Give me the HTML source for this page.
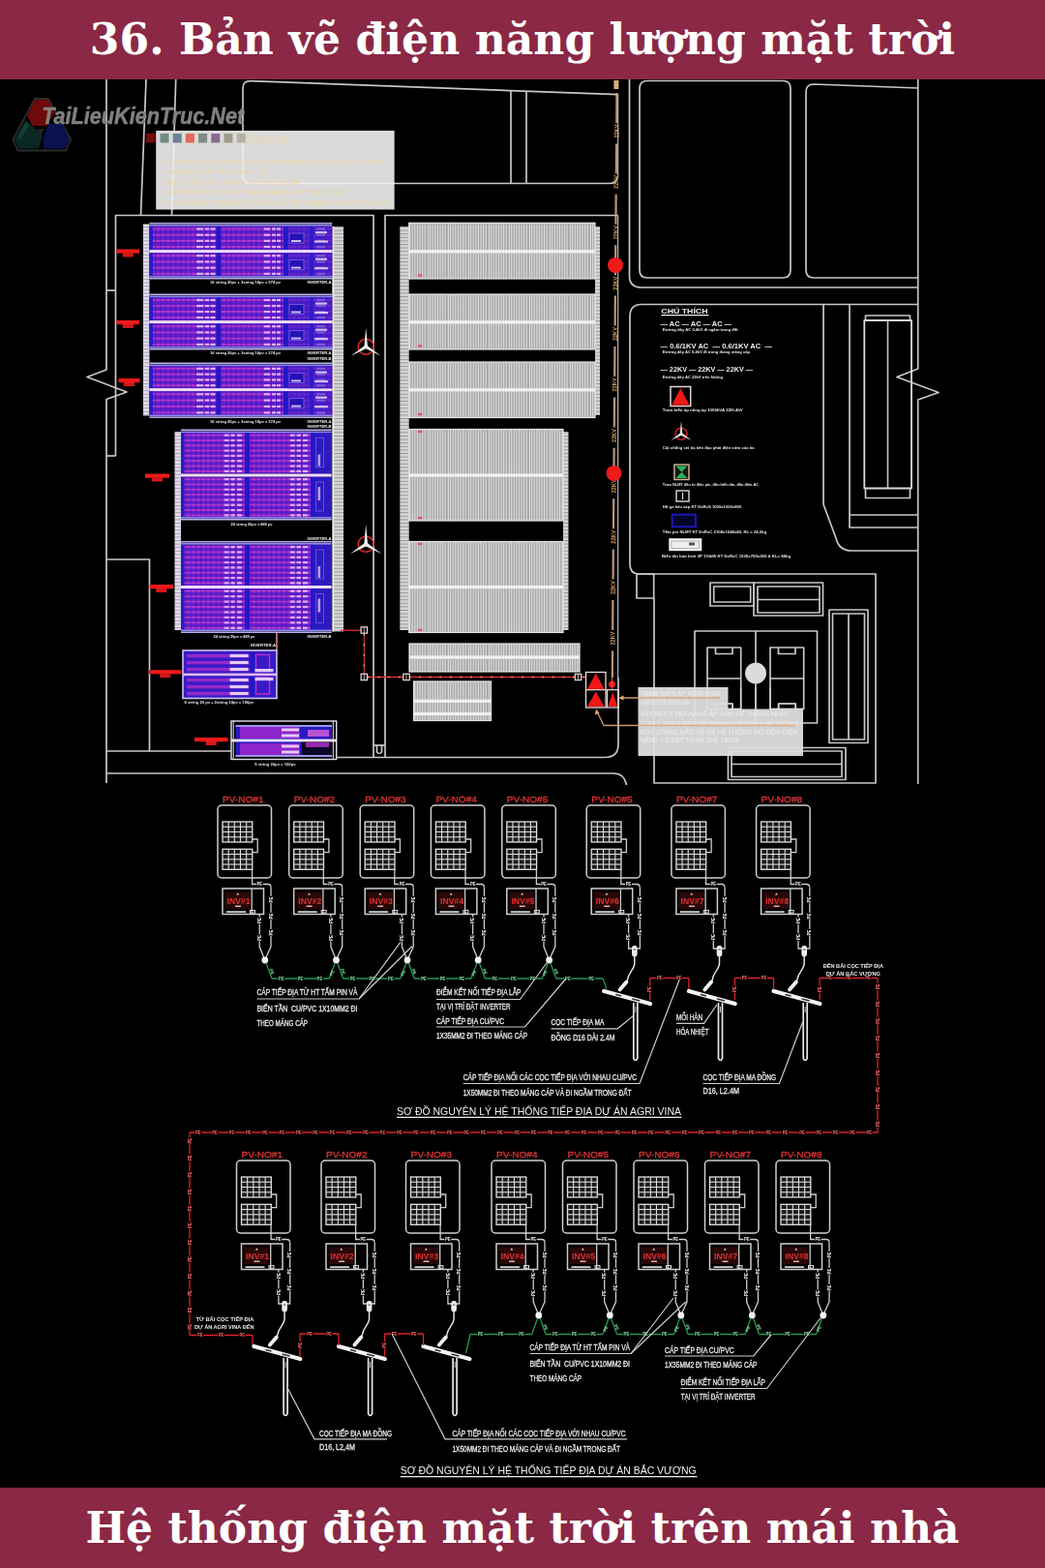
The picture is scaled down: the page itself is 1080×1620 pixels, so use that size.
<!DOCTYPE html>
<html lang="vi">
<head>
<meta charset="utf-8">
<title>36. Bản vẽ điện năng lượng mặt trời</title>
<style>
html,body{margin:0;padding:0;background:#000;}
body{width:1080px;height:1620px;overflow:hidden;position:relative;font-family:"DejaVu Serif","Liberation Serif",serif;}
.bar{position:absolute;left:0;width:1080px;background:#8a2845;color:#fff;font-weight:bold;text-align:center;white-space:nowrap;}
#top{top:0;height:82px;}
#bot{top:1537px;height:83px;}
.bar span{position:absolute;left:0;width:1080px;text-align:center;display:block;}
#top span{font-size:44px;line-height:82px;top:0px;letter-spacing:0.08px;opacity:0.999;}
#bot span{font-size:44px;line-height:82px;top:1px;letter-spacing:0.05px;opacity:0.999;}
svg{position:absolute;left:0;top:0;}
svg text{white-space:pre;}
</style>
</head>
<body>
<svg width="1080" height="1620" viewBox="0 0 1080 1620">
<g opacity="0.999">
<defs>
<pattern id="vl" x="423" width="21" height="4" patternUnits="userSpaceOnUse">
<rect width="21" height="4" fill="#a9a9a9"/>
<path d="M0.6 0V4M3.2 0V4M5.8 0V4M8.4 0V4M11 0V4M13.6 0V4M16.2 0V4M19.4 0V4" stroke="#dcdcdc" stroke-width="1.1"/>
</pattern>
<pattern id="pcell" x="155" width="5.2" height="4" patternUnits="userSpaceOnUse">
<rect x="0" width="1.3" height="4" fill="#2a16b8"/>
</pattern>
<pattern id="hl" width="4" height="3.6" patternUnits="userSpaceOnUse">
<rect width="4" height="3.6" fill="#d6d6d6"/>
<rect y="0" width="4" height="1" fill="#9a9a9a"/>
</pattern>
<pattern id="hlp" width="4" height="3.6" patternUnits="userSpaceOnUse">
<rect width="4" height="3.6" fill="#e2dcec"/>
<rect y="0" width="4" height="1" fill="#a9a3b8"/>
</pattern>
</defs>
<g id="siteplan" fill="none" stroke-linecap="butt" stroke-linejoin="round">
<polyline points="110,82 110,382 90,389.5 131,405 110,412.5 110,809" fill="none" stroke="#c8c8c8" stroke-width="1.7" />
<polyline points="110,300 119.5,300" fill="none" stroke="#c8c8c8" stroke-width="1.7" />
<polyline points="110,471 119.5,471" fill="none" stroke="#c8c8c8" stroke-width="1.7" />
<polyline points="119.5,471 119.5,222.5 386,222.5 386,782.5" fill="none" stroke="#c8c8c8" stroke-width="1.7" />
<polyline points="151,82 145.5,222.5" fill="none" stroke="#c8c8c8" stroke-width="1.7" />
<polyline points="181.7,82 177.5,222.5" fill="none" stroke="#c8c8c8" stroke-width="1.7" />
<polyline points="110,578 154.5,578 154.5,776" fill="none" stroke="#c8c8c8" stroke-width="1.7" />
<polyline points="110,776 239,776" fill="none" stroke="#c8c8c8" stroke-width="1.7" />
<path d="M110 799 H634 Q645 799 647.5 811" fill="none" stroke="#c8c8c8" stroke-width="1.7" />
<path d="M347.5 782.5 H625 Q639 782.5 639 769 V700" fill="none" stroke="#c8c8c8" stroke-width="1.7" />
<path d="M638.7 700 V222.5" fill="none" stroke="#c4c8d4" stroke-width="1.1" />
<path d="M638.7 222.5 H398 V782.5" fill="none" stroke="#c8c8c8" stroke-width="1.7" />
<path d="M389.5 770 V777 Q392 780 394.5 777 V770" fill="none" stroke="#c8c8c8" stroke-width="1.7" />
<polyline points="386,770 398,770" fill="none" stroke="#c8c8c8" stroke-width="1.7" />
<path d="M638.6 97.7 L259 83.7 Q251 83.5 251 91 V181 Q251 189.5 259 189.5 H630 Q637 189.5 638.2 183" fill="none" stroke="#c8c8c8" stroke-width="1.7" />
<path d="M638.7 97.7 V183" fill="none" stroke="#c4c8d4" stroke-width="1.1" />
<polyline points="528,93.5 528,189.5" fill="none" stroke="#c8c8c8" stroke-width="1.7" />
<polyline points="544,94 544,189.5" fill="none" stroke="#c8c8c8" stroke-width="1.7" />
<path d="M650.5 82 V285 Q650.5 297 663 297 H948.7" fill="none" stroke="#c8c8c8" stroke-width="1.7" />
<path d="M669 83.5 H809 Q817 83.5 817 91.5 V279 Q817 287 809 287 H669 Q661 287 661 279 V91.5 Q661 83.5 669 83.5 Z" fill="none" stroke="#c8c8c8" stroke-width="1.7" />
<path d="M948.7 91 L841 87 Q833 87 833 95 V279 Q833 287 841 287 H948.7" fill="none" stroke="#c8c8c8" stroke-width="1.7" />
<polyline points="948.7,82 948.7,381 927,389.5 970,405.5 948.7,413 948.7,810" fill="none" stroke="#c8c8c8" stroke-width="1.7" />
<path d="M948.7 314.5 H663 Q651 314.5 651 327 V583 Q651 593 661 593 H905 V809 H676 V618" fill="none" stroke="#c8c8c8" stroke-width="1.7" />
<rect x="658" y="593" width="17.7" height="25" fill="none" stroke="#c8c8c8" stroke-width="1.7" />
<path d="M851 314.5 V521 L864 556 Q867 569 880 569 H948.7" fill="none" stroke="#c8c8c8" stroke-width="1.7" />
<path d="M878 314.5 V545 H948.7 M878 532 H948.7" fill="none" stroke="#c8c8c8" stroke-width="1.7" />
<rect x="893.3" y="331" width="48.7" height="173.5" fill="none" stroke="#dcdcdc" stroke-width="1.8" />
<polyline points="917.5,331 917.5,504.5" fill="none" stroke="#c8c8c8" stroke-width="1.6" />
<path d="M894.5 331 V326 H940.5 V331 M894.5 504.5 V514.5 H940.5 V504.5" fill="none" stroke="#c8c8c8" stroke-width="1.7" />
<rect x="734" y="602" width="45" height="24" fill="none" stroke="#c8c8c8" stroke-width="1.7" />
<rect x="737.7" y="606" width="38" height="16" fill="none" stroke="#c8c8c8" stroke-width="1.7" />
<rect x="779" y="602" width="71.5" height="34" fill="none" stroke="#c8c8c8" stroke-width="1.7" />
<rect x="783" y="606" width="64" height="27" fill="none" stroke="#c8c8c8" stroke-width="1.7" />
<polyline points="783,619.5 847,619.5" fill="none" stroke="#c8c8c8" stroke-width="1.7" />
<rect x="857" y="630" width="40" height="137.5" fill="none" stroke="#c8c8c8" stroke-width="1.7" />
<rect x="860.5" y="634" width="33" height="130" fill="none" stroke="#c8c8c8" stroke-width="1.7" />
<polyline points="877,634 877,764" fill="none" stroke="#c8c8c8" stroke-width="1.7" />
<rect x="718" y="652" width="126.5" height="95" fill="none" stroke="#c8c8c8" stroke-width="1.7" />
<polyline points="781,652 781,747" fill="none" stroke="#c8c8c8" stroke-width="1.7" />
<rect x="731" y="669" width="34.7" height="63.5" fill="none" stroke="#c8c8c8" stroke-width="1.7" />
<polyline points="739.5,669 739.5,675.5 757,675.5 757,669" fill="none" stroke="#c8c8c8" stroke-width="1.7" />
<polyline points="739.5,732.5 739.5,727 757,727 757,732.5" fill="none" stroke="#c8c8c8" stroke-width="1.7" />
<polyline points="731,701 765.7,701" fill="none" stroke="#c8c8c8" stroke-width="1.7" />
<rect x="796" y="669" width="34.7" height="63.5" fill="none" stroke="#c8c8c8" stroke-width="1.7" />
<polyline points="804.5,669 804.5,675.5 822,675.5 822,669" fill="none" stroke="#c8c8c8" stroke-width="1.7" />
<polyline points="804.5,732.5 804.5,727 822,727 822,732.5" fill="none" stroke="#c8c8c8" stroke-width="1.7" />
<polyline points="796,701 830.7,701" fill="none" stroke="#c8c8c8" stroke-width="1.7" />
<rect x="752.5" y="772.5" width="121.5" height="33" fill="none" stroke="#c8c8c8" stroke-width="1.7" />
<rect x="756" y="776" width="114" height="26.5" fill="none" stroke="#c8c8c8" stroke-width="1.7" />
<polyline points="756,789.5 870,789.5" fill="none" stroke="#c8c8c8" stroke-width="1.7" />
</g>
<circle cx="781" cy="695.5" r="11" fill="#dcdcdc"/>
<g id="white-panels">
<rect x="413.3" y="234" width="9.4" height="417" fill="url(#hl)" />
<rect x="615" y="234" width="5" height="195" fill="url(#hl)" />
<rect x="582" y="446" width="5.5" height="205" fill="url(#hl)" />
<rect x="422.7" y="230.3" width="192.3" height="57.69999999999999" fill="url(#vl)" />
<rect x="422.7" y="230.3" width="192.3" height="57.69999999999999" fill="none" stroke="#e6e6e6" stroke-width="1.2" />
<rect x="422.7" y="258.2" width="192.3" height="3.2" fill="#f2f2f2" />
<rect x="422.7" y="304" width="192.3" height="57" fill="url(#vl)" />
<rect x="422.7" y="304" width="192.3" height="57" fill="none" stroke="#e6e6e6" stroke-width="1.2" />
<rect x="422.7" y="331.2" width="192.3" height="3.2" fill="#f2f2f2" />
<rect x="422.7" y="374" width="192.3" height="57.5" fill="url(#vl)" />
<rect x="422.7" y="374" width="192.3" height="57.5" fill="none" stroke="#e6e6e6" stroke-width="1.2" />
<rect x="422.7" y="401.2" width="192.3" height="3.2" fill="#f2f2f2" />
<rect x="422.7" y="443.5" width="159.3" height="94.5" fill="url(#vl)" />
<rect x="422.7" y="443.5" width="159.3" height="94.5" fill="none" stroke="#e6e6e6" stroke-width="1.2" />
<rect x="422.7" y="489.4" width="159.3" height="3.2" fill="#f2f2f2" />
<rect x="422.7" y="559.5" width="159.3" height="94.0" fill="url(#vl)" />
<rect x="422.7" y="559.5" width="159.3" height="94.0" fill="none" stroke="#e6e6e6" stroke-width="1.2" />
<rect x="422.7" y="604.9" width="159.3" height="3.2" fill="#f2f2f2" />
<rect x="423" y="665" width="176" height="29" fill="url(#vl)" />
<rect x="423" y="665" width="176" height="29" fill="none" stroke="#e6e6e6" stroke-width="1.2" />
<rect x="423" y="677.4" width="176" height="3.2" fill="#f2f2f2" />
<rect x="427.5" y="704" width="80.0" height="40.5" fill="url(#vl)" />
<rect x="427.5" y="704" width="80.0" height="40.5" fill="none" stroke="#e6e6e6" stroke-width="1.2" />
<rect x="427.5" y="722.6999999999999" width="80.0" height="3.2" fill="#f2f2f2" />
<rect x="427.5" y="735.9" width="80.0" height="3.2" fill="#f2f2f2" />
</g>
<g id="pv-arrays">
<rect x="148" y="231.5" width="6.5" height="198" fill="url(#hlp)" />
<rect x="344" y="234" width="11" height="418.5" fill="url(#hl)" />
<rect x="343.3" y="234" width="2" height="418.5" fill="#ececec" />
<rect x="180.5" y="446" width="6.5" height="205" fill="url(#hlp)" />
<rect x="154.5" y="233.5" width="188.8" height="24.600000000000023" fill="#6220cc" />
<rect x="157.5" y="235.57" width="185.8" height="2.0" fill="#c238d0" opacity="0.9" />
<rect x="157.5" y="241.73" width="185.8" height="2.0" fill="#c238d0" opacity="0.9" />
<rect x="157.5" y="247.88" width="185.8" height="2.0" fill="#c238d0" opacity="0.9" />
<rect x="157.5" y="254.03" width="185.8" height="2.0" fill="#c238d0" opacity="0.9" />
<rect x="154.5" y="233.5" width="188.8" height="24.600000000000023" fill="url(#pcell)" opacity="0.45" />
<rect x="154.5" y="233.5" width="3.4" height="24.600000000000023" fill="#2a1cc4" />
<rect x="223.5" y="233.5" width="4.5" height="24.600000000000023" fill="#2418c6" />
<rect x="293" y="233.5" width="5" height="24.600000000000023" fill="#2418c6" />
<rect x="320" y="233.5" width="4" height="24.600000000000023" fill="#2418c6" />
<rect x="203" y="235.47" width="7" height="2.2" fill="#ecd2f8" opacity="0.8" />
<rect x="212" y="235.47" width="4" height="2.2" fill="#ecd2f8" opacity="0.8" />
<rect x="217.5" y="235.47" width="5" height="2.2" fill="#ecd2f8" opacity="0.8" />
<rect x="273" y="235.47" width="6" height="2.2" fill="#ecd2f8" opacity="0.8" />
<rect x="281" y="235.47" width="4" height="2.2" fill="#ecd2f8" opacity="0.8" />
<rect x="286" y="235.47" width="4" height="2.2" fill="#ecd2f8" opacity="0.8" />
<rect x="327" y="235.47" width="9" height="2.2" fill="#ecd2f8" opacity="0.8" />
<rect x="203" y="241.63" width="7" height="2.2" fill="#ecd2f8" opacity="0.8" />
<rect x="212" y="241.63" width="4" height="2.2" fill="#ecd2f8" opacity="0.8" />
<rect x="217.5" y="241.63" width="5" height="2.2" fill="#ecd2f8" opacity="0.8" />
<rect x="273" y="241.63" width="6" height="2.2" fill="#ecd2f8" opacity="0.8" />
<rect x="281" y="241.63" width="4" height="2.2" fill="#ecd2f8" opacity="0.8" />
<rect x="286" y="241.63" width="4" height="2.2" fill="#ecd2f8" opacity="0.8" />
<rect x="327" y="241.63" width="9" height="2.2" fill="#ecd2f8" opacity="0.8" />
<rect x="203" y="247.78" width="7" height="2.2" fill="#ecd2f8" opacity="0.8" />
<rect x="212" y="247.78" width="4" height="2.2" fill="#ecd2f8" opacity="0.8" />
<rect x="217.5" y="247.78" width="5" height="2.2" fill="#ecd2f8" opacity="0.8" />
<rect x="273" y="247.78" width="6" height="2.2" fill="#ecd2f8" opacity="0.8" />
<rect x="281" y="247.78" width="4" height="2.2" fill="#ecd2f8" opacity="0.8" />
<rect x="286" y="247.78" width="4" height="2.2" fill="#ecd2f8" opacity="0.8" />
<rect x="327" y="247.78" width="9" height="2.2" fill="#ecd2f8" opacity="0.8" />
<rect x="203" y="253.93" width="7" height="2.2" fill="#ecd2f8" opacity="0.8" />
<rect x="212" y="253.93" width="4" height="2.2" fill="#ecd2f8" opacity="0.8" />
<rect x="217.5" y="253.93" width="5" height="2.2" fill="#ecd2f8" opacity="0.8" />
<rect x="273" y="253.93" width="6" height="2.2" fill="#ecd2f8" opacity="0.8" />
<rect x="281" y="253.93" width="4" height="2.2" fill="#ecd2f8" opacity="0.8" />
<rect x="286" y="253.93" width="4" height="2.2" fill="#ecd2f8" opacity="0.8" />
<rect x="327" y="253.93" width="9" height="2.2" fill="#ecd2f8" opacity="0.8" />
<rect x="154.5" y="261.1" width="188.8" height="24.899999999999977" fill="#6220cc" />
<rect x="157.5" y="263.21" width="185.8" height="2.0" fill="#c238d0" opacity="0.9" />
<rect x="157.5" y="269.44" width="185.8" height="2.0" fill="#c238d0" opacity="0.9" />
<rect x="157.5" y="275.66" width="185.8" height="2.0" fill="#c238d0" opacity="0.9" />
<rect x="157.5" y="281.89" width="185.8" height="2.0" fill="#c238d0" opacity="0.9" />
<rect x="154.5" y="261.1" width="188.8" height="24.899999999999977" fill="url(#pcell)" opacity="0.45" />
<rect x="154.5" y="261.1" width="3.4" height="24.899999999999977" fill="#2a1cc4" />
<rect x="223.5" y="261.1" width="4.5" height="24.899999999999977" fill="#2418c6" />
<rect x="293" y="261.1" width="5" height="24.899999999999977" fill="#2418c6" />
<rect x="320" y="261.1" width="4" height="24.899999999999977" fill="#2418c6" />
<rect x="203" y="263.11" width="7" height="2.2" fill="#ecd2f8" opacity="0.8" />
<rect x="212" y="263.11" width="4" height="2.2" fill="#ecd2f8" opacity="0.8" />
<rect x="217.5" y="263.11" width="5" height="2.2" fill="#ecd2f8" opacity="0.8" />
<rect x="273" y="263.11" width="6" height="2.2" fill="#ecd2f8" opacity="0.8" />
<rect x="281" y="263.11" width="4" height="2.2" fill="#ecd2f8" opacity="0.8" />
<rect x="286" y="263.11" width="4" height="2.2" fill="#ecd2f8" opacity="0.8" />
<rect x="327" y="263.11" width="9" height="2.2" fill="#ecd2f8" opacity="0.8" />
<rect x="203" y="269.34" width="7" height="2.2" fill="#ecd2f8" opacity="0.8" />
<rect x="212" y="269.34" width="4" height="2.2" fill="#ecd2f8" opacity="0.8" />
<rect x="217.5" y="269.34" width="5" height="2.2" fill="#ecd2f8" opacity="0.8" />
<rect x="273" y="269.34" width="6" height="2.2" fill="#ecd2f8" opacity="0.8" />
<rect x="281" y="269.34" width="4" height="2.2" fill="#ecd2f8" opacity="0.8" />
<rect x="286" y="269.34" width="4" height="2.2" fill="#ecd2f8" opacity="0.8" />
<rect x="327" y="269.34" width="9" height="2.2" fill="#ecd2f8" opacity="0.8" />
<rect x="203" y="275.56" width="7" height="2.2" fill="#ecd2f8" opacity="0.8" />
<rect x="212" y="275.56" width="4" height="2.2" fill="#ecd2f8" opacity="0.8" />
<rect x="217.5" y="275.56" width="5" height="2.2" fill="#ecd2f8" opacity="0.8" />
<rect x="273" y="275.56" width="6" height="2.2" fill="#ecd2f8" opacity="0.8" />
<rect x="281" y="275.56" width="4" height="2.2" fill="#ecd2f8" opacity="0.8" />
<rect x="286" y="275.56" width="4" height="2.2" fill="#ecd2f8" opacity="0.8" />
<rect x="327" y="275.56" width="9" height="2.2" fill="#ecd2f8" opacity="0.8" />
<rect x="203" y="281.79" width="7" height="2.2" fill="#ecd2f8" opacity="0.8" />
<rect x="212" y="281.79" width="4" height="2.2" fill="#ecd2f8" opacity="0.8" />
<rect x="217.5" y="281.79" width="5" height="2.2" fill="#ecd2f8" opacity="0.8" />
<rect x="273" y="281.79" width="6" height="2.2" fill="#ecd2f8" opacity="0.8" />
<rect x="281" y="281.79" width="4" height="2.2" fill="#ecd2f8" opacity="0.8" />
<rect x="286" y="281.79" width="4" height="2.2" fill="#ecd2f8" opacity="0.8" />
<rect x="327" y="281.79" width="9" height="2.2" fill="#ecd2f8" opacity="0.8" />
<rect x="154.5" y="232" width="188.8" height="1.6" fill="#8f8cf0" />
<rect x="154.5" y="285.1" width="188.8" height="1.6" fill="#8f8cf0" />
<rect x="154.5" y="230" width="188.8" height="1.5" fill="#b9aef2" />
<rect x="154.5" y="287.0" width="188.8" height="1.5" fill="#b9aef2" />
<rect x="154.5" y="258.1" width="188.8" height="3" fill="#f1dcf8" />
<rect x="297" y="234" width="46" height="23" fill="#3a1ec8" opacity="0.6" />
<rect x="299" y="241" width="15" height="10" fill="#2414b4" stroke="#7a50e0" stroke-width="1" />
<rect x="301" y="248" width="10" height="2" fill="#e8d8f8" opacity="0.85" />
<rect x="326" y="239" width="12" height="2.2" fill="#e8d8f8" opacity="0.85" />
<rect x="325" y="248.5" width="14" height="2.2" fill="#e8d8f8" opacity="0.85" />
<rect x="297" y="261.6" width="46" height="23" fill="#3a1ec8" opacity="0.6" />
<rect x="299" y="268.6" width="15" height="10" fill="#2414b4" stroke="#7a50e0" stroke-width="1" />
<rect x="301" y="275.6" width="10" height="2" fill="#e8d8f8" opacity="0.85" />
<rect x="326" y="266.6" width="12" height="2.2" fill="#e8d8f8" opacity="0.85" />
<rect x="325" y="276.1" width="14" height="2.2" fill="#e8d8f8" opacity="0.85" />
<rect x="154.5" y="307.0" width="188.8" height="24.100000000000023" fill="#6220cc" />
<rect x="157.5" y="309.01" width="185.8" height="2.0" fill="#c238d0" opacity="0.9" />
<rect x="157.5" y="315.04" width="185.8" height="2.0" fill="#c238d0" opacity="0.9" />
<rect x="157.5" y="321.06" width="185.8" height="2.0" fill="#c238d0" opacity="0.9" />
<rect x="157.5" y="327.09" width="185.8" height="2.0" fill="#c238d0" opacity="0.9" />
<rect x="154.5" y="307.0" width="188.8" height="24.100000000000023" fill="url(#pcell)" opacity="0.45" />
<rect x="154.5" y="307.0" width="3.4" height="24.100000000000023" fill="#2a1cc4" />
<rect x="223.5" y="307.0" width="4.5" height="24.100000000000023" fill="#2418c6" />
<rect x="293" y="307.0" width="5" height="24.100000000000023" fill="#2418c6" />
<rect x="320" y="307.0" width="4" height="24.100000000000023" fill="#2418c6" />
<rect x="203" y="308.91" width="7" height="2.2" fill="#ecd2f8" opacity="0.8" />
<rect x="212" y="308.91" width="4" height="2.2" fill="#ecd2f8" opacity="0.8" />
<rect x="217.5" y="308.91" width="5" height="2.2" fill="#ecd2f8" opacity="0.8" />
<rect x="273" y="308.91" width="6" height="2.2" fill="#ecd2f8" opacity="0.8" />
<rect x="281" y="308.91" width="4" height="2.2" fill="#ecd2f8" opacity="0.8" />
<rect x="286" y="308.91" width="4" height="2.2" fill="#ecd2f8" opacity="0.8" />
<rect x="327" y="308.91" width="9" height="2.2" fill="#ecd2f8" opacity="0.8" />
<rect x="203" y="314.94" width="7" height="2.2" fill="#ecd2f8" opacity="0.8" />
<rect x="212" y="314.94" width="4" height="2.2" fill="#ecd2f8" opacity="0.8" />
<rect x="217.5" y="314.94" width="5" height="2.2" fill="#ecd2f8" opacity="0.8" />
<rect x="273" y="314.94" width="6" height="2.2" fill="#ecd2f8" opacity="0.8" />
<rect x="281" y="314.94" width="4" height="2.2" fill="#ecd2f8" opacity="0.8" />
<rect x="286" y="314.94" width="4" height="2.2" fill="#ecd2f8" opacity="0.8" />
<rect x="327" y="314.94" width="9" height="2.2" fill="#ecd2f8" opacity="0.8" />
<rect x="203" y="320.96" width="7" height="2.2" fill="#ecd2f8" opacity="0.8" />
<rect x="212" y="320.96" width="4" height="2.2" fill="#ecd2f8" opacity="0.8" />
<rect x="217.5" y="320.96" width="5" height="2.2" fill="#ecd2f8" opacity="0.8" />
<rect x="273" y="320.96" width="6" height="2.2" fill="#ecd2f8" opacity="0.8" />
<rect x="281" y="320.96" width="4" height="2.2" fill="#ecd2f8" opacity="0.8" />
<rect x="286" y="320.96" width="4" height="2.2" fill="#ecd2f8" opacity="0.8" />
<rect x="327" y="320.96" width="9" height="2.2" fill="#ecd2f8" opacity="0.8" />
<rect x="203" y="326.99" width="7" height="2.2" fill="#ecd2f8" opacity="0.8" />
<rect x="212" y="326.99" width="4" height="2.2" fill="#ecd2f8" opacity="0.8" />
<rect x="217.5" y="326.99" width="5" height="2.2" fill="#ecd2f8" opacity="0.8" />
<rect x="273" y="326.99" width="6" height="2.2" fill="#ecd2f8" opacity="0.8" />
<rect x="281" y="326.99" width="4" height="2.2" fill="#ecd2f8" opacity="0.8" />
<rect x="286" y="326.99" width="4" height="2.2" fill="#ecd2f8" opacity="0.8" />
<rect x="327" y="326.99" width="9" height="2.2" fill="#ecd2f8" opacity="0.8" />
<rect x="154.5" y="334.1" width="188.8" height="24.899999999999977" fill="#6220cc" />
<rect x="157.5" y="336.21" width="185.8" height="2.0" fill="#c238d0" opacity="0.9" />
<rect x="157.5" y="342.44" width="185.8" height="2.0" fill="#c238d0" opacity="0.9" />
<rect x="157.5" y="348.66" width="185.8" height="2.0" fill="#c238d0" opacity="0.9" />
<rect x="157.5" y="354.89" width="185.8" height="2.0" fill="#c238d0" opacity="0.9" />
<rect x="154.5" y="334.1" width="188.8" height="24.899999999999977" fill="url(#pcell)" opacity="0.45" />
<rect x="154.5" y="334.1" width="3.4" height="24.899999999999977" fill="#2a1cc4" />
<rect x="223.5" y="334.1" width="4.5" height="24.899999999999977" fill="#2418c6" />
<rect x="293" y="334.1" width="5" height="24.899999999999977" fill="#2418c6" />
<rect x="320" y="334.1" width="4" height="24.899999999999977" fill="#2418c6" />
<rect x="203" y="336.11" width="7" height="2.2" fill="#ecd2f8" opacity="0.8" />
<rect x="212" y="336.11" width="4" height="2.2" fill="#ecd2f8" opacity="0.8" />
<rect x="217.5" y="336.11" width="5" height="2.2" fill="#ecd2f8" opacity="0.8" />
<rect x="273" y="336.11" width="6" height="2.2" fill="#ecd2f8" opacity="0.8" />
<rect x="281" y="336.11" width="4" height="2.2" fill="#ecd2f8" opacity="0.8" />
<rect x="286" y="336.11" width="4" height="2.2" fill="#ecd2f8" opacity="0.8" />
<rect x="327" y="336.11" width="9" height="2.2" fill="#ecd2f8" opacity="0.8" />
<rect x="203" y="342.34" width="7" height="2.2" fill="#ecd2f8" opacity="0.8" />
<rect x="212" y="342.34" width="4" height="2.2" fill="#ecd2f8" opacity="0.8" />
<rect x="217.5" y="342.34" width="5" height="2.2" fill="#ecd2f8" opacity="0.8" />
<rect x="273" y="342.34" width="6" height="2.2" fill="#ecd2f8" opacity="0.8" />
<rect x="281" y="342.34" width="4" height="2.2" fill="#ecd2f8" opacity="0.8" />
<rect x="286" y="342.34" width="4" height="2.2" fill="#ecd2f8" opacity="0.8" />
<rect x="327" y="342.34" width="9" height="2.2" fill="#ecd2f8" opacity="0.8" />
<rect x="203" y="348.56" width="7" height="2.2" fill="#ecd2f8" opacity="0.8" />
<rect x="212" y="348.56" width="4" height="2.2" fill="#ecd2f8" opacity="0.8" />
<rect x="217.5" y="348.56" width="5" height="2.2" fill="#ecd2f8" opacity="0.8" />
<rect x="273" y="348.56" width="6" height="2.2" fill="#ecd2f8" opacity="0.8" />
<rect x="281" y="348.56" width="4" height="2.2" fill="#ecd2f8" opacity="0.8" />
<rect x="286" y="348.56" width="4" height="2.2" fill="#ecd2f8" opacity="0.8" />
<rect x="327" y="348.56" width="9" height="2.2" fill="#ecd2f8" opacity="0.8" />
<rect x="203" y="354.79" width="7" height="2.2" fill="#ecd2f8" opacity="0.8" />
<rect x="212" y="354.79" width="4" height="2.2" fill="#ecd2f8" opacity="0.8" />
<rect x="217.5" y="354.79" width="5" height="2.2" fill="#ecd2f8" opacity="0.8" />
<rect x="273" y="354.79" width="6" height="2.2" fill="#ecd2f8" opacity="0.8" />
<rect x="281" y="354.79" width="4" height="2.2" fill="#ecd2f8" opacity="0.8" />
<rect x="286" y="354.79" width="4" height="2.2" fill="#ecd2f8" opacity="0.8" />
<rect x="327" y="354.79" width="9" height="2.2" fill="#ecd2f8" opacity="0.8" />
<rect x="154.5" y="305.5" width="188.8" height="1.6" fill="#8f8cf0" />
<rect x="154.5" y="358.1" width="188.8" height="1.6" fill="#8f8cf0" />
<rect x="154.5" y="303.5" width="188.8" height="1.5" fill="#b9aef2" />
<rect x="154.5" y="360.0" width="188.8" height="1.5" fill="#b9aef2" />
<rect x="154.5" y="331.1" width="188.8" height="3" fill="#f1dcf8" />
<rect x="297" y="307.5" width="46" height="23" fill="#3a1ec8" opacity="0.6" />
<rect x="299" y="314.5" width="15" height="10" fill="#2414b4" stroke="#7a50e0" stroke-width="1" />
<rect x="301" y="321.5" width="10" height="2" fill="#e8d8f8" opacity="0.85" />
<rect x="326" y="312.5" width="12" height="2.2" fill="#e8d8f8" opacity="0.85" />
<rect x="325" y="322.0" width="14" height="2.2" fill="#e8d8f8" opacity="0.85" />
<rect x="297" y="334.6" width="46" height="23" fill="#3a1ec8" opacity="0.6" />
<rect x="299" y="341.6" width="15" height="10" fill="#2414b4" stroke="#7a50e0" stroke-width="1" />
<rect x="301" y="348.6" width="10" height="2" fill="#e8d8f8" opacity="0.85" />
<rect x="326" y="339.6" width="12" height="2.2" fill="#e8d8f8" opacity="0.85" />
<rect x="325" y="349.1" width="14" height="2.2" fill="#e8d8f8" opacity="0.85" />
<rect x="154.5" y="378.0" width="188.8" height="23.100000000000023" fill="#6220cc" />
<rect x="157.5" y="379.89" width="185.8" height="2.0" fill="#c238d0" opacity="0.9" />
<rect x="157.5" y="385.66" width="185.8" height="2.0" fill="#c238d0" opacity="0.9" />
<rect x="157.5" y="391.44" width="185.8" height="2.0" fill="#c238d0" opacity="0.9" />
<rect x="157.5" y="397.21" width="185.8" height="2.0" fill="#c238d0" opacity="0.9" />
<rect x="154.5" y="378.0" width="188.8" height="23.100000000000023" fill="url(#pcell)" opacity="0.45" />
<rect x="154.5" y="378.0" width="3.4" height="23.100000000000023" fill="#2a1cc4" />
<rect x="223.5" y="378.0" width="4.5" height="23.100000000000023" fill="#2418c6" />
<rect x="293" y="378.0" width="5" height="23.100000000000023" fill="#2418c6" />
<rect x="320" y="378.0" width="4" height="23.100000000000023" fill="#2418c6" />
<rect x="203" y="379.79" width="7" height="2.2" fill="#ecd2f8" opacity="0.8" />
<rect x="212" y="379.79" width="4" height="2.2" fill="#ecd2f8" opacity="0.8" />
<rect x="217.5" y="379.79" width="5" height="2.2" fill="#ecd2f8" opacity="0.8" />
<rect x="273" y="379.79" width="6" height="2.2" fill="#ecd2f8" opacity="0.8" />
<rect x="281" y="379.79" width="4" height="2.2" fill="#ecd2f8" opacity="0.8" />
<rect x="286" y="379.79" width="4" height="2.2" fill="#ecd2f8" opacity="0.8" />
<rect x="327" y="379.79" width="9" height="2.2" fill="#ecd2f8" opacity="0.8" />
<rect x="203" y="385.56" width="7" height="2.2" fill="#ecd2f8" opacity="0.8" />
<rect x="212" y="385.56" width="4" height="2.2" fill="#ecd2f8" opacity="0.8" />
<rect x="217.5" y="385.56" width="5" height="2.2" fill="#ecd2f8" opacity="0.8" />
<rect x="273" y="385.56" width="6" height="2.2" fill="#ecd2f8" opacity="0.8" />
<rect x="281" y="385.56" width="4" height="2.2" fill="#ecd2f8" opacity="0.8" />
<rect x="286" y="385.56" width="4" height="2.2" fill="#ecd2f8" opacity="0.8" />
<rect x="327" y="385.56" width="9" height="2.2" fill="#ecd2f8" opacity="0.8" />
<rect x="203" y="391.34" width="7" height="2.2" fill="#ecd2f8" opacity="0.8" />
<rect x="212" y="391.34" width="4" height="2.2" fill="#ecd2f8" opacity="0.8" />
<rect x="217.5" y="391.34" width="5" height="2.2" fill="#ecd2f8" opacity="0.8" />
<rect x="273" y="391.34" width="6" height="2.2" fill="#ecd2f8" opacity="0.8" />
<rect x="281" y="391.34" width="4" height="2.2" fill="#ecd2f8" opacity="0.8" />
<rect x="286" y="391.34" width="4" height="2.2" fill="#ecd2f8" opacity="0.8" />
<rect x="327" y="391.34" width="9" height="2.2" fill="#ecd2f8" opacity="0.8" />
<rect x="203" y="397.11" width="7" height="2.2" fill="#ecd2f8" opacity="0.8" />
<rect x="212" y="397.11" width="4" height="2.2" fill="#ecd2f8" opacity="0.8" />
<rect x="217.5" y="397.11" width="5" height="2.2" fill="#ecd2f8" opacity="0.8" />
<rect x="273" y="397.11" width="6" height="2.2" fill="#ecd2f8" opacity="0.8" />
<rect x="281" y="397.11" width="4" height="2.2" fill="#ecd2f8" opacity="0.8" />
<rect x="286" y="397.11" width="4" height="2.2" fill="#ecd2f8" opacity="0.8" />
<rect x="327" y="397.11" width="9" height="2.2" fill="#ecd2f8" opacity="0.8" />
<rect x="154.5" y="404.1" width="188.8" height="25.399999999999977" fill="#6220cc" />
<rect x="157.5" y="406.28" width="185.8" height="2.0" fill="#c238d0" opacity="0.9" />
<rect x="157.5" y="412.62" width="185.8" height="2.0" fill="#c238d0" opacity="0.9" />
<rect x="157.5" y="418.98" width="185.8" height="2.0" fill="#c238d0" opacity="0.9" />
<rect x="157.5" y="425.32" width="185.8" height="2.0" fill="#c238d0" opacity="0.9" />
<rect x="154.5" y="404.1" width="188.8" height="25.399999999999977" fill="url(#pcell)" opacity="0.45" />
<rect x="154.5" y="404.1" width="3.4" height="25.399999999999977" fill="#2a1cc4" />
<rect x="223.5" y="404.1" width="4.5" height="25.399999999999977" fill="#2418c6" />
<rect x="293" y="404.1" width="5" height="25.399999999999977" fill="#2418c6" />
<rect x="320" y="404.1" width="4" height="25.399999999999977" fill="#2418c6" />
<rect x="203" y="406.18" width="7" height="2.2" fill="#ecd2f8" opacity="0.8" />
<rect x="212" y="406.18" width="4" height="2.2" fill="#ecd2f8" opacity="0.8" />
<rect x="217.5" y="406.18" width="5" height="2.2" fill="#ecd2f8" opacity="0.8" />
<rect x="273" y="406.18" width="6" height="2.2" fill="#ecd2f8" opacity="0.8" />
<rect x="281" y="406.18" width="4" height="2.2" fill="#ecd2f8" opacity="0.8" />
<rect x="286" y="406.18" width="4" height="2.2" fill="#ecd2f8" opacity="0.8" />
<rect x="327" y="406.18" width="9" height="2.2" fill="#ecd2f8" opacity="0.8" />
<rect x="203" y="412.52" width="7" height="2.2" fill="#ecd2f8" opacity="0.8" />
<rect x="212" y="412.52" width="4" height="2.2" fill="#ecd2f8" opacity="0.8" />
<rect x="217.5" y="412.52" width="5" height="2.2" fill="#ecd2f8" opacity="0.8" />
<rect x="273" y="412.52" width="6" height="2.2" fill="#ecd2f8" opacity="0.8" />
<rect x="281" y="412.52" width="4" height="2.2" fill="#ecd2f8" opacity="0.8" />
<rect x="286" y="412.52" width="4" height="2.2" fill="#ecd2f8" opacity="0.8" />
<rect x="327" y="412.52" width="9" height="2.2" fill="#ecd2f8" opacity="0.8" />
<rect x="203" y="418.88" width="7" height="2.2" fill="#ecd2f8" opacity="0.8" />
<rect x="212" y="418.88" width="4" height="2.2" fill="#ecd2f8" opacity="0.8" />
<rect x="217.5" y="418.88" width="5" height="2.2" fill="#ecd2f8" opacity="0.8" />
<rect x="273" y="418.88" width="6" height="2.2" fill="#ecd2f8" opacity="0.8" />
<rect x="281" y="418.88" width="4" height="2.2" fill="#ecd2f8" opacity="0.8" />
<rect x="286" y="418.88" width="4" height="2.2" fill="#ecd2f8" opacity="0.8" />
<rect x="327" y="418.88" width="9" height="2.2" fill="#ecd2f8" opacity="0.8" />
<rect x="203" y="425.22" width="7" height="2.2" fill="#ecd2f8" opacity="0.8" />
<rect x="212" y="425.22" width="4" height="2.2" fill="#ecd2f8" opacity="0.8" />
<rect x="217.5" y="425.22" width="5" height="2.2" fill="#ecd2f8" opacity="0.8" />
<rect x="273" y="425.22" width="6" height="2.2" fill="#ecd2f8" opacity="0.8" />
<rect x="281" y="425.22" width="4" height="2.2" fill="#ecd2f8" opacity="0.8" />
<rect x="286" y="425.22" width="4" height="2.2" fill="#ecd2f8" opacity="0.8" />
<rect x="327" y="425.22" width="9" height="2.2" fill="#ecd2f8" opacity="0.8" />
<rect x="154.5" y="376.5" width="188.8" height="1.6" fill="#8f8cf0" />
<rect x="154.5" y="428.6" width="188.8" height="1.6" fill="#8f8cf0" />
<rect x="154.5" y="374.5" width="188.8" height="1.5" fill="#b9aef2" />
<rect x="154.5" y="430.5" width="188.8" height="1.5" fill="#b9aef2" />
<rect x="154.5" y="401.1" width="188.8" height="3" fill="#f1dcf8" />
<rect x="297" y="378.5" width="46" height="23" fill="#3a1ec8" opacity="0.6" />
<rect x="299" y="385.5" width="15" height="10" fill="#2414b4" stroke="#7a50e0" stroke-width="1" />
<rect x="301" y="392.5" width="10" height="2" fill="#e8d8f8" opacity="0.85" />
<rect x="326" y="383.5" width="12" height="2.2" fill="#e8d8f8" opacity="0.85" />
<rect x="325" y="393.0" width="14" height="2.2" fill="#e8d8f8" opacity="0.85" />
<rect x="297" y="404.6" width="46" height="23" fill="#3a1ec8" opacity="0.6" />
<rect x="299" y="411.6" width="15" height="10" fill="#2414b4" stroke="#7a50e0" stroke-width="1" />
<rect x="301" y="418.6" width="10" height="2" fill="#e8d8f8" opacity="0.85" />
<rect x="326" y="409.6" width="12" height="2.2" fill="#e8d8f8" opacity="0.85" />
<rect x="325" y="419.1" width="14" height="2.2" fill="#e8d8f8" opacity="0.85" />
<rect x="187" y="447.0" width="155.7" height="42.5" fill="#6220cc" />
<rect x="190" y="448.66" width="152.7" height="2.0" fill="#c238d0" opacity="0.9" />
<rect x="190" y="453.97" width="152.7" height="2.0" fill="#c238d0" opacity="0.9" />
<rect x="190" y="459.28" width="152.7" height="2.0" fill="#c238d0" opacity="0.9" />
<rect x="190" y="464.59" width="152.7" height="2.0" fill="#c238d0" opacity="0.9" />
<rect x="190" y="469.91" width="152.7" height="2.0" fill="#c238d0" opacity="0.9" />
<rect x="190" y="475.22" width="152.7" height="2.0" fill="#c238d0" opacity="0.9" />
<rect x="190" y="480.53" width="152.7" height="2.0" fill="#c238d0" opacity="0.9" />
<rect x="190" y="485.84" width="152.7" height="2.0" fill="#c238d0" opacity="0.9" />
<rect x="187" y="447.0" width="155.7" height="42.5" fill="url(#pcell)" opacity="0.45" />
<rect x="187" y="447.0" width="3.4" height="42.5" fill="#2a1cc4" />
<rect x="323" y="447.0" width="19.69999999999999" height="42.5" fill="#2c1cc0" />
<rect x="253" y="447.0" width="5" height="42.5" fill="#2418c6" />
<rect x="321" y="447.0" width="4.5" height="42.5" fill="#2418c6" />
<rect x="232" y="448.56" width="4.5" height="2.2" fill="#ecd2f8" opacity="0.8" />
<rect x="238.5" y="448.56" width="4" height="2.2" fill="#ecd2f8" opacity="0.8" />
<rect x="245" y="448.56" width="5" height="2.2" fill="#ecd2f8" opacity="0.8" />
<rect x="300" y="448.56" width="4.5" height="2.2" fill="#ecd2f8" opacity="0.8" />
<rect x="306.5" y="448.56" width="4.5" height="2.2" fill="#ecd2f8" opacity="0.8" />
<rect x="313" y="448.56" width="5" height="2.2" fill="#ecd2f8" opacity="0.8" />
<rect x="232" y="453.87" width="4.5" height="2.2" fill="#ecd2f8" opacity="0.8" />
<rect x="238.5" y="453.87" width="4" height="2.2" fill="#ecd2f8" opacity="0.8" />
<rect x="245" y="453.87" width="5" height="2.2" fill="#ecd2f8" opacity="0.8" />
<rect x="300" y="453.87" width="4.5" height="2.2" fill="#ecd2f8" opacity="0.8" />
<rect x="306.5" y="453.87" width="4.5" height="2.2" fill="#ecd2f8" opacity="0.8" />
<rect x="313" y="453.87" width="5" height="2.2" fill="#ecd2f8" opacity="0.8" />
<rect x="232" y="459.18" width="4.5" height="2.2" fill="#ecd2f8" opacity="0.8" />
<rect x="238.5" y="459.18" width="4" height="2.2" fill="#ecd2f8" opacity="0.8" />
<rect x="245" y="459.18" width="5" height="2.2" fill="#ecd2f8" opacity="0.8" />
<rect x="300" y="459.18" width="4.5" height="2.2" fill="#ecd2f8" opacity="0.8" />
<rect x="306.5" y="459.18" width="4.5" height="2.2" fill="#ecd2f8" opacity="0.8" />
<rect x="313" y="459.18" width="5" height="2.2" fill="#ecd2f8" opacity="0.8" />
<rect x="232" y="464.49" width="4.5" height="2.2" fill="#ecd2f8" opacity="0.8" />
<rect x="238.5" y="464.49" width="4" height="2.2" fill="#ecd2f8" opacity="0.8" />
<rect x="245" y="464.49" width="5" height="2.2" fill="#ecd2f8" opacity="0.8" />
<rect x="300" y="464.49" width="4.5" height="2.2" fill="#ecd2f8" opacity="0.8" />
<rect x="306.5" y="464.49" width="4.5" height="2.2" fill="#ecd2f8" opacity="0.8" />
<rect x="313" y="464.49" width="5" height="2.2" fill="#ecd2f8" opacity="0.8" />
<rect x="232" y="469.81" width="4.5" height="2.2" fill="#ecd2f8" opacity="0.8" />
<rect x="238.5" y="469.81" width="4" height="2.2" fill="#ecd2f8" opacity="0.8" />
<rect x="245" y="469.81" width="5" height="2.2" fill="#ecd2f8" opacity="0.8" />
<rect x="300" y="469.81" width="4.5" height="2.2" fill="#ecd2f8" opacity="0.8" />
<rect x="306.5" y="469.81" width="4.5" height="2.2" fill="#ecd2f8" opacity="0.8" />
<rect x="313" y="469.81" width="5" height="2.2" fill="#ecd2f8" opacity="0.8" />
<rect x="232" y="475.12" width="4.5" height="2.2" fill="#ecd2f8" opacity="0.8" />
<rect x="238.5" y="475.12" width="4" height="2.2" fill="#ecd2f8" opacity="0.8" />
<rect x="245" y="475.12" width="5" height="2.2" fill="#ecd2f8" opacity="0.8" />
<rect x="300" y="475.12" width="4.5" height="2.2" fill="#ecd2f8" opacity="0.8" />
<rect x="306.5" y="475.12" width="4.5" height="2.2" fill="#ecd2f8" opacity="0.8" />
<rect x="313" y="475.12" width="5" height="2.2" fill="#ecd2f8" opacity="0.8" />
<rect x="232" y="480.43" width="4.5" height="2.2" fill="#ecd2f8" opacity="0.8" />
<rect x="238.5" y="480.43" width="4" height="2.2" fill="#ecd2f8" opacity="0.8" />
<rect x="245" y="480.43" width="5" height="2.2" fill="#ecd2f8" opacity="0.8" />
<rect x="300" y="480.43" width="4.5" height="2.2" fill="#ecd2f8" opacity="0.8" />
<rect x="306.5" y="480.43" width="4.5" height="2.2" fill="#ecd2f8" opacity="0.8" />
<rect x="313" y="480.43" width="5" height="2.2" fill="#ecd2f8" opacity="0.8" />
<rect x="232" y="485.74" width="4.5" height="2.2" fill="#ecd2f8" opacity="0.8" />
<rect x="238.5" y="485.74" width="4" height="2.2" fill="#ecd2f8" opacity="0.8" />
<rect x="245" y="485.74" width="5" height="2.2" fill="#ecd2f8" opacity="0.8" />
<rect x="300" y="485.74" width="4.5" height="2.2" fill="#ecd2f8" opacity="0.8" />
<rect x="306.5" y="485.74" width="4.5" height="2.2" fill="#ecd2f8" opacity="0.8" />
<rect x="313" y="485.74" width="5" height="2.2" fill="#ecd2f8" opacity="0.8" />
<rect x="187" y="492.5" width="155.7" height="42.5" fill="#6220cc" />
<rect x="190" y="494.16" width="152.7" height="2.0" fill="#c238d0" opacity="0.9" />
<rect x="190" y="499.47" width="152.7" height="2.0" fill="#c238d0" opacity="0.9" />
<rect x="190" y="504.78" width="152.7" height="2.0" fill="#c238d0" opacity="0.9" />
<rect x="190" y="510.09" width="152.7" height="2.0" fill="#c238d0" opacity="0.9" />
<rect x="190" y="515.41" width="152.7" height="2.0" fill="#c238d0" opacity="0.9" />
<rect x="190" y="520.72" width="152.7" height="2.0" fill="#c238d0" opacity="0.9" />
<rect x="190" y="526.03" width="152.7" height="2.0" fill="#c238d0" opacity="0.9" />
<rect x="190" y="531.34" width="152.7" height="2.0" fill="#c238d0" opacity="0.9" />
<rect x="187" y="492.5" width="155.7" height="42.5" fill="url(#pcell)" opacity="0.45" />
<rect x="187" y="492.5" width="3.4" height="42.5" fill="#2a1cc4" />
<rect x="323" y="492.5" width="19.69999999999999" height="42.5" fill="#2c1cc0" />
<rect x="253" y="492.5" width="5" height="42.5" fill="#2418c6" />
<rect x="321" y="492.5" width="4.5" height="42.5" fill="#2418c6" />
<rect x="232" y="494.06" width="4.5" height="2.2" fill="#ecd2f8" opacity="0.8" />
<rect x="238.5" y="494.06" width="4" height="2.2" fill="#ecd2f8" opacity="0.8" />
<rect x="245" y="494.06" width="5" height="2.2" fill="#ecd2f8" opacity="0.8" />
<rect x="300" y="494.06" width="4.5" height="2.2" fill="#ecd2f8" opacity="0.8" />
<rect x="306.5" y="494.06" width="4.5" height="2.2" fill="#ecd2f8" opacity="0.8" />
<rect x="313" y="494.06" width="5" height="2.2" fill="#ecd2f8" opacity="0.8" />
<rect x="232" y="499.37" width="4.5" height="2.2" fill="#ecd2f8" opacity="0.8" />
<rect x="238.5" y="499.37" width="4" height="2.2" fill="#ecd2f8" opacity="0.8" />
<rect x="245" y="499.37" width="5" height="2.2" fill="#ecd2f8" opacity="0.8" />
<rect x="300" y="499.37" width="4.5" height="2.2" fill="#ecd2f8" opacity="0.8" />
<rect x="306.5" y="499.37" width="4.5" height="2.2" fill="#ecd2f8" opacity="0.8" />
<rect x="313" y="499.37" width="5" height="2.2" fill="#ecd2f8" opacity="0.8" />
<rect x="232" y="504.68" width="4.5" height="2.2" fill="#ecd2f8" opacity="0.8" />
<rect x="238.5" y="504.68" width="4" height="2.2" fill="#ecd2f8" opacity="0.8" />
<rect x="245" y="504.68" width="5" height="2.2" fill="#ecd2f8" opacity="0.8" />
<rect x="300" y="504.68" width="4.5" height="2.2" fill="#ecd2f8" opacity="0.8" />
<rect x="306.5" y="504.68" width="4.5" height="2.2" fill="#ecd2f8" opacity="0.8" />
<rect x="313" y="504.68" width="5" height="2.2" fill="#ecd2f8" opacity="0.8" />
<rect x="232" y="509.99" width="4.5" height="2.2" fill="#ecd2f8" opacity="0.8" />
<rect x="238.5" y="509.99" width="4" height="2.2" fill="#ecd2f8" opacity="0.8" />
<rect x="245" y="509.99" width="5" height="2.2" fill="#ecd2f8" opacity="0.8" />
<rect x="300" y="509.99" width="4.5" height="2.2" fill="#ecd2f8" opacity="0.8" />
<rect x="306.5" y="509.99" width="4.5" height="2.2" fill="#ecd2f8" opacity="0.8" />
<rect x="313" y="509.99" width="5" height="2.2" fill="#ecd2f8" opacity="0.8" />
<rect x="232" y="515.31" width="4.5" height="2.2" fill="#ecd2f8" opacity="0.8" />
<rect x="238.5" y="515.31" width="4" height="2.2" fill="#ecd2f8" opacity="0.8" />
<rect x="245" y="515.31" width="5" height="2.2" fill="#ecd2f8" opacity="0.8" />
<rect x="300" y="515.31" width="4.5" height="2.2" fill="#ecd2f8" opacity="0.8" />
<rect x="306.5" y="515.31" width="4.5" height="2.2" fill="#ecd2f8" opacity="0.8" />
<rect x="313" y="515.31" width="5" height="2.2" fill="#ecd2f8" opacity="0.8" />
<rect x="232" y="520.62" width="4.5" height="2.2" fill="#ecd2f8" opacity="0.8" />
<rect x="238.5" y="520.62" width="4" height="2.2" fill="#ecd2f8" opacity="0.8" />
<rect x="245" y="520.62" width="5" height="2.2" fill="#ecd2f8" opacity="0.8" />
<rect x="300" y="520.62" width="4.5" height="2.2" fill="#ecd2f8" opacity="0.8" />
<rect x="306.5" y="520.62" width="4.5" height="2.2" fill="#ecd2f8" opacity="0.8" />
<rect x="313" y="520.62" width="5" height="2.2" fill="#ecd2f8" opacity="0.8" />
<rect x="232" y="525.93" width="4.5" height="2.2" fill="#ecd2f8" opacity="0.8" />
<rect x="238.5" y="525.93" width="4" height="2.2" fill="#ecd2f8" opacity="0.8" />
<rect x="245" y="525.93" width="5" height="2.2" fill="#ecd2f8" opacity="0.8" />
<rect x="300" y="525.93" width="4.5" height="2.2" fill="#ecd2f8" opacity="0.8" />
<rect x="306.5" y="525.93" width="4.5" height="2.2" fill="#ecd2f8" opacity="0.8" />
<rect x="313" y="525.93" width="5" height="2.2" fill="#ecd2f8" opacity="0.8" />
<rect x="232" y="531.24" width="4.5" height="2.2" fill="#ecd2f8" opacity="0.8" />
<rect x="238.5" y="531.24" width="4" height="2.2" fill="#ecd2f8" opacity="0.8" />
<rect x="245" y="531.24" width="5" height="2.2" fill="#ecd2f8" opacity="0.8" />
<rect x="300" y="531.24" width="4.5" height="2.2" fill="#ecd2f8" opacity="0.8" />
<rect x="306.5" y="531.24" width="4.5" height="2.2" fill="#ecd2f8" opacity="0.8" />
<rect x="313" y="531.24" width="5" height="2.2" fill="#ecd2f8" opacity="0.8" />
<rect x="187" y="445.5" width="155.7" height="1.6" fill="#8f8cf0" />
<rect x="187" y="534.1" width="155.7" height="1.6" fill="#8f8cf0" />
<rect x="187" y="443.5" width="155.7" height="1.5" fill="#b9aef2" />
<rect x="187" y="536.0" width="155.7" height="1.5" fill="#b9aef2" />
<rect x="187" y="489.5" width="155.7" height="3" fill="#f1dcf8" />
<rect x="326.5" y="452.5" width="8" height="30" fill="none" stroke="#6f48e0" stroke-width="1" />
<rect x="326.5" y="498" width="8" height="30" fill="none" stroke="#6f48e0" stroke-width="1" />
<rect x="328.5" y="469.5" width="2.6" height="12" fill="#d8c0f6" opacity="0.8" />
<rect x="328.5" y="503" width="2.6" height="14" fill="#d8c0f6" opacity="0.8" />
<rect x="187" y="562.5" width="155.7" height="42.5" fill="#6220cc" />
<rect x="190" y="564.16" width="152.7" height="2.0" fill="#c238d0" opacity="0.9" />
<rect x="190" y="569.47" width="152.7" height="2.0" fill="#c238d0" opacity="0.9" />
<rect x="190" y="574.78" width="152.7" height="2.0" fill="#c238d0" opacity="0.9" />
<rect x="190" y="580.09" width="152.7" height="2.0" fill="#c238d0" opacity="0.9" />
<rect x="190" y="585.41" width="152.7" height="2.0" fill="#c238d0" opacity="0.9" />
<rect x="190" y="590.72" width="152.7" height="2.0" fill="#c238d0" opacity="0.9" />
<rect x="190" y="596.03" width="152.7" height="2.0" fill="#c238d0" opacity="0.9" />
<rect x="190" y="601.34" width="152.7" height="2.0" fill="#c238d0" opacity="0.9" />
<rect x="187" y="562.5" width="155.7" height="42.5" fill="url(#pcell)" opacity="0.45" />
<rect x="187" y="562.5" width="3.4" height="42.5" fill="#2a1cc4" />
<rect x="323" y="562.5" width="19.69999999999999" height="42.5" fill="#2c1cc0" />
<rect x="253" y="562.5" width="5" height="42.5" fill="#2418c6" />
<rect x="321" y="562.5" width="4.5" height="42.5" fill="#2418c6" />
<rect x="232" y="564.06" width="4.5" height="2.2" fill="#ecd2f8" opacity="0.8" />
<rect x="238.5" y="564.06" width="4" height="2.2" fill="#ecd2f8" opacity="0.8" />
<rect x="245" y="564.06" width="5" height="2.2" fill="#ecd2f8" opacity="0.8" />
<rect x="300" y="564.06" width="4.5" height="2.2" fill="#ecd2f8" opacity="0.8" />
<rect x="306.5" y="564.06" width="4.5" height="2.2" fill="#ecd2f8" opacity="0.8" />
<rect x="313" y="564.06" width="5" height="2.2" fill="#ecd2f8" opacity="0.8" />
<rect x="232" y="569.37" width="4.5" height="2.2" fill="#ecd2f8" opacity="0.8" />
<rect x="238.5" y="569.37" width="4" height="2.2" fill="#ecd2f8" opacity="0.8" />
<rect x="245" y="569.37" width="5" height="2.2" fill="#ecd2f8" opacity="0.8" />
<rect x="300" y="569.37" width="4.5" height="2.2" fill="#ecd2f8" opacity="0.8" />
<rect x="306.5" y="569.37" width="4.5" height="2.2" fill="#ecd2f8" opacity="0.8" />
<rect x="313" y="569.37" width="5" height="2.2" fill="#ecd2f8" opacity="0.8" />
<rect x="232" y="574.68" width="4.5" height="2.2" fill="#ecd2f8" opacity="0.8" />
<rect x="238.5" y="574.68" width="4" height="2.2" fill="#ecd2f8" opacity="0.8" />
<rect x="245" y="574.68" width="5" height="2.2" fill="#ecd2f8" opacity="0.8" />
<rect x="300" y="574.68" width="4.5" height="2.2" fill="#ecd2f8" opacity="0.8" />
<rect x="306.5" y="574.68" width="4.5" height="2.2" fill="#ecd2f8" opacity="0.8" />
<rect x="313" y="574.68" width="5" height="2.2" fill="#ecd2f8" opacity="0.8" />
<rect x="232" y="579.99" width="4.5" height="2.2" fill="#ecd2f8" opacity="0.8" />
<rect x="238.5" y="579.99" width="4" height="2.2" fill="#ecd2f8" opacity="0.8" />
<rect x="245" y="579.99" width="5" height="2.2" fill="#ecd2f8" opacity="0.8" />
<rect x="300" y="579.99" width="4.5" height="2.2" fill="#ecd2f8" opacity="0.8" />
<rect x="306.5" y="579.99" width="4.5" height="2.2" fill="#ecd2f8" opacity="0.8" />
<rect x="313" y="579.99" width="5" height="2.2" fill="#ecd2f8" opacity="0.8" />
<rect x="232" y="585.31" width="4.5" height="2.2" fill="#ecd2f8" opacity="0.8" />
<rect x="238.5" y="585.31" width="4" height="2.2" fill="#ecd2f8" opacity="0.8" />
<rect x="245" y="585.31" width="5" height="2.2" fill="#ecd2f8" opacity="0.8" />
<rect x="300" y="585.31" width="4.5" height="2.2" fill="#ecd2f8" opacity="0.8" />
<rect x="306.5" y="585.31" width="4.5" height="2.2" fill="#ecd2f8" opacity="0.8" />
<rect x="313" y="585.31" width="5" height="2.2" fill="#ecd2f8" opacity="0.8" />
<rect x="232" y="590.62" width="4.5" height="2.2" fill="#ecd2f8" opacity="0.8" />
<rect x="238.5" y="590.62" width="4" height="2.2" fill="#ecd2f8" opacity="0.8" />
<rect x="245" y="590.62" width="5" height="2.2" fill="#ecd2f8" opacity="0.8" />
<rect x="300" y="590.62" width="4.5" height="2.2" fill="#ecd2f8" opacity="0.8" />
<rect x="306.5" y="590.62" width="4.5" height="2.2" fill="#ecd2f8" opacity="0.8" />
<rect x="313" y="590.62" width="5" height="2.2" fill="#ecd2f8" opacity="0.8" />
<rect x="232" y="595.93" width="4.5" height="2.2" fill="#ecd2f8" opacity="0.8" />
<rect x="238.5" y="595.93" width="4" height="2.2" fill="#ecd2f8" opacity="0.8" />
<rect x="245" y="595.93" width="5" height="2.2" fill="#ecd2f8" opacity="0.8" />
<rect x="300" y="595.93" width="4.5" height="2.2" fill="#ecd2f8" opacity="0.8" />
<rect x="306.5" y="595.93" width="4.5" height="2.2" fill="#ecd2f8" opacity="0.8" />
<rect x="313" y="595.93" width="5" height="2.2" fill="#ecd2f8" opacity="0.8" />
<rect x="232" y="601.24" width="4.5" height="2.2" fill="#ecd2f8" opacity="0.8" />
<rect x="238.5" y="601.24" width="4" height="2.2" fill="#ecd2f8" opacity="0.8" />
<rect x="245" y="601.24" width="5" height="2.2" fill="#ecd2f8" opacity="0.8" />
<rect x="300" y="601.24" width="4.5" height="2.2" fill="#ecd2f8" opacity="0.8" />
<rect x="306.5" y="601.24" width="4.5" height="2.2" fill="#ecd2f8" opacity="0.8" />
<rect x="313" y="601.24" width="5" height="2.2" fill="#ecd2f8" opacity="0.8" />
<rect x="187" y="608.0" width="155.7" height="43.5" fill="#6220cc" />
<rect x="190" y="609.72" width="152.7" height="2.0" fill="#c238d0" opacity="0.9" />
<rect x="190" y="615.16" width="152.7" height="2.0" fill="#c238d0" opacity="0.9" />
<rect x="190" y="620.59" width="152.7" height="2.0" fill="#c238d0" opacity="0.9" />
<rect x="190" y="626.03" width="152.7" height="2.0" fill="#c238d0" opacity="0.9" />
<rect x="190" y="631.47" width="152.7" height="2.0" fill="#c238d0" opacity="0.9" />
<rect x="190" y="636.91" width="152.7" height="2.0" fill="#c238d0" opacity="0.9" />
<rect x="190" y="642.34" width="152.7" height="2.0" fill="#c238d0" opacity="0.9" />
<rect x="190" y="647.78" width="152.7" height="2.0" fill="#c238d0" opacity="0.9" />
<rect x="187" y="608.0" width="155.7" height="43.5" fill="url(#pcell)" opacity="0.45" />
<rect x="187" y="608.0" width="3.4" height="43.5" fill="#2a1cc4" />
<rect x="323" y="608.0" width="19.69999999999999" height="43.5" fill="#2c1cc0" />
<rect x="253" y="608.0" width="5" height="43.5" fill="#2418c6" />
<rect x="321" y="608.0" width="4.5" height="43.5" fill="#2418c6" />
<rect x="232" y="609.62" width="4.5" height="2.2" fill="#ecd2f8" opacity="0.8" />
<rect x="238.5" y="609.62" width="4" height="2.2" fill="#ecd2f8" opacity="0.8" />
<rect x="245" y="609.62" width="5" height="2.2" fill="#ecd2f8" opacity="0.8" />
<rect x="300" y="609.62" width="4.5" height="2.2" fill="#ecd2f8" opacity="0.8" />
<rect x="306.5" y="609.62" width="4.5" height="2.2" fill="#ecd2f8" opacity="0.8" />
<rect x="313" y="609.62" width="5" height="2.2" fill="#ecd2f8" opacity="0.8" />
<rect x="232" y="615.06" width="4.5" height="2.2" fill="#ecd2f8" opacity="0.8" />
<rect x="238.5" y="615.06" width="4" height="2.2" fill="#ecd2f8" opacity="0.8" />
<rect x="245" y="615.06" width="5" height="2.2" fill="#ecd2f8" opacity="0.8" />
<rect x="300" y="615.06" width="4.5" height="2.2" fill="#ecd2f8" opacity="0.8" />
<rect x="306.5" y="615.06" width="4.5" height="2.2" fill="#ecd2f8" opacity="0.8" />
<rect x="313" y="615.06" width="5" height="2.2" fill="#ecd2f8" opacity="0.8" />
<rect x="232" y="620.49" width="4.5" height="2.2" fill="#ecd2f8" opacity="0.8" />
<rect x="238.5" y="620.49" width="4" height="2.2" fill="#ecd2f8" opacity="0.8" />
<rect x="245" y="620.49" width="5" height="2.2" fill="#ecd2f8" opacity="0.8" />
<rect x="300" y="620.49" width="4.5" height="2.2" fill="#ecd2f8" opacity="0.8" />
<rect x="306.5" y="620.49" width="4.5" height="2.2" fill="#ecd2f8" opacity="0.8" />
<rect x="313" y="620.49" width="5" height="2.2" fill="#ecd2f8" opacity="0.8" />
<rect x="232" y="625.93" width="4.5" height="2.2" fill="#ecd2f8" opacity="0.8" />
<rect x="238.5" y="625.93" width="4" height="2.2" fill="#ecd2f8" opacity="0.8" />
<rect x="245" y="625.93" width="5" height="2.2" fill="#ecd2f8" opacity="0.8" />
<rect x="300" y="625.93" width="4.5" height="2.2" fill="#ecd2f8" opacity="0.8" />
<rect x="306.5" y="625.93" width="4.5" height="2.2" fill="#ecd2f8" opacity="0.8" />
<rect x="313" y="625.93" width="5" height="2.2" fill="#ecd2f8" opacity="0.8" />
<rect x="232" y="631.37" width="4.5" height="2.2" fill="#ecd2f8" opacity="0.8" />
<rect x="238.5" y="631.37" width="4" height="2.2" fill="#ecd2f8" opacity="0.8" />
<rect x="245" y="631.37" width="5" height="2.2" fill="#ecd2f8" opacity="0.8" />
<rect x="300" y="631.37" width="4.5" height="2.2" fill="#ecd2f8" opacity="0.8" />
<rect x="306.5" y="631.37" width="4.5" height="2.2" fill="#ecd2f8" opacity="0.8" />
<rect x="313" y="631.37" width="5" height="2.2" fill="#ecd2f8" opacity="0.8" />
<rect x="232" y="636.81" width="4.5" height="2.2" fill="#ecd2f8" opacity="0.8" />
<rect x="238.5" y="636.81" width="4" height="2.2" fill="#ecd2f8" opacity="0.8" />
<rect x="245" y="636.81" width="5" height="2.2" fill="#ecd2f8" opacity="0.8" />
<rect x="300" y="636.81" width="4.5" height="2.2" fill="#ecd2f8" opacity="0.8" />
<rect x="306.5" y="636.81" width="4.5" height="2.2" fill="#ecd2f8" opacity="0.8" />
<rect x="313" y="636.81" width="5" height="2.2" fill="#ecd2f8" opacity="0.8" />
<rect x="232" y="642.24" width="4.5" height="2.2" fill="#ecd2f8" opacity="0.8" />
<rect x="238.5" y="642.24" width="4" height="2.2" fill="#ecd2f8" opacity="0.8" />
<rect x="245" y="642.24" width="5" height="2.2" fill="#ecd2f8" opacity="0.8" />
<rect x="300" y="642.24" width="4.5" height="2.2" fill="#ecd2f8" opacity="0.8" />
<rect x="306.5" y="642.24" width="4.5" height="2.2" fill="#ecd2f8" opacity="0.8" />
<rect x="313" y="642.24" width="5" height="2.2" fill="#ecd2f8" opacity="0.8" />
<rect x="232" y="647.68" width="4.5" height="2.2" fill="#ecd2f8" opacity="0.8" />
<rect x="238.5" y="647.68" width="4" height="2.2" fill="#ecd2f8" opacity="0.8" />
<rect x="245" y="647.68" width="5" height="2.2" fill="#ecd2f8" opacity="0.8" />
<rect x="300" y="647.68" width="4.5" height="2.2" fill="#ecd2f8" opacity="0.8" />
<rect x="306.5" y="647.68" width="4.5" height="2.2" fill="#ecd2f8" opacity="0.8" />
<rect x="313" y="647.68" width="5" height="2.2" fill="#ecd2f8" opacity="0.8" />
<rect x="187" y="561" width="155.7" height="1.6" fill="#8f8cf0" />
<rect x="187" y="650.6" width="155.7" height="1.6" fill="#8f8cf0" />
<rect x="187" y="559" width="155.7" height="1.5" fill="#b9aef2" />
<rect x="187" y="652.5" width="155.7" height="1.5" fill="#b9aef2" />
<rect x="187" y="605.0" width="155.7" height="3" fill="#f1dcf8" />
<rect x="326.5" y="568" width="8" height="30" fill="none" stroke="#6f48e0" stroke-width="1" />
<rect x="326.5" y="613.5" width="8" height="30" fill="none" stroke="#6f48e0" stroke-width="1" />
<rect x="328.5" y="585" width="2.6" height="12" fill="#d8c0f6" opacity="0.8" />
<rect x="328.5" y="618.5" width="2.6" height="14" fill="#d8c0f6" opacity="0.8" />
<rect x="189" y="672" width="97" height="49.5" fill="#3a1cc6" />
<rect x="193" y="675.9" width="65" height="3.4" fill="#a02ccc" opacity="0.9" />
<rect x="237.5" y="675.9" width="19" height="3.2" fill="#f0dcfa" opacity="0.9" />
<rect x="193" y="682.9" width="65" height="3.4" fill="#a02ccc" opacity="0.9" />
<rect x="237.5" y="682.9" width="19" height="3.2" fill="#f0dcfa" opacity="0.9" />
<rect x="193" y="689.9" width="65" height="3.4" fill="#a02ccc" opacity="0.9" />
<rect x="237.5" y="689.9" width="19" height="3.2" fill="#f0dcfa" opacity="0.9" />
<rect x="257.8" y="674" width="5.5" height="21" fill="#2418c6" />
<rect x="193" y="700.9" width="65" height="3.4" fill="#a02ccc" opacity="0.9" />
<rect x="237.5" y="700.9" width="19" height="3.2" fill="#f0dcfa" opacity="0.9" />
<rect x="193" y="707.9" width="65" height="3.4" fill="#a02ccc" opacity="0.9" />
<rect x="237.5" y="707.9" width="19" height="3.2" fill="#f0dcfa" opacity="0.9" />
<rect x="193" y="714.9" width="65" height="3.4" fill="#a02ccc" opacity="0.9" />
<rect x="237.5" y="714.9" width="19" height="3.2" fill="#f0dcfa" opacity="0.9" />
<rect x="257.8" y="699" width="5.5" height="20.5" fill="#2418c6" />
<rect x="264.5" y="676.5" width="14" height="17" fill="none" stroke="#c030c8" stroke-width="1.4" />
<rect x="264.5" y="700" width="14" height="17" fill="none" stroke="#c030c8" stroke-width="1.4" />
<rect x="263.5" y="691" width="19" height="3.2" fill="#f0dcfa" opacity="0.9" />
<rect x="263.5" y="700" width="19" height="3.2" fill="#f0dcfa" opacity="0.9" />
<rect x="189" y="672" width="97" height="49.5" fill="none" stroke="#cfc6f4" stroke-width="1.6" />
<rect x="189" y="695.6" width="97" height="2.6" fill="#e3b8ee" />
<rect x="239" y="745" width="108.7" height="39.5" fill="none" stroke="#e4e0f4" stroke-width="1.4" />
<rect x="241.2" y="745" width="0.1" height="39.5" fill="none" stroke="#cfcfe0" stroke-width="1" />
<rect x="344.3" y="745" width="0.1" height="39.5" fill="none" stroke="#cfcfe0" stroke-width="1" />
<rect x="243.5" y="749" width="99.5" height="33" fill="#2a1ac0" />
<rect x="248" y="751" width="62" height="12" fill="#9a28cc" opacity="0.9" />
<rect x="291" y="752.5" width="18" height="3" fill="#f0dcfa" opacity="0.9" />
<rect x="291" y="758.5" width="18" height="3" fill="#f0dcfa" opacity="0.9" />
<rect x="248" y="768" width="62" height="12" fill="#9a28cc" opacity="0.9" />
<rect x="291" y="769.5" width="18" height="3" fill="#f0dcfa" opacity="0.9" />
<rect x="291" y="775.5" width="18" height="3" fill="#f0dcfa" opacity="0.9" />
<rect x="312" y="766" width="31" height="14" fill="#0c0828" />
<rect x="318" y="754" width="22" height="7" fill="#d060d8" opacity="0.85" />
<rect x="316" y="767" width="24" height="5" fill="#b030c8" opacity="0.85" />
<rect x="243.5" y="749" width="99.5" height="2" fill="#9c98e8" />
<rect x="243.5" y="780" width="99.5" height="2" fill="#9c98e8" />
<rect x="239" y="763.6" width="108.7" height="2.8" fill="#f4e4fa" />
</g>
<g id="pv-labels">
<text x="217" y="292.6" font-family='"Liberation Sans", sans-serif' font-size="4.2" font-weight="bold" fill="#ededed" text-anchor="start" textLength="73" lengthAdjust="spacingAndGlyphs" style="" >16 string 20pv + 3string 18pv = 374 pv</text>
<text x="317.5" y="292.6" font-family='"Liberation Sans", sans-serif' font-size="4.2" font-weight="bold" fill="#ededed" text-anchor="start" textLength="25" lengthAdjust="spacingAndGlyphs" style="" >INVERTER-A</text>
<text x="217" y="365.6" font-family='"Liberation Sans", sans-serif' font-size="4.2" font-weight="bold" fill="#ededed" text-anchor="start" textLength="73" lengthAdjust="spacingAndGlyphs" style="" >16 string 20pv + 3string 18pv = 374 pv</text>
<text x="317.5" y="365.6" font-family='"Liberation Sans", sans-serif' font-size="4.2" font-weight="bold" fill="#ededed" text-anchor="start" textLength="25" lengthAdjust="spacingAndGlyphs" style="" >INVERTER-A</text>
<text x="217" y="436.6" font-family='"Liberation Sans", sans-serif' font-size="4.2" font-weight="bold" fill="#ededed" text-anchor="start" textLength="73" lengthAdjust="spacingAndGlyphs" style="" >16 string 20pv + 3string 18pv = 374 pv</text>
<text x="317.5" y="436.6" font-family='"Liberation Sans", sans-serif' font-size="4.2" font-weight="bold" fill="#ededed" text-anchor="start" textLength="25" lengthAdjust="spacingAndGlyphs" style="" >INVERTER-A</text>
<text x="317.5" y="442" font-family='"Liberation Sans", sans-serif' font-size="4.2" font-weight="bold" fill="#ededed" text-anchor="start" textLength="25" lengthAdjust="spacingAndGlyphs" style="" >INVERTER-B</text>
<text x="317.5" y="372" font-family='"Liberation Sans", sans-serif' font-size="4.2" font-weight="bold" fill="#ededed" text-anchor="start" textLength="25" lengthAdjust="spacingAndGlyphs" style="" >INVERTER-B</text>
<text x="238.5" y="542.8" font-family='"Liberation Sans", sans-serif' font-size="4.2" font-weight="bold" fill="#ededed" text-anchor="start" textLength="43" lengthAdjust="spacingAndGlyphs" style="" >24 string 20pv = 480 pv</text>
<text x="317.5" y="557.5" font-family='"Liberation Sans", sans-serif' font-size="4.2" font-weight="bold" fill="#ededed" text-anchor="start" textLength="25" lengthAdjust="spacingAndGlyphs" style="" >INVERTER-A</text>
<text x="220.5" y="658.5" font-family='"Liberation Sans", sans-serif' font-size="4.2" font-weight="bold" fill="#ededed" text-anchor="start" textLength="43" lengthAdjust="spacingAndGlyphs" style="" >24 string 20pv = 480 pv</text>
<text x="317.5" y="659" font-family='"Liberation Sans", sans-serif' font-size="4.2" font-weight="bold" fill="#ededed" text-anchor="start" textLength="25" lengthAdjust="spacingAndGlyphs" style="" >INVERTER-B</text>
<text x="259" y="667.6" font-family='"Liberation Sans", sans-serif' font-size="4.2" font-weight="bold" fill="#ededed" text-anchor="start" textLength="26" lengthAdjust="spacingAndGlyphs" style="" >INVERTER-A</text>
<text x="190.5" y="726.8" font-family='"Liberation Sans", sans-serif' font-size="4.2" font-weight="bold" fill="#ededed" text-anchor="start" textLength="71.5" lengthAdjust="spacingAndGlyphs" style="" >8 string 20 pv + 2string 18pv = 196pv</text>
<text x="263.3" y="791.2" font-family='"Liberation Sans", sans-serif' font-size="4.2" font-weight="bold" fill="#ededed" text-anchor="start" textLength="42.2" lengthAdjust="spacingAndGlyphs" style="" >5 string 20pv = 100pv</text>
</g>
<g id="red-markers">
<rect x="120.5" y="257.5" width="23.5" height="4.2" fill="#f31a1a" />
<rect x="126.75" y="261.5" width="11.0" height="4" fill="#d81818" />
<rect x="120.5" y="331" width="23.5" height="4.2" fill="#f31a1a" />
<rect x="126.75" y="335" width="11.0" height="4" fill="#d81818" />
<rect x="122.5" y="391" width="22.0" height="4.2" fill="#f31a1a" />
<rect x="128.0" y="395" width="11.0" height="4" fill="#d81818" />
<rect x="150" y="489.5" width="25" height="4.2" fill="#f31a1a" />
<rect x="157.0" y="493.5" width="11.0" height="4" fill="#d81818" />
<rect x="154.5" y="604" width="24.5" height="4.2" fill="#f31a1a" />
<rect x="161.25" y="608" width="11.0" height="4" fill="#d81818" />
<rect x="154" y="692.2" width="33.5" height="4.2" fill="#f31a1a" />
<rect x="165.25" y="696.2" width="11.0" height="4" fill="#d81818" />
<rect x="201" y="762" width="34.5" height="4.2" fill="#f31a1a" />
<rect x="212.75" y="766" width="11.0" height="4" fill="#d81818" />
</g>
<g id="cable22">
<line x1="637.6" y1="82" x2="632.8" y2="700" stroke="#dcae92" stroke-width="2.2" stroke-opacity="0.85" stroke-dasharray="31 21.4" stroke-dashoffset="-14"/>
<text transform="translate(639.5,142.5) rotate(-90.4)" font-family='"Liberation Sans", sans-serif' font-size="6.6" font-weight="bold" fill="#cf9a60" textLength="14" lengthAdjust="spacingAndGlyphs">22KV</text>
<text transform="translate(639.1,194.9) rotate(-90.4)" font-family='"Liberation Sans", sans-serif' font-size="6.6" font-weight="bold" fill="#cf9a60" textLength="14" lengthAdjust="spacingAndGlyphs">22KV</text>
<text transform="translate(638.7,247.3) rotate(-90.4)" font-family='"Liberation Sans", sans-serif' font-size="6.6" font-weight="bold" fill="#cf9a60" textLength="14" lengthAdjust="spacingAndGlyphs">22KV</text>
<text transform="translate(638.3,299.7) rotate(-90.4)" font-family='"Liberation Sans", sans-serif' font-size="6.6" font-weight="bold" fill="#cf9a60" textLength="14" lengthAdjust="spacingAndGlyphs">22KV</text>
<text transform="translate(637.9,352.1) rotate(-90.4)" font-family='"Liberation Sans", sans-serif' font-size="6.6" font-weight="bold" fill="#cf9a60" textLength="14" lengthAdjust="spacingAndGlyphs">22KV</text>
<text transform="translate(637.4,404.5) rotate(-90.4)" font-family='"Liberation Sans", sans-serif' font-size="6.6" font-weight="bold" fill="#cf9a60" textLength="14" lengthAdjust="spacingAndGlyphs">22KV</text>
<text transform="translate(637.0,456.9) rotate(-90.4)" font-family='"Liberation Sans", sans-serif' font-size="6.6" font-weight="bold" fill="#cf9a60" textLength="14" lengthAdjust="spacingAndGlyphs">22KV</text>
<text transform="translate(636.6,509.3) rotate(-90.4)" font-family='"Liberation Sans", sans-serif' font-size="6.6" font-weight="bold" fill="#cf9a60" textLength="14" lengthAdjust="spacingAndGlyphs">22KV</text>
<text transform="translate(636.2,561.7) rotate(-90.4)" font-family='"Liberation Sans", sans-serif' font-size="6.6" font-weight="bold" fill="#cf9a60" textLength="14" lengthAdjust="spacingAndGlyphs">22KV</text>
<text transform="translate(635.8,614.1) rotate(-90.4)" font-family='"Liberation Sans", sans-serif' font-size="6.6" font-weight="bold" fill="#cf9a60" textLength="14" lengthAdjust="spacingAndGlyphs">22KV</text>
<text transform="translate(635.4,666.5) rotate(-90.4)" font-family='"Liberation Sans", sans-serif' font-size="6.6" font-weight="bold" fill="#cf9a60" textLength="14" lengthAdjust="spacingAndGlyphs">22KV</text>
<rect x="634.4" y="83" width="5" height="9" fill="#dcae72" />
<circle cx="636" cy="274" r="8" fill="#f01c1c"/>
<circle cx="634.5" cy="489" r="8" fill="#f01c1c"/>
</g>
<g id="red-cable">
<line x1="352" y1="651.3" x2="376" y2="651.3" stroke="#e82a2a" stroke-width="1.3" />
<line x1="376.3" y1="651" x2="376.3" y2="699.5" stroke="#d83030" stroke-width="1.2" />
<line x1="376" y1="699.5" x2="606" y2="699.5" stroke="#d83030" stroke-width="1.3" />
<line x1="376.3" y1="655" x2="376.3" y2="697" stroke="#ff9c9c" stroke-width="1.6" stroke-opacity="0.8" stroke-dasharray="2 8.5"/>
<line x1="380" y1="699.5" x2="604" y2="699.5" stroke="#ff9c9c" stroke-width="1.7" stroke-opacity="0.8" stroke-dasharray="2 8.6"/>
<line x1="286" y1="654" x2="286" y2="672" stroke="#f0a0a0" stroke-width="1.4" />
<rect x="373.1" y="647.8" width="6.4" height="6.4" fill="#000" stroke="#f0e0e0" stroke-width="1.2" />
<line x1="376.3" y1="647.8" x2="376.3" y2="654.2" stroke="#f0e0e0" stroke-width="0.8" />
<rect x="373.1" y="696.3" width="6.4" height="6.4" fill="#000" stroke="#f0e0e0" stroke-width="1.2" />
<line x1="376.3" y1="696.3" x2="376.3" y2="702.7" stroke="#f0e0e0" stroke-width="0.8" />
<rect x="416.8" y="696.3" width="6.4" height="6.4" fill="#000" stroke="#f0e0e0" stroke-width="1.2" />
<line x1="420" y1="696.3" x2="420" y2="702.7" stroke="#f0e0e0" stroke-width="0.8" />
<rect x="594.3" y="696.3" width="6.4" height="6.4" fill="#000" stroke="#f0e0e0" stroke-width="1.2" />
<line x1="597.5" y1="696.3" x2="597.5" y2="702.7" stroke="#f0e0e0" stroke-width="0.8" />
<rect x="431.8" y="283.3" width="4.4" height="2.4" fill="#e8407a" opacity="0.9" />
<rect x="431.8" y="356.3" width="4.4" height="2.4" fill="#e8407a" opacity="0.9" />
<rect x="431.8" y="426.8" width="4.4" height="2.4" fill="#e8407a" opacity="0.9" />
<rect x="431.8" y="444.8" width="4.4" height="2.4" fill="#e8407a" opacity="0.9" />
<rect x="431.8" y="533.8" width="4.4" height="2.4" fill="#e8407a" opacity="0.9" />
<rect x="431.8" y="560.8" width="4.4" height="2.4" fill="#e8407a" opacity="0.9" />
<rect x="431.8" y="649.8" width="4.4" height="2.4" fill="#e8407a" opacity="0.9" />
</g>
<g id="rods">
<circle cx="378.2" cy="358.3" r="8" fill="none" stroke="#e02828" stroke-width="1.5"/>
<polygon points="380.0,358.3 376.4,358.3 378.2,338.8" fill="#f0f0f0"/>
<polygon points="377.3,359.8 379.1,356.8 393.7,367.8" fill="#f0f0f0"/>
<polygon points="377.3,356.8 379.1,359.8 362.7,367.8" fill="#f0f0f0"/>
<circle cx="378.2" cy="562.3" r="8" fill="none" stroke="#e02828" stroke-width="1.5"/>
<polygon points="380.1,562.3 376.3,562.3 378.2,541.8" fill="#f0f0f0"/>
<polygon points="377.2,563.9 379.2,560.7 394.5,572.3" fill="#f0f0f0"/>
<polygon points="377.2,560.7 379.2,563.9 361.9,572.3" fill="#f0f0f0"/>
</g>
<g id="tba">
<rect x="605.5" y="694.5" width="20.5" height="36.5" fill="none" stroke="#f2dede" stroke-width="1.3" />
<line x1="605.5" y1="712.7" x2="626" y2="712.7" stroke="#f2dede" stroke-width="1.2" />
<polygon points="607,712 624.5,712 615.75,695.5" fill="#f01818"/>
<polygon points="607,730 624.5,730 615.75,714.5" fill="#f01818"/>
<rect x="627.5" y="712.7" width="11.5" height="18.3" fill="none" stroke="#f2dede" stroke-width="1.2" />
<polygon points="628.5,730 638,730 633.25,714.5" fill="#f01818"/>
<circle cx="632.5" cy="707" r="3.6" fill="#f01818"/>
<line x1="632.5" y1="700" x2="632.5" y2="712" stroke="#e05050" stroke-width="1" />
</g>
<g id="legend">
<text x="683.3" y="324" font-family='"Liberation Sans", sans-serif' font-size="8.1" font-weight="bold" fill="#f0f0f0" text-anchor="start" textLength="48.2" lengthAdjust="spacingAndGlyphs" style="" >CHÚ THÍCH</text>
<line x1="683.3" y1="325.6" x2="732.5" y2="325.6" stroke="#f0f0f0" stroke-width="1.1" />
<text x="682.6" y="336.6" font-family='"Liberation Sans", sans-serif' font-size="7.6" font-weight="bold" fill="#efefef" text-anchor="start" textLength="73.4" lengthAdjust="spacingAndGlyphs" style="" >— AC — AC — AC —</text>
<text x="684.8" y="342.4" font-family='"Liberation Sans", sans-serif' font-size="4.2" font-weight="bold" fill="#e8e8e8" text-anchor="start" textLength="77.8" lengthAdjust="spacingAndGlyphs" style="" >Đường dây AC 0.4kV đi ngầm trong đất</text>
<text x="682.6" y="360.3" font-family='"Liberation Sans", sans-serif' font-size="7.6" font-weight="bold" fill="#efefef" text-anchor="start" textLength="115.4" lengthAdjust="spacingAndGlyphs" style="" >— 0.6/1KV AC  — 0.6/1KV AC  —</text>
<text x="684.8" y="365.2" font-family='"Liberation Sans", sans-serif' font-size="4.2" font-weight="bold" fill="#e8e8e8" text-anchor="start" textLength="90.2" lengthAdjust="spacingAndGlyphs" style="" >Đường dây AC 0.4kV đi trong thang máng cáp</text>
<text x="682.6" y="383.8" font-family='"Liberation Sans", sans-serif' font-size="7.6" font-weight="bold" fill="#efefef" text-anchor="start" textLength="95.4" lengthAdjust="spacingAndGlyphs" style="" >— 22KV — 22KV — 22KV —</text>
<text x="684.8" y="391" font-family='"Liberation Sans", sans-serif' font-size="4.2" font-weight="bold" fill="#e8e8e8" text-anchor="start" textLength="62.2" lengthAdjust="spacingAndGlyphs" style="" >Đường dây AC 22kV trên không</text>
<rect x="693" y="399.5" width="20.7" height="20" fill="none" stroke="#ead6d6" stroke-width="1.5" />
<polygon points="694.3,418.6 712.4,418.6 703.3499999999999,401" fill="#f01818"/>
<text x="684.8" y="424.6" font-family='"Liberation Sans", sans-serif' font-size="4.2" font-weight="bold" fill="#e8e8e8" text-anchor="start" textLength="83" lengthAdjust="spacingAndGlyphs" style="" >Trạm biến áp nâng áp 1000kVA 22/0.4kV</text>
<circle cx="704" cy="448.3" r="6" fill="none" stroke="#e02828" stroke-width="1.3"/>
<polygon points="705.3,448.3 702.7,448.3 704.0,434.7" fill="#f0f0f0"/>
<polygon points="703.3,449.4 704.7,447.2 714.8,454.9" fill="#f0f0f0"/>
<polygon points="703.3,447.2 704.7,449.4 693.2,454.9" fill="#f0f0f0"/>
<text x="684.8" y="464.2" font-family='"Liberation Sans", sans-serif' font-size="4.2" font-weight="bold" fill="#e8e8e8" text-anchor="start" textLength="94.8" lengthAdjust="spacingAndGlyphs" style="" >Cột chống sét tia tiên đạo phát điện sớm của tia</text>
<rect x="697" y="480" width="15" height="15.5" fill="#101810" stroke="#d8b898" stroke-width="1.4" />
<polygon points="698.5,481.5 710.5,481.5 704.5,487.7" fill="#2fae5a"/>
<polygon points="698.5,494 710.5,494 704.5,487.7" fill="#2fae5a"/>
<text x="684.8" y="501.6" font-family='"Liberation Sans", sans-serif' font-size="4.2" font-weight="bold" fill="#e8e8e8" text-anchor="start" textLength="99.2" lengthAdjust="spacingAndGlyphs" style="" >Trạm NLMT đầu tủ điện pin, đầu biến tần, đầu điện AC</text>
<rect x="699" y="507" width="13" height="11" fill="none" stroke="#ececec" stroke-width="1.3" />
<line x1="705.5" y1="509" x2="705.5" y2="516" stroke="#ececec" stroke-width="1.1" />
<text x="684.8" y="524.6" font-family='"Liberation Sans", sans-serif' font-size="4.2" font-weight="bold" fill="#e8e8e8" text-anchor="start" textLength="81.5" lengthAdjust="spacingAndGlyphs" style="" >Hố ga kéo cáp KT DxRxS 1000x1000x800</text>
<rect x="694.6" y="531.6" width="24.4" height="12.6" fill="#05052a" stroke="#1c1cc8" stroke-width="1.8" />
<text x="684.8" y="550.6" font-family='"Liberation Sans", sans-serif' font-size="4.2" font-weight="bold" fill="#e8e8e8" text-anchor="start" textLength="107.5" lengthAdjust="spacingAndGlyphs" style="" >Tấm pin NLMT KT DxRxC 2108x1048x40, KL = 24,5kg</text>
<rect x="691.3" y="556.2" width="34" height="13" fill="#f0f0f0" />
<rect x="694" y="559" width="28.5" height="7.5" fill="none" stroke="#8c8c8c" stroke-width="0.6" />
<rect x="712" y="560.5" width="6" height="3" fill="#555" />
<text x="684" y="575.6" font-family='"Liberation Sans", sans-serif' font-size="4.2" font-weight="bold" fill="#e8e8e8" text-anchor="start" textLength="133" lengthAdjust="spacingAndGlyphs" style="" >Biến tần hòa lưới 3P 110kW KT DxRxC 1035x700x365 &amp; KL= 84kg</text>
</g>
<g id="notes">
<rect x="151" y="138" width="9.5" height="9.5" fill="#741010" />
<rect x="161.2" y="135" width="246.4" height="81.5" fill="#dbdbdb" />
<g stroke="#f3f3f3" stroke-width="1.5" fill="none" opacity="0.85">
<path d="M180.1 135 L177.7 216.5"/>
<path d="M251 135 V181 Q251 189.5 259 189.5 H407.6"/>
</g>
<rect x="165.5" y="138" width="9" height="9.5" fill="#6f8d86" />
<rect x="178.7" y="138" width="9" height="9.5" fill="#6c8299" />
<rect x="191.9" y="138" width="9" height="9.5" fill="#e26b5a" />
<rect x="205.1" y="138" width="9" height="9.5" fill="#818b82" />
<rect x="218.3" y="138" width="9" height="9.5" fill="#8b6b92" />
<rect x="231.5" y="138" width="9" height="9.5" fill="#a19d8a" />
<rect x="244.7" y="138" width="9" height="9.5" fill="#b6b2a2" />
<text x="256" y="146.3" font-family='"Liberation Sans", sans-serif' font-size="8.5" font-weight="normal" fill="#f1d592" text-anchor="start" textLength="44" lengthAdjust="spacingAndGlyphs" opacity="0.8" style="" >GHI CHÚ:</text>
<line x1="256" y1="148.3" x2="300" y2="148.3" stroke="#f1d592" stroke-width="0.8" stroke-opacity="0.7" />
<text x="166" y="170.4" font-family='"Liberation Sans", sans-serif' font-size="6.6" font-weight="normal" fill="#f1d592" text-anchor="start" textLength="229" lengthAdjust="spacingAndGlyphs" opacity="0.8" style="" >- HỆ THỐNG ĐIỆN NĂNG LƯỢNG MẶT TRỜI ÁP MÁI CÔNG SUẤT 1 MWP</text>
<text x="166" y="180.4" font-family='"Liberation Sans", sans-serif' font-size="6.6" font-weight="normal" fill="#f1d592" text-anchor="start" textLength="111.5" lengthAdjust="spacingAndGlyphs" opacity="0.8" style="" >- TẤM PIN LẮP TRÊN MÁI TÔN</text>
<text x="166" y="191.4" font-family='"Liberation Sans", sans-serif' font-size="6.6" font-weight="normal" fill="#f1d592" text-anchor="start" textLength="144" lengthAdjust="spacingAndGlyphs" opacity="0.8" style="" >- BIẾN TẦN LẮP TẠI VỊ TRÍ TRÊN MÁI</text>
<text x="166" y="201.4" font-family='"Liberation Sans", sans-serif' font-size="6.6" font-weight="normal" fill="#f1d592" text-anchor="start" textLength="189" lengthAdjust="spacingAndGlyphs" opacity="0.8" style="" >- CÁP ĐIỆN ĐI TRONG THANG MÁNG CÁP TRÊN MÁI</text>
<text x="166" y="211.9" font-family='"Liberation Sans", sans-serif' font-size="6.6" font-weight="normal" fill="#f1d592" text-anchor="start" textLength="234" lengthAdjust="spacingAndGlyphs" opacity="0.8" style="" >- TOÀN BỘ HỆ THỐNG ĐƯỢC ĐẤU NỐI VỀ TRẠM BIẾN ÁP NÂNG ÁP</text>
<rect x="659.5" y="710" width="93" height="23" fill="#d4d4d4" />
<rect x="659.5" y="732.5" width="170.5" height="48.5" fill="#d4d4d4" />
<g stroke="#ececec" stroke-width="1.5" fill="none" opacity="0.5">
<path d="M676 710 V781 M718 710 V747 H830 M731 710 V732.5 H765.7 V710 M739.5 732.5 V727 H757 V732.5 M781 710 V747 M796 710 V732.5 H830 M805 732.5 V727 H822.5 V732.5 M752.5 781 V772.5 H830 M756 781 V776 H830"/>
</g>
<text x="661.5" y="718.5" font-family='"Liberation Sans", sans-serif' font-size="6.8" font-weight="normal" fill="#f6f3ec" text-anchor="start" textLength="83" lengthAdjust="spacingAndGlyphs" opacity="0.85" style="" >TRẠM BIẾN ÁP AGRI VINA</text>
<text x="661.5" y="728" font-family='"Liberation Sans", sans-serif' font-size="6.8" font-weight="normal" fill="#f6f3ec" text-anchor="start" textLength="51" lengthAdjust="spacingAndGlyphs" opacity="0.85" style="" >HIỆN CÓ 320kVA</text>
<text x="661.5" y="739.5" font-family='"Liberation Sans", sans-serif' font-size="6.8" font-weight="normal" fill="#f6f3ec" text-anchor="start" textLength="154" lengthAdjust="spacingAndGlyphs" opacity="0.85" style="" >XÂY MỚI 2 TBA NÂNG ÁP CHO HỆ THỐNG NLMT</text>
<text x="661.5" y="749.5" font-family='"Liberation Sans", sans-serif' font-size="6.8" font-weight="normal" fill="#f6f3ec" text-anchor="start" textLength="163" lengthAdjust="spacingAndGlyphs" opacity="0.85" style="" >GỒM 2 TRẠM BIẾN ÁP 630kVA-0.8/22kV + HỆ THỐNG</text>
<text x="661.5" y="758.5" font-family='"Liberation Sans", sans-serif' font-size="6.8" font-weight="normal" fill="#f6f3ec" text-anchor="start" textLength="163" lengthAdjust="spacingAndGlyphs" opacity="0.85" style="" >ĐO LƯỜNG, BẢO VỆ VÀ HỆ THỐNG ĐO ĐẾM ĐIỆN</text>
<text x="661.5" y="767" font-family='"Liberation Sans", sans-serif' font-size="6.8" font-weight="normal" fill="#f6f3ec" text-anchor="start" textLength="102" lengthAdjust="spacingAndGlyphs" opacity="0.85" style="" >NĂNG + 2 DÂY TỦ HẠ THẾ 1600A</text>
<line x1="642" y1="721" x2="744" y2="721" stroke="#e0a878" stroke-width="1.3" stroke-opacity="0.9" />
<polygon points="639,721 644.5,718.6 644.5,723.4" fill="#e0a878"/>
<polyline points="822.5,749.5 624,749.5 617,735" fill="none" stroke="#e0a878" stroke-width="1.3" opacity="0.9" />
<polygon points="616,732.5 619.6,737 615,738.2" fill="#e0a878"/>
</g>
<g id="watermark">
<polygon points="36,102 50,102 73,144 68,155.5 18.5,155.5 13.5,144" fill="none" stroke="#2e2e2e" stroke-width="1.8" stroke-linejoin="round"/>
<polygon points="36,103 50,103 56.5,116 48,130 33.5,130 28,120" fill="#6e0b0b"/>
<polygon points="26.5,124 34,131 44,140 40,153.5 19.5,153.5 15,144" fill="#0b2824"/>
<polygon points="18,141 27,126 30,129 21,145" fill="#163f38"/>
<polygon points="50,128 64.5,128 71.5,144 67,153.5 45,153.5 44.5,143" fill="#0a1250"/>
<polygon points="38,133 46,133 42,140" fill="#242424"/>
<text x="43.2" y="127.5" font-family='"Liberation Sans", sans-serif' font-size="24.3" font-weight="bold" fill="#828282" text-anchor="start" textLength="209" lengthAdjust="spacingAndGlyphs" style="font-style:italic" stroke="#828282" stroke-width="0.5">TaiLieuKienTruc.Net</text>
</g>
<g id="diagram1">
<text x="230" y="829.3" font-family='"Liberation Sans", sans-serif' font-size="9.8" font-weight="normal" fill="#d83434" text-anchor="start" textLength="42.5" lengthAdjust="spacingAndGlyphs" style="" stroke="#d83434" stroke-width="0.35">PV-NO#1</text>
<rect x="225" y="832" width="55.5" height="75" fill="none" stroke="#cfcfcf" stroke-width="1.5" rx="4" />
<rect x="230" y="849" width="30.8" height="21" fill="#1c1c1c" stroke="#e2e2e2" stroke-width="1.3" />
<line x1="236.16" y1="849" x2="236.16" y2="870" stroke="#dedede" stroke-width="1.1" />
<line x1="242.32" y1="849" x2="242.32" y2="870" stroke="#dedede" stroke-width="1.1" />
<line x1="248.48" y1="849" x2="248.48" y2="870" stroke="#dedede" stroke-width="1.1" />
<line x1="254.64" y1="849" x2="254.64" y2="870" stroke="#dedede" stroke-width="1.1" />
<line x1="230" y1="854.25" x2="260.8" y2="854.25" stroke="#dedede" stroke-width="1.1" />
<line x1="230" y1="859.5" x2="260.8" y2="859.5" stroke="#dedede" stroke-width="1.1" />
<line x1="230" y1="864.75" x2="260.8" y2="864.75" stroke="#dedede" stroke-width="1.1" />
<rect x="230" y="877.3" width="30.8" height="21" fill="#1c1c1c" stroke="#e2e2e2" stroke-width="1.3" />
<line x1="236.16" y1="877.3" x2="236.16" y2="898.3" stroke="#dedede" stroke-width="1.1" />
<line x1="242.32" y1="877.3" x2="242.32" y2="898.3" stroke="#dedede" stroke-width="1.1" />
<line x1="248.48" y1="877.3" x2="248.48" y2="898.3" stroke="#dedede" stroke-width="1.1" />
<line x1="254.64" y1="877.3" x2="254.64" y2="898.3" stroke="#dedede" stroke-width="1.1" />
<line x1="230" y1="882.55" x2="260.8" y2="882.55" stroke="#dedede" stroke-width="1.1" />
<line x1="230" y1="887.8" x2="260.8" y2="887.8" stroke="#dedede" stroke-width="1.1" />
<line x1="230" y1="893.05" x2="260.8" y2="893.05" stroke="#dedede" stroke-width="1.1" />
<polyline points="260.8,867 266.2,867 266.2,880.6 260.8,880.6" fill="none" stroke="#cfcfcf" stroke-width="1.3" />
<path d="M260.6 898.3 V913.5 H277 Q280 913.5 280 916.5" fill="none" stroke="#cfcfcf" stroke-width="1.3" />
<rect x="264.90000000000003" y="911.1" width="6.8" height="4.8" fill="#000" />
<text x="268.3" y="915.2" font-family='"Liberation Sans", sans-serif' font-size="4.6" font-weight="bold" fill="#f0f0f0" text-anchor="middle" textLength="5.6" lengthAdjust="spacingAndGlyphs" style="" >PE</text>
<rect x="230" y="918" width="42.5" height="26.5" fill="none" stroke="#cfcfcf" stroke-width="1.5" />
<line x1="260.2" y1="918" x2="260.2" y2="944.5" stroke="#cfcfcf" stroke-width="1.3" />
<rect x="232.5" y="921.5" width="26" height="17.5" fill="#2a0808" />
<text x="234.6" y="934" font-family='"Liberation Sans", sans-serif' font-size="9.6" font-weight="bold" fill="#e23232" text-anchor="start" textLength="24" lengthAdjust="spacingAndGlyphs" style="" >INV#1</text>
<polygon points="244.4,924.6 247.2,924.6 245.8,922.4" fill="#f0f0f0"/>
<rect x="243" y="935.6" width="6" height="1.3" fill="#f4d0d0" />
<rect x="234" y="941.3" width="20" height="1.6" fill="#e6e6e6" />
<rect x="258.5" y="940.6" width="5" height="2.6" fill="none" stroke="#e6e6e6" stroke-width="1" />
<path d="M268.2 944.5 V978 L272.6 989" fill="none" stroke="#cfcfcf" stroke-width="1.3" />
<path d="M280 916.5 V978 L275.0 989" fill="none" stroke="#cfcfcf" stroke-width="1.3" />
<rect x="266.0" y="947.4" width="4.4" height="7.2" fill="#000" />
<text transform="translate(269.8,951) rotate(-90)" font-family='"Liberation Sans", sans-serif' font-size="4.6" font-weight="bold" fill="#f0f0f0" text-anchor="middle" textLength="5.8" lengthAdjust="spacingAndGlyphs">PE</text>
<rect x="266.0" y="965.4" width="4.4" height="7.2" fill="#000" />
<text transform="translate(269.8,969) rotate(-90)" font-family='"Liberation Sans", sans-serif' font-size="4.6" font-weight="bold" fill="#f0f0f0" text-anchor="middle" textLength="5.8" lengthAdjust="spacingAndGlyphs">PE</text>
<rect x="277.8" y="925.9" width="4.4" height="7.2" fill="#000" />
<text transform="translate(281.6,929.5) rotate(-90)" font-family='"Liberation Sans", sans-serif' font-size="4.6" font-weight="bold" fill="#f0f0f0" text-anchor="middle" textLength="5.8" lengthAdjust="spacingAndGlyphs">PE</text>
<rect x="277.8" y="942.9" width="4.4" height="7.2" fill="#000" />
<text transform="translate(281.6,946.5) rotate(-90)" font-family='"Liberation Sans", sans-serif' font-size="4.6" font-weight="bold" fill="#f0f0f0" text-anchor="middle" textLength="5.8" lengthAdjust="spacingAndGlyphs">PE</text>
<rect x="277.8" y="959.9" width="4.4" height="7.2" fill="#000" />
<text transform="translate(281.6,963.5) rotate(-90)" font-family='"Liberation Sans", sans-serif' font-size="4.6" font-weight="bold" fill="#f0f0f0" text-anchor="middle" textLength="5.8" lengthAdjust="spacingAndGlyphs">PE</text>
<circle cx="273.8" cy="992" r="3.4" fill="#f4f4f4"/>
<text x="303.7" y="829.3" font-family='"Liberation Sans", sans-serif' font-size="9.8" font-weight="normal" fill="#d83434" text-anchor="start" textLength="42.5" lengthAdjust="spacingAndGlyphs" style="" stroke="#d83434" stroke-width="0.35">PV-NO#2</text>
<rect x="298.7" y="832" width="55.5" height="75" fill="none" stroke="#cfcfcf" stroke-width="1.5" rx="4" />
<rect x="303.7" y="849" width="30.8" height="21" fill="#1c1c1c" stroke="#e2e2e2" stroke-width="1.3" />
<line x1="309.86" y1="849" x2="309.86" y2="870" stroke="#dedede" stroke-width="1.1" />
<line x1="316.02" y1="849" x2="316.02" y2="870" stroke="#dedede" stroke-width="1.1" />
<line x1="322.18" y1="849" x2="322.18" y2="870" stroke="#dedede" stroke-width="1.1" />
<line x1="328.34" y1="849" x2="328.34" y2="870" stroke="#dedede" stroke-width="1.1" />
<line x1="303.7" y1="854.25" x2="334.5" y2="854.25" stroke="#dedede" stroke-width="1.1" />
<line x1="303.7" y1="859.5" x2="334.5" y2="859.5" stroke="#dedede" stroke-width="1.1" />
<line x1="303.7" y1="864.75" x2="334.5" y2="864.75" stroke="#dedede" stroke-width="1.1" />
<rect x="303.7" y="877.3" width="30.8" height="21" fill="#1c1c1c" stroke="#e2e2e2" stroke-width="1.3" />
<line x1="309.86" y1="877.3" x2="309.86" y2="898.3" stroke="#dedede" stroke-width="1.1" />
<line x1="316.02" y1="877.3" x2="316.02" y2="898.3" stroke="#dedede" stroke-width="1.1" />
<line x1="322.18" y1="877.3" x2="322.18" y2="898.3" stroke="#dedede" stroke-width="1.1" />
<line x1="328.34" y1="877.3" x2="328.34" y2="898.3" stroke="#dedede" stroke-width="1.1" />
<line x1="303.7" y1="882.55" x2="334.5" y2="882.55" stroke="#dedede" stroke-width="1.1" />
<line x1="303.7" y1="887.8" x2="334.5" y2="887.8" stroke="#dedede" stroke-width="1.1" />
<line x1="303.7" y1="893.05" x2="334.5" y2="893.05" stroke="#dedede" stroke-width="1.1" />
<polyline points="334.5,867 339.9,867 339.9,880.6 334.5,880.6" fill="none" stroke="#cfcfcf" stroke-width="1.3" />
<path d="M334.3 898.3 V913.5 H350.7 Q353.7 913.5 353.7 916.5" fill="none" stroke="#cfcfcf" stroke-width="1.3" />
<rect x="338.6" y="911.1" width="6.8" height="4.8" fill="#000" />
<text x="342.0" y="915.2" font-family='"Liberation Sans", sans-serif' font-size="4.6" font-weight="bold" fill="#f0f0f0" text-anchor="middle" textLength="5.6" lengthAdjust="spacingAndGlyphs" style="" >PE</text>
<rect x="303.7" y="918" width="42.5" height="26.5" fill="none" stroke="#cfcfcf" stroke-width="1.5" />
<line x1="333.9" y1="918" x2="333.9" y2="944.5" stroke="#cfcfcf" stroke-width="1.3" />
<rect x="306.2" y="921.5" width="26" height="17.5" fill="#2a0808" />
<text x="308.3" y="934" font-family='"Liberation Sans", sans-serif' font-size="9.6" font-weight="bold" fill="#e23232" text-anchor="start" textLength="24" lengthAdjust="spacingAndGlyphs" style="" >INV#2</text>
<polygon points="318.09999999999997,924.6 320.9,924.6 319.5,922.4" fill="#f0f0f0"/>
<rect x="316.7" y="935.6" width="6" height="1.3" fill="#f4d0d0" />
<rect x="307.7" y="941.3" width="20" height="1.6" fill="#e6e6e6" />
<rect x="332.2" y="940.6" width="5" height="2.6" fill="none" stroke="#e6e6e6" stroke-width="1" />
<path d="M341.9 944.5 V978 L346.3 989" fill="none" stroke="#cfcfcf" stroke-width="1.3" />
<path d="M353.7 916.5 V978 L348.7 989" fill="none" stroke="#cfcfcf" stroke-width="1.3" />
<rect x="339.7" y="947.4" width="4.4" height="7.2" fill="#000" />
<text transform="translate(343.5,951) rotate(-90)" font-family='"Liberation Sans", sans-serif' font-size="4.6" font-weight="bold" fill="#f0f0f0" text-anchor="middle" textLength="5.8" lengthAdjust="spacingAndGlyphs">PE</text>
<rect x="339.7" y="965.4" width="4.4" height="7.2" fill="#000" />
<text transform="translate(343.5,969) rotate(-90)" font-family='"Liberation Sans", sans-serif' font-size="4.6" font-weight="bold" fill="#f0f0f0" text-anchor="middle" textLength="5.8" lengthAdjust="spacingAndGlyphs">PE</text>
<rect x="351.5" y="925.9" width="4.4" height="7.2" fill="#000" />
<text transform="translate(355.3,929.5) rotate(-90)" font-family='"Liberation Sans", sans-serif' font-size="4.6" font-weight="bold" fill="#f0f0f0" text-anchor="middle" textLength="5.8" lengthAdjust="spacingAndGlyphs">PE</text>
<rect x="351.5" y="942.9" width="4.4" height="7.2" fill="#000" />
<text transform="translate(355.3,946.5) rotate(-90)" font-family='"Liberation Sans", sans-serif' font-size="4.6" font-weight="bold" fill="#f0f0f0" text-anchor="middle" textLength="5.8" lengthAdjust="spacingAndGlyphs">PE</text>
<rect x="351.5" y="959.9" width="4.4" height="7.2" fill="#000" />
<text transform="translate(355.3,963.5) rotate(-90)" font-family='"Liberation Sans", sans-serif' font-size="4.6" font-weight="bold" fill="#f0f0f0" text-anchor="middle" textLength="5.8" lengthAdjust="spacingAndGlyphs">PE</text>
<circle cx="347.5" cy="992" r="3.4" fill="#f4f4f4"/>
<text x="377.2" y="829.3" font-family='"Liberation Sans", sans-serif' font-size="9.8" font-weight="normal" fill="#d83434" text-anchor="start" textLength="42.5" lengthAdjust="spacingAndGlyphs" style="" stroke="#d83434" stroke-width="0.35">PV-NO#3</text>
<rect x="372.2" y="832" width="55.5" height="75" fill="none" stroke="#cfcfcf" stroke-width="1.5" rx="4" />
<rect x="377.2" y="849" width="30.8" height="21" fill="#1c1c1c" stroke="#e2e2e2" stroke-width="1.3" />
<line x1="383.36" y1="849" x2="383.36" y2="870" stroke="#dedede" stroke-width="1.1" />
<line x1="389.52" y1="849" x2="389.52" y2="870" stroke="#dedede" stroke-width="1.1" />
<line x1="395.68" y1="849" x2="395.68" y2="870" stroke="#dedede" stroke-width="1.1" />
<line x1="401.84" y1="849" x2="401.84" y2="870" stroke="#dedede" stroke-width="1.1" />
<line x1="377.2" y1="854.25" x2="408.0" y2="854.25" stroke="#dedede" stroke-width="1.1" />
<line x1="377.2" y1="859.5" x2="408.0" y2="859.5" stroke="#dedede" stroke-width="1.1" />
<line x1="377.2" y1="864.75" x2="408.0" y2="864.75" stroke="#dedede" stroke-width="1.1" />
<rect x="377.2" y="877.3" width="30.8" height="21" fill="#1c1c1c" stroke="#e2e2e2" stroke-width="1.3" />
<line x1="383.36" y1="877.3" x2="383.36" y2="898.3" stroke="#dedede" stroke-width="1.1" />
<line x1="389.52" y1="877.3" x2="389.52" y2="898.3" stroke="#dedede" stroke-width="1.1" />
<line x1="395.68" y1="877.3" x2="395.68" y2="898.3" stroke="#dedede" stroke-width="1.1" />
<line x1="401.84" y1="877.3" x2="401.84" y2="898.3" stroke="#dedede" stroke-width="1.1" />
<line x1="377.2" y1="882.55" x2="408.0" y2="882.55" stroke="#dedede" stroke-width="1.1" />
<line x1="377.2" y1="887.8" x2="408.0" y2="887.8" stroke="#dedede" stroke-width="1.1" />
<line x1="377.2" y1="893.05" x2="408.0" y2="893.05" stroke="#dedede" stroke-width="1.1" />
<polyline points="408.0,867 413.4,867 413.4,880.6 408.0,880.6" fill="none" stroke="#cfcfcf" stroke-width="1.3" />
<path d="M407.8 898.3 V913.5 H424.2 Q427.2 913.5 427.2 916.5" fill="none" stroke="#cfcfcf" stroke-width="1.3" />
<rect x="412.1" y="911.1" width="6.8" height="4.8" fill="#000" />
<text x="415.5" y="915.2" font-family='"Liberation Sans", sans-serif' font-size="4.6" font-weight="bold" fill="#f0f0f0" text-anchor="middle" textLength="5.6" lengthAdjust="spacingAndGlyphs" style="" >PE</text>
<rect x="377.2" y="918" width="42.5" height="26.5" fill="none" stroke="#cfcfcf" stroke-width="1.5" />
<line x1="407.4" y1="918" x2="407.4" y2="944.5" stroke="#cfcfcf" stroke-width="1.3" />
<rect x="379.7" y="921.5" width="26" height="17.5" fill="#2a0808" />
<text x="381.8" y="934" font-family='"Liberation Sans", sans-serif' font-size="9.6" font-weight="bold" fill="#e23232" text-anchor="start" textLength="24" lengthAdjust="spacingAndGlyphs" style="" >INV#3</text>
<polygon points="391.59999999999997,924.6 394.4,924.6 393.0,922.4" fill="#f0f0f0"/>
<rect x="390.2" y="935.6" width="6" height="1.3" fill="#f4d0d0" />
<rect x="381.2" y="941.3" width="20" height="1.6" fill="#e6e6e6" />
<rect x="405.7" y="940.6" width="5" height="2.6" fill="none" stroke="#e6e6e6" stroke-width="1" />
<path d="M415.4 944.5 V978 L419.8 989" fill="none" stroke="#cfcfcf" stroke-width="1.3" />
<path d="M427.2 916.5 V978 L422.2 989" fill="none" stroke="#cfcfcf" stroke-width="1.3" />
<rect x="413.2" y="947.4" width="4.4" height="7.2" fill="#000" />
<text transform="translate(417.0,951) rotate(-90)" font-family='"Liberation Sans", sans-serif' font-size="4.6" font-weight="bold" fill="#f0f0f0" text-anchor="middle" textLength="5.8" lengthAdjust="spacingAndGlyphs">PE</text>
<rect x="413.2" y="965.4" width="4.4" height="7.2" fill="#000" />
<text transform="translate(417.0,969) rotate(-90)" font-family='"Liberation Sans", sans-serif' font-size="4.6" font-weight="bold" fill="#f0f0f0" text-anchor="middle" textLength="5.8" lengthAdjust="spacingAndGlyphs">PE</text>
<rect x="425.0" y="925.9" width="4.4" height="7.2" fill="#000" />
<text transform="translate(428.8,929.5) rotate(-90)" font-family='"Liberation Sans", sans-serif' font-size="4.6" font-weight="bold" fill="#f0f0f0" text-anchor="middle" textLength="5.8" lengthAdjust="spacingAndGlyphs">PE</text>
<rect x="425.0" y="942.9" width="4.4" height="7.2" fill="#000" />
<text transform="translate(428.8,946.5) rotate(-90)" font-family='"Liberation Sans", sans-serif' font-size="4.6" font-weight="bold" fill="#f0f0f0" text-anchor="middle" textLength="5.8" lengthAdjust="spacingAndGlyphs">PE</text>
<rect x="425.0" y="959.9" width="4.4" height="7.2" fill="#000" />
<text transform="translate(428.8,963.5) rotate(-90)" font-family='"Liberation Sans", sans-serif' font-size="4.6" font-weight="bold" fill="#f0f0f0" text-anchor="middle" textLength="5.8" lengthAdjust="spacingAndGlyphs">PE</text>
<circle cx="421.0" cy="992" r="3.4" fill="#f4f4f4"/>
<text x="450.4" y="829.3" font-family='"Liberation Sans", sans-serif' font-size="9.8" font-weight="normal" fill="#d83434" text-anchor="start" textLength="42.5" lengthAdjust="spacingAndGlyphs" style="" stroke="#d83434" stroke-width="0.35">PV-NO#4</text>
<rect x="445.4" y="832" width="55.5" height="75" fill="none" stroke="#cfcfcf" stroke-width="1.5" rx="4" />
<rect x="450.4" y="849" width="30.8" height="21" fill="#1c1c1c" stroke="#e2e2e2" stroke-width="1.3" />
<line x1="456.56" y1="849" x2="456.56" y2="870" stroke="#dedede" stroke-width="1.1" />
<line x1="462.72" y1="849" x2="462.72" y2="870" stroke="#dedede" stroke-width="1.1" />
<line x1="468.88" y1="849" x2="468.88" y2="870" stroke="#dedede" stroke-width="1.1" />
<line x1="475.04" y1="849" x2="475.04" y2="870" stroke="#dedede" stroke-width="1.1" />
<line x1="450.4" y1="854.25" x2="481.2" y2="854.25" stroke="#dedede" stroke-width="1.1" />
<line x1="450.4" y1="859.5" x2="481.2" y2="859.5" stroke="#dedede" stroke-width="1.1" />
<line x1="450.4" y1="864.75" x2="481.2" y2="864.75" stroke="#dedede" stroke-width="1.1" />
<rect x="450.4" y="877.3" width="30.8" height="21" fill="#1c1c1c" stroke="#e2e2e2" stroke-width="1.3" />
<line x1="456.56" y1="877.3" x2="456.56" y2="898.3" stroke="#dedede" stroke-width="1.1" />
<line x1="462.72" y1="877.3" x2="462.72" y2="898.3" stroke="#dedede" stroke-width="1.1" />
<line x1="468.88" y1="877.3" x2="468.88" y2="898.3" stroke="#dedede" stroke-width="1.1" />
<line x1="475.04" y1="877.3" x2="475.04" y2="898.3" stroke="#dedede" stroke-width="1.1" />
<line x1="450.4" y1="882.55" x2="481.2" y2="882.55" stroke="#dedede" stroke-width="1.1" />
<line x1="450.4" y1="887.8" x2="481.2" y2="887.8" stroke="#dedede" stroke-width="1.1" />
<line x1="450.4" y1="893.05" x2="481.2" y2="893.05" stroke="#dedede" stroke-width="1.1" />
<polyline points="481.2,867 486.59999999999997,867 486.59999999999997,880.6 481.2,880.6" fill="none" stroke="#cfcfcf" stroke-width="1.3" />
<path d="M481.0 898.3 V913.5 H497.4 Q500.4 913.5 500.4 916.5" fill="none" stroke="#cfcfcf" stroke-width="1.3" />
<rect x="485.3" y="911.1" width="6.8" height="4.8" fill="#000" />
<text x="488.7" y="915.2" font-family='"Liberation Sans", sans-serif' font-size="4.6" font-weight="bold" fill="#f0f0f0" text-anchor="middle" textLength="5.6" lengthAdjust="spacingAndGlyphs" style="" >PE</text>
<rect x="450.4" y="918" width="42.5" height="26.5" fill="none" stroke="#cfcfcf" stroke-width="1.5" />
<line x1="480.59999999999997" y1="918" x2="480.59999999999997" y2="944.5" stroke="#cfcfcf" stroke-width="1.3" />
<rect x="452.9" y="921.5" width="26" height="17.5" fill="#2a0808" />
<text x="455.0" y="934" font-family='"Liberation Sans", sans-serif' font-size="9.6" font-weight="bold" fill="#e23232" text-anchor="start" textLength="24" lengthAdjust="spacingAndGlyphs" style="" >INV#4</text>
<polygon points="464.79999999999995,924.6 467.59999999999997,924.6 466.2,922.4" fill="#f0f0f0"/>
<rect x="463.4" y="935.6" width="6" height="1.3" fill="#f4d0d0" />
<rect x="454.4" y="941.3" width="20" height="1.6" fill="#e6e6e6" />
<rect x="478.9" y="940.6" width="5" height="2.6" fill="none" stroke="#e6e6e6" stroke-width="1" />
<path d="M488.59999999999997 944.5 V978 L493.0 989" fill="none" stroke="#cfcfcf" stroke-width="1.3" />
<path d="M500.4 916.5 V978 L495.4 989" fill="none" stroke="#cfcfcf" stroke-width="1.3" />
<rect x="486.4" y="947.4" width="4.4" height="7.2" fill="#000" />
<text transform="translate(490.2,951) rotate(-90)" font-family='"Liberation Sans", sans-serif' font-size="4.6" font-weight="bold" fill="#f0f0f0" text-anchor="middle" textLength="5.8" lengthAdjust="spacingAndGlyphs">PE</text>
<rect x="486.4" y="965.4" width="4.4" height="7.2" fill="#000" />
<text transform="translate(490.2,969) rotate(-90)" font-family='"Liberation Sans", sans-serif' font-size="4.6" font-weight="bold" fill="#f0f0f0" text-anchor="middle" textLength="5.8" lengthAdjust="spacingAndGlyphs">PE</text>
<rect x="498.2" y="925.9" width="4.4" height="7.2" fill="#000" />
<text transform="translate(502.0,929.5) rotate(-90)" font-family='"Liberation Sans", sans-serif' font-size="4.6" font-weight="bold" fill="#f0f0f0" text-anchor="middle" textLength="5.8" lengthAdjust="spacingAndGlyphs">PE</text>
<rect x="498.2" y="942.9" width="4.4" height="7.2" fill="#000" />
<text transform="translate(502.0,946.5) rotate(-90)" font-family='"Liberation Sans", sans-serif' font-size="4.6" font-weight="bold" fill="#f0f0f0" text-anchor="middle" textLength="5.8" lengthAdjust="spacingAndGlyphs">PE</text>
<rect x="498.2" y="959.9" width="4.4" height="7.2" fill="#000" />
<text transform="translate(502.0,963.5) rotate(-90)" font-family='"Liberation Sans", sans-serif' font-size="4.6" font-weight="bold" fill="#f0f0f0" text-anchor="middle" textLength="5.8" lengthAdjust="spacingAndGlyphs">PE</text>
<circle cx="494.2" cy="992" r="3.4" fill="#f4f4f4"/>
<text x="523.8" y="829.3" font-family='"Liberation Sans", sans-serif' font-size="9.8" font-weight="normal" fill="#d83434" text-anchor="start" textLength="42.5" lengthAdjust="spacingAndGlyphs" style="" stroke="#d83434" stroke-width="0.35">PV-NO#5</text>
<rect x="518.8" y="832" width="55.5" height="75" fill="none" stroke="#cfcfcf" stroke-width="1.5" rx="4" />
<rect x="523.8" y="849" width="30.8" height="21" fill="#1c1c1c" stroke="#e2e2e2" stroke-width="1.3" />
<line x1="529.96" y1="849" x2="529.96" y2="870" stroke="#dedede" stroke-width="1.1" />
<line x1="536.12" y1="849" x2="536.12" y2="870" stroke="#dedede" stroke-width="1.1" />
<line x1="542.28" y1="849" x2="542.28" y2="870" stroke="#dedede" stroke-width="1.1" />
<line x1="548.44" y1="849" x2="548.44" y2="870" stroke="#dedede" stroke-width="1.1" />
<line x1="523.8" y1="854.25" x2="554.5999999999999" y2="854.25" stroke="#dedede" stroke-width="1.1" />
<line x1="523.8" y1="859.5" x2="554.5999999999999" y2="859.5" stroke="#dedede" stroke-width="1.1" />
<line x1="523.8" y1="864.75" x2="554.5999999999999" y2="864.75" stroke="#dedede" stroke-width="1.1" />
<rect x="523.8" y="877.3" width="30.8" height="21" fill="#1c1c1c" stroke="#e2e2e2" stroke-width="1.3" />
<line x1="529.96" y1="877.3" x2="529.96" y2="898.3" stroke="#dedede" stroke-width="1.1" />
<line x1="536.12" y1="877.3" x2="536.12" y2="898.3" stroke="#dedede" stroke-width="1.1" />
<line x1="542.28" y1="877.3" x2="542.28" y2="898.3" stroke="#dedede" stroke-width="1.1" />
<line x1="548.44" y1="877.3" x2="548.44" y2="898.3" stroke="#dedede" stroke-width="1.1" />
<line x1="523.8" y1="882.55" x2="554.5999999999999" y2="882.55" stroke="#dedede" stroke-width="1.1" />
<line x1="523.8" y1="887.8" x2="554.5999999999999" y2="887.8" stroke="#dedede" stroke-width="1.1" />
<line x1="523.8" y1="893.05" x2="554.5999999999999" y2="893.05" stroke="#dedede" stroke-width="1.1" />
<polyline points="554.5999999999999,867 560.0,867 560.0,880.6 554.5999999999999,880.6" fill="none" stroke="#cfcfcf" stroke-width="1.3" />
<path d="M554.4 898.3 V913.5 H570.8 Q573.8 913.5 573.8 916.5" fill="none" stroke="#cfcfcf" stroke-width="1.3" />
<rect x="558.6999999999999" y="911.1" width="6.8" height="4.8" fill="#000" />
<text x="562.0999999999999" y="915.2" font-family='"Liberation Sans", sans-serif' font-size="4.6" font-weight="bold" fill="#f0f0f0" text-anchor="middle" textLength="5.6" lengthAdjust="spacingAndGlyphs" style="" >PE</text>
<rect x="523.8" y="918" width="42.5" height="26.5" fill="none" stroke="#cfcfcf" stroke-width="1.5" />
<line x1="554.0" y1="918" x2="554.0" y2="944.5" stroke="#cfcfcf" stroke-width="1.3" />
<rect x="526.3" y="921.5" width="26" height="17.5" fill="#2a0808" />
<text x="528.4" y="934" font-family='"Liberation Sans", sans-serif' font-size="9.6" font-weight="bold" fill="#e23232" text-anchor="start" textLength="24" lengthAdjust="spacingAndGlyphs" style="" >INV#5</text>
<polygon points="538.1999999999999,924.6 541.0,924.6 539.5999999999999,922.4" fill="#f0f0f0"/>
<rect x="536.8" y="935.6" width="6" height="1.3" fill="#f4d0d0" />
<rect x="527.8" y="941.3" width="20" height="1.6" fill="#e6e6e6" />
<rect x="552.3" y="940.6" width="5" height="2.6" fill="none" stroke="#e6e6e6" stroke-width="1" />
<path d="M562.0 944.5 V978 L566.3999999999999 989" fill="none" stroke="#cfcfcf" stroke-width="1.3" />
<path d="M573.8 916.5 V978 L568.8 989" fill="none" stroke="#cfcfcf" stroke-width="1.3" />
<rect x="559.8" y="947.4" width="4.4" height="7.2" fill="#000" />
<text transform="translate(563.6,951) rotate(-90)" font-family='"Liberation Sans", sans-serif' font-size="4.6" font-weight="bold" fill="#f0f0f0" text-anchor="middle" textLength="5.8" lengthAdjust="spacingAndGlyphs">PE</text>
<rect x="559.8" y="965.4" width="4.4" height="7.2" fill="#000" />
<text transform="translate(563.6,969) rotate(-90)" font-family='"Liberation Sans", sans-serif' font-size="4.6" font-weight="bold" fill="#f0f0f0" text-anchor="middle" textLength="5.8" lengthAdjust="spacingAndGlyphs">PE</text>
<rect x="571.5999999999999" y="925.9" width="4.4" height="7.2" fill="#000" />
<text transform="translate(575.4,929.5) rotate(-90)" font-family='"Liberation Sans", sans-serif' font-size="4.6" font-weight="bold" fill="#f0f0f0" text-anchor="middle" textLength="5.8" lengthAdjust="spacingAndGlyphs">PE</text>
<rect x="571.5999999999999" y="942.9" width="4.4" height="7.2" fill="#000" />
<text transform="translate(575.4,946.5) rotate(-90)" font-family='"Liberation Sans", sans-serif' font-size="4.6" font-weight="bold" fill="#f0f0f0" text-anchor="middle" textLength="5.8" lengthAdjust="spacingAndGlyphs">PE</text>
<rect x="571.5999999999999" y="959.9" width="4.4" height="7.2" fill="#000" />
<text transform="translate(575.4,963.5) rotate(-90)" font-family='"Liberation Sans", sans-serif' font-size="4.6" font-weight="bold" fill="#f0f0f0" text-anchor="middle" textLength="5.8" lengthAdjust="spacingAndGlyphs">PE</text>
<circle cx="567.5999999999999" cy="992" r="3.4" fill="#f4f4f4"/>
<text x="611.2" y="829.3" font-family='"Liberation Sans", sans-serif' font-size="9.8" font-weight="normal" fill="#d83434" text-anchor="start" textLength="42.5" lengthAdjust="spacingAndGlyphs" style="" stroke="#d83434" stroke-width="0.35">PV-NO#5</text>
<rect x="606.2" y="832" width="55.5" height="75" fill="none" stroke="#cfcfcf" stroke-width="1.5" rx="4" />
<rect x="611.2" y="849" width="30.8" height="21" fill="#1c1c1c" stroke="#e2e2e2" stroke-width="1.3" />
<line x1="617.36" y1="849" x2="617.36" y2="870" stroke="#dedede" stroke-width="1.1" />
<line x1="623.52" y1="849" x2="623.52" y2="870" stroke="#dedede" stroke-width="1.1" />
<line x1="629.68" y1="849" x2="629.68" y2="870" stroke="#dedede" stroke-width="1.1" />
<line x1="635.84" y1="849" x2="635.84" y2="870" stroke="#dedede" stroke-width="1.1" />
<line x1="611.2" y1="854.25" x2="642.0" y2="854.25" stroke="#dedede" stroke-width="1.1" />
<line x1="611.2" y1="859.5" x2="642.0" y2="859.5" stroke="#dedede" stroke-width="1.1" />
<line x1="611.2" y1="864.75" x2="642.0" y2="864.75" stroke="#dedede" stroke-width="1.1" />
<rect x="611.2" y="877.3" width="30.8" height="21" fill="#1c1c1c" stroke="#e2e2e2" stroke-width="1.3" />
<line x1="617.36" y1="877.3" x2="617.36" y2="898.3" stroke="#dedede" stroke-width="1.1" />
<line x1="623.52" y1="877.3" x2="623.52" y2="898.3" stroke="#dedede" stroke-width="1.1" />
<line x1="629.68" y1="877.3" x2="629.68" y2="898.3" stroke="#dedede" stroke-width="1.1" />
<line x1="635.84" y1="877.3" x2="635.84" y2="898.3" stroke="#dedede" stroke-width="1.1" />
<line x1="611.2" y1="882.55" x2="642.0" y2="882.55" stroke="#dedede" stroke-width="1.1" />
<line x1="611.2" y1="887.8" x2="642.0" y2="887.8" stroke="#dedede" stroke-width="1.1" />
<line x1="611.2" y1="893.05" x2="642.0" y2="893.05" stroke="#dedede" stroke-width="1.1" />
<polyline points="642.0,867 647.4000000000001,867 647.4000000000001,880.6 642.0,880.6" fill="none" stroke="#cfcfcf" stroke-width="1.3" />
<path d="M641.8000000000001 898.3 V913.5 H658.2 Q661.2 913.5 661.2 916.5" fill="none" stroke="#cfcfcf" stroke-width="1.3" />
<rect x="646.1" y="911.1" width="6.8" height="4.8" fill="#000" />
<text x="649.5" y="915.2" font-family='"Liberation Sans", sans-serif' font-size="4.6" font-weight="bold" fill="#f0f0f0" text-anchor="middle" textLength="5.6" lengthAdjust="spacingAndGlyphs" style="" >PE</text>
<rect x="611.2" y="918" width="42.5" height="26.5" fill="none" stroke="#cfcfcf" stroke-width="1.5" />
<line x1="641.4000000000001" y1="918" x2="641.4000000000001" y2="944.5" stroke="#cfcfcf" stroke-width="1.3" />
<rect x="613.7" y="921.5" width="26" height="17.5" fill="#2a0808" />
<text x="615.8000000000001" y="934" font-family='"Liberation Sans", sans-serif' font-size="9.6" font-weight="bold" fill="#e23232" text-anchor="start" textLength="24" lengthAdjust="spacingAndGlyphs" style="" >INV#6</text>
<polygon points="625.6,924.6 628.4000000000001,924.6 627.0,922.4" fill="#f0f0f0"/>
<rect x="624.2" y="935.6" width="6" height="1.3" fill="#f4d0d0" />
<rect x="615.2" y="941.3" width="20" height="1.6" fill="#e6e6e6" />
<rect x="639.7" y="940.6" width="5" height="2.6" fill="none" stroke="#e6e6e6" stroke-width="1" />
<path d="M649.6000000000001 944.5 V980 H661.4000000000001 V916.5" fill="none" stroke="#cfcfcf" stroke-width="1.3" />
<rect x="647.4000000000001" y="947.4" width="4.4" height="7.2" fill="#000" />
<text transform="translate(651.2000000000002,951) rotate(-90)" font-family='"Liberation Sans", sans-serif' font-size="4.6" font-weight="bold" fill="#f0f0f0" text-anchor="middle" textLength="5.8" lengthAdjust="spacingAndGlyphs">PE</text>
<rect x="647.4000000000001" y="964.4" width="4.4" height="7.2" fill="#000" />
<text transform="translate(651.2000000000002,968) rotate(-90)" font-family='"Liberation Sans", sans-serif' font-size="4.6" font-weight="bold" fill="#f0f0f0" text-anchor="middle" textLength="5.8" lengthAdjust="spacingAndGlyphs">PE</text>
<rect x="659.2" y="925.9" width="4.4" height="7.2" fill="#000" />
<text transform="translate(663.0000000000001,929.5) rotate(-90)" font-family='"Liberation Sans", sans-serif' font-size="4.6" font-weight="bold" fill="#f0f0f0" text-anchor="middle" textLength="5.8" lengthAdjust="spacingAndGlyphs">PE</text>
<rect x="659.2" y="942.9" width="4.4" height="7.2" fill="#000" />
<text transform="translate(663.0000000000001,946.5) rotate(-90)" font-family='"Liberation Sans", sans-serif' font-size="4.6" font-weight="bold" fill="#f0f0f0" text-anchor="middle" textLength="5.8" lengthAdjust="spacingAndGlyphs">PE</text>
<rect x="659.2" y="959.9" width="4.4" height="7.2" fill="#000" />
<text transform="translate(663.0000000000001,963.5) rotate(-90)" font-family='"Liberation Sans", sans-serif' font-size="4.6" font-weight="bold" fill="#f0f0f0" text-anchor="middle" textLength="5.8" lengthAdjust="spacingAndGlyphs">PE</text>
<rect x="653.0000000000001" y="977" width="5.6" height="11.4" fill="#ededed" rx="2.4" />
<rect x="654.6" y="980.5" width="2.4" height="1.2" fill="#666" />
<path d="M655.8000000000001 988 V995 C655.8000000000001 1002 649.3000000000001 1004 648.3000000000001 1013" fill="none" stroke="#e4e4e4" stroke-width="1.5" />
<line x1="647.5000000000001" y1="1014.5" x2="640.6" y2="1022.6" stroke="#f2f2f2" stroke-width="3.8" stroke-linecap="round"/>
<line x1="624.2" y1="1024" x2="672.0" y2="1037" stroke="#f4f4f4" stroke-width="4.3" stroke-linecap="round"/>
<line x1="636.2" y1="1027.4" x2="642.2" y2="1029" stroke="#333" stroke-width="1.6" />
<line x1="653.2" y1="1032" x2="661.2" y2="1034" stroke="#333" stroke-width="1.6" />
<path d="M654.8000000000001 1036 V1093.5 Q656.8000000000001 1097.5 658.8000000000001 1093.5 V1036" fill="none" stroke="#e8e8e8" stroke-width="1.7" />
<line x1="656.8000000000001" y1="1040" x2="656.8000000000001" y2="1046" stroke="#bdbdbd" stroke-width="1" />
<text x="698.9" y="829.3" font-family='"Liberation Sans", sans-serif' font-size="9.8" font-weight="normal" fill="#d83434" text-anchor="start" textLength="42.5" lengthAdjust="spacingAndGlyphs" style="" stroke="#d83434" stroke-width="0.35">PV-NO#7</text>
<rect x="693.9" y="832" width="55.5" height="75" fill="none" stroke="#cfcfcf" stroke-width="1.5" rx="4" />
<rect x="698.9" y="849" width="30.8" height="21" fill="#1c1c1c" stroke="#e2e2e2" stroke-width="1.3" />
<line x1="705.06" y1="849" x2="705.06" y2="870" stroke="#dedede" stroke-width="1.1" />
<line x1="711.22" y1="849" x2="711.22" y2="870" stroke="#dedede" stroke-width="1.1" />
<line x1="717.38" y1="849" x2="717.38" y2="870" stroke="#dedede" stroke-width="1.1" />
<line x1="723.54" y1="849" x2="723.54" y2="870" stroke="#dedede" stroke-width="1.1" />
<line x1="698.9" y1="854.25" x2="729.6999999999999" y2="854.25" stroke="#dedede" stroke-width="1.1" />
<line x1="698.9" y1="859.5" x2="729.6999999999999" y2="859.5" stroke="#dedede" stroke-width="1.1" />
<line x1="698.9" y1="864.75" x2="729.6999999999999" y2="864.75" stroke="#dedede" stroke-width="1.1" />
<rect x="698.9" y="877.3" width="30.8" height="21" fill="#1c1c1c" stroke="#e2e2e2" stroke-width="1.3" />
<line x1="705.06" y1="877.3" x2="705.06" y2="898.3" stroke="#dedede" stroke-width="1.1" />
<line x1="711.22" y1="877.3" x2="711.22" y2="898.3" stroke="#dedede" stroke-width="1.1" />
<line x1="717.38" y1="877.3" x2="717.38" y2="898.3" stroke="#dedede" stroke-width="1.1" />
<line x1="723.54" y1="877.3" x2="723.54" y2="898.3" stroke="#dedede" stroke-width="1.1" />
<line x1="698.9" y1="882.55" x2="729.6999999999999" y2="882.55" stroke="#dedede" stroke-width="1.1" />
<line x1="698.9" y1="887.8" x2="729.6999999999999" y2="887.8" stroke="#dedede" stroke-width="1.1" />
<line x1="698.9" y1="893.05" x2="729.6999999999999" y2="893.05" stroke="#dedede" stroke-width="1.1" />
<polyline points="729.6999999999999,867 735.1,867 735.1,880.6 729.6999999999999,880.6" fill="none" stroke="#cfcfcf" stroke-width="1.3" />
<path d="M729.5 898.3 V913.5 H745.9 Q748.9 913.5 748.9 916.5" fill="none" stroke="#cfcfcf" stroke-width="1.3" />
<rect x="733.8" y="911.1" width="6.8" height="4.8" fill="#000" />
<text x="737.1999999999999" y="915.2" font-family='"Liberation Sans", sans-serif' font-size="4.6" font-weight="bold" fill="#f0f0f0" text-anchor="middle" textLength="5.6" lengthAdjust="spacingAndGlyphs" style="" >PE</text>
<rect x="698.9" y="918" width="42.5" height="26.5" fill="none" stroke="#cfcfcf" stroke-width="1.5" />
<line x1="729.1" y1="918" x2="729.1" y2="944.5" stroke="#cfcfcf" stroke-width="1.3" />
<rect x="701.4" y="921.5" width="26" height="17.5" fill="#2a0808" />
<text x="703.5" y="934" font-family='"Liberation Sans", sans-serif' font-size="9.6" font-weight="bold" fill="#e23232" text-anchor="start" textLength="24" lengthAdjust="spacingAndGlyphs" style="" >INV#7</text>
<polygon points="713.3,924.6 716.1,924.6 714.6999999999999,922.4" fill="#f0f0f0"/>
<rect x="711.9" y="935.6" width="6" height="1.3" fill="#f4d0d0" />
<rect x="702.9" y="941.3" width="20" height="1.6" fill="#e6e6e6" />
<rect x="727.4" y="940.6" width="5" height="2.6" fill="none" stroke="#e6e6e6" stroke-width="1" />
<path d="M737.3000000000001 944.5 V980 H749.1 V916.5" fill="none" stroke="#cfcfcf" stroke-width="1.3" />
<rect x="735.1" y="947.4" width="4.4" height="7.2" fill="#000" />
<text transform="translate(738.9000000000001,951) rotate(-90)" font-family='"Liberation Sans", sans-serif' font-size="4.6" font-weight="bold" fill="#f0f0f0" text-anchor="middle" textLength="5.8" lengthAdjust="spacingAndGlyphs">PE</text>
<rect x="735.1" y="964.4" width="4.4" height="7.2" fill="#000" />
<text transform="translate(738.9000000000001,968) rotate(-90)" font-family='"Liberation Sans", sans-serif' font-size="4.6" font-weight="bold" fill="#f0f0f0" text-anchor="middle" textLength="5.8" lengthAdjust="spacingAndGlyphs">PE</text>
<rect x="746.9" y="925.9" width="4.4" height="7.2" fill="#000" />
<text transform="translate(750.7,929.5) rotate(-90)" font-family='"Liberation Sans", sans-serif' font-size="4.6" font-weight="bold" fill="#f0f0f0" text-anchor="middle" textLength="5.8" lengthAdjust="spacingAndGlyphs">PE</text>
<rect x="746.9" y="942.9" width="4.4" height="7.2" fill="#000" />
<text transform="translate(750.7,946.5) rotate(-90)" font-family='"Liberation Sans", sans-serif' font-size="4.6" font-weight="bold" fill="#f0f0f0" text-anchor="middle" textLength="5.8" lengthAdjust="spacingAndGlyphs">PE</text>
<rect x="746.9" y="959.9" width="4.4" height="7.2" fill="#000" />
<text transform="translate(750.7,963.5) rotate(-90)" font-family='"Liberation Sans", sans-serif' font-size="4.6" font-weight="bold" fill="#f0f0f0" text-anchor="middle" textLength="5.8" lengthAdjust="spacingAndGlyphs">PE</text>
<rect x="740.7" y="977" width="5.6" height="11.4" fill="#ededed" rx="2.4" />
<rect x="742.3" y="980.5" width="2.4" height="1.2" fill="#666" />
<path d="M743.5 988 V995 C743.5 1002 737.0 1004 736.0 1013" fill="none" stroke="#e4e4e4" stroke-width="1.5" />
<line x1="735.2" y1="1014.5" x2="728.3" y2="1022.6" stroke="#f2f2f2" stroke-width="3.8" stroke-linecap="round"/>
<line x1="711.9" y1="1024" x2="759.6999999999999" y2="1037" stroke="#f4f4f4" stroke-width="4.3" stroke-linecap="round"/>
<line x1="723.9" y1="1027.4" x2="729.9" y2="1029" stroke="#333" stroke-width="1.6" />
<line x1="740.9" y1="1032" x2="748.9" y2="1034" stroke="#333" stroke-width="1.6" />
<path d="M742.5 1036 V1093.5 Q744.5 1097.5 746.5 1093.5 V1036" fill="none" stroke="#e8e8e8" stroke-width="1.7" />
<line x1="744.5" y1="1040" x2="744.5" y2="1046" stroke="#bdbdbd" stroke-width="1" />
<text x="786.6" y="829.3" font-family='"Liberation Sans", sans-serif' font-size="9.8" font-weight="normal" fill="#d83434" text-anchor="start" textLength="42.5" lengthAdjust="spacingAndGlyphs" style="" stroke="#d83434" stroke-width="0.35">PV-NO#8</text>
<rect x="781.6" y="832" width="55.5" height="75" fill="none" stroke="#cfcfcf" stroke-width="1.5" rx="4" />
<rect x="786.6" y="849" width="30.8" height="21" fill="#1c1c1c" stroke="#e2e2e2" stroke-width="1.3" />
<line x1="792.76" y1="849" x2="792.76" y2="870" stroke="#dedede" stroke-width="1.1" />
<line x1="798.92" y1="849" x2="798.92" y2="870" stroke="#dedede" stroke-width="1.1" />
<line x1="805.08" y1="849" x2="805.08" y2="870" stroke="#dedede" stroke-width="1.1" />
<line x1="811.24" y1="849" x2="811.24" y2="870" stroke="#dedede" stroke-width="1.1" />
<line x1="786.6" y1="854.25" x2="817.4" y2="854.25" stroke="#dedede" stroke-width="1.1" />
<line x1="786.6" y1="859.5" x2="817.4" y2="859.5" stroke="#dedede" stroke-width="1.1" />
<line x1="786.6" y1="864.75" x2="817.4" y2="864.75" stroke="#dedede" stroke-width="1.1" />
<rect x="786.6" y="877.3" width="30.8" height="21" fill="#1c1c1c" stroke="#e2e2e2" stroke-width="1.3" />
<line x1="792.76" y1="877.3" x2="792.76" y2="898.3" stroke="#dedede" stroke-width="1.1" />
<line x1="798.92" y1="877.3" x2="798.92" y2="898.3" stroke="#dedede" stroke-width="1.1" />
<line x1="805.08" y1="877.3" x2="805.08" y2="898.3" stroke="#dedede" stroke-width="1.1" />
<line x1="811.24" y1="877.3" x2="811.24" y2="898.3" stroke="#dedede" stroke-width="1.1" />
<line x1="786.6" y1="882.55" x2="817.4" y2="882.55" stroke="#dedede" stroke-width="1.1" />
<line x1="786.6" y1="887.8" x2="817.4" y2="887.8" stroke="#dedede" stroke-width="1.1" />
<line x1="786.6" y1="893.05" x2="817.4" y2="893.05" stroke="#dedede" stroke-width="1.1" />
<polyline points="817.4,867 822.8000000000001,867 822.8000000000001,880.6 817.4,880.6" fill="none" stroke="#cfcfcf" stroke-width="1.3" />
<path d="M817.2 898.3 V913.5 H833.6 Q836.6 913.5 836.6 916.5" fill="none" stroke="#cfcfcf" stroke-width="1.3" />
<rect x="821.5" y="911.1" width="6.8" height="4.8" fill="#000" />
<text x="824.9" y="915.2" font-family='"Liberation Sans", sans-serif' font-size="4.6" font-weight="bold" fill="#f0f0f0" text-anchor="middle" textLength="5.6" lengthAdjust="spacingAndGlyphs" style="" >PE</text>
<rect x="786.6" y="918" width="42.5" height="26.5" fill="none" stroke="#cfcfcf" stroke-width="1.5" />
<line x1="816.8000000000001" y1="918" x2="816.8000000000001" y2="944.5" stroke="#cfcfcf" stroke-width="1.3" />
<rect x="789.1" y="921.5" width="26" height="17.5" fill="#2a0808" />
<text x="791.2" y="934" font-family='"Liberation Sans", sans-serif' font-size="9.6" font-weight="bold" fill="#e23232" text-anchor="start" textLength="24" lengthAdjust="spacingAndGlyphs" style="" >INV#8</text>
<polygon points="801.0,924.6 803.8000000000001,924.6 802.4,922.4" fill="#f0f0f0"/>
<rect x="799.6" y="935.6" width="6" height="1.3" fill="#f4d0d0" />
<rect x="790.6" y="941.3" width="20" height="1.6" fill="#e6e6e6" />
<rect x="815.1" y="940.6" width="5" height="2.6" fill="none" stroke="#e6e6e6" stroke-width="1" />
<path d="M825.0000000000001 944.5 V980 H836.8000000000001 V916.5" fill="none" stroke="#cfcfcf" stroke-width="1.3" />
<rect x="822.8000000000001" y="947.4" width="4.4" height="7.2" fill="#000" />
<text transform="translate(826.6000000000001,951) rotate(-90)" font-family='"Liberation Sans", sans-serif' font-size="4.6" font-weight="bold" fill="#f0f0f0" text-anchor="middle" textLength="5.8" lengthAdjust="spacingAndGlyphs">PE</text>
<rect x="822.8000000000001" y="964.4" width="4.4" height="7.2" fill="#000" />
<text transform="translate(826.6000000000001,968) rotate(-90)" font-family='"Liberation Sans", sans-serif' font-size="4.6" font-weight="bold" fill="#f0f0f0" text-anchor="middle" textLength="5.8" lengthAdjust="spacingAndGlyphs">PE</text>
<rect x="834.6" y="925.9" width="4.4" height="7.2" fill="#000" />
<text transform="translate(838.4000000000001,929.5) rotate(-90)" font-family='"Liberation Sans", sans-serif' font-size="4.6" font-weight="bold" fill="#f0f0f0" text-anchor="middle" textLength="5.8" lengthAdjust="spacingAndGlyphs">PE</text>
<rect x="834.6" y="942.9" width="4.4" height="7.2" fill="#000" />
<text transform="translate(838.4000000000001,946.5) rotate(-90)" font-family='"Liberation Sans", sans-serif' font-size="4.6" font-weight="bold" fill="#f0f0f0" text-anchor="middle" textLength="5.8" lengthAdjust="spacingAndGlyphs">PE</text>
<rect x="834.6" y="959.9" width="4.4" height="7.2" fill="#000" />
<text transform="translate(838.4000000000001,963.5) rotate(-90)" font-family='"Liberation Sans", sans-serif' font-size="4.6" font-weight="bold" fill="#f0f0f0" text-anchor="middle" textLength="5.8" lengthAdjust="spacingAndGlyphs">PE</text>
<rect x="828.4000000000001" y="977" width="5.6" height="11.4" fill="#ededed" rx="2.4" />
<rect x="830.0" y="980.5" width="2.4" height="1.2" fill="#666" />
<path d="M831.2 988 V995 C831.2 1002 824.7 1004 823.7 1013" fill="none" stroke="#e4e4e4" stroke-width="1.5" />
<line x1="822.9000000000001" y1="1014.5" x2="816.0" y2="1022.6" stroke="#f2f2f2" stroke-width="3.8" stroke-linecap="round"/>
<line x1="799.6" y1="1024" x2="847.4" y2="1037" stroke="#f4f4f4" stroke-width="4.3" stroke-linecap="round"/>
<line x1="811.6" y1="1027.4" x2="817.6" y2="1029" stroke="#333" stroke-width="1.6" />
<line x1="828.6" y1="1032" x2="836.6" y2="1034" stroke="#333" stroke-width="1.6" />
<path d="M830.2 1036 V1093.5 Q832.2 1097.5 834.2 1093.5 V1036" fill="none" stroke="#e8e8e8" stroke-width="1.7" />
<line x1="832.2" y1="1040" x2="832.2" y2="1046" stroke="#bdbdbd" stroke-width="1" />
<text transform="translate(279.40000000000003,1004.5) rotate(66)" font-family='"Liberation Sans", sans-serif' font-size="4.4" font-weight="bold" fill="#8fe0aa" text-anchor="middle">PE</text>
<polyline points="275.1,995 281.0,1011" fill="none" stroke="#279a4f" stroke-width="1.3" />
<polyline points="340.3,1011 346.2,995" fill="none" stroke="#279a4f" stroke-width="1.3" />
<text transform="translate(344.5,1006) rotate(-66)" font-family='"Liberation Sans", sans-serif' font-size="4.4" font-weight="bold" fill="#8fe0aa" text-anchor="middle">PE</text>
<text transform="translate(353.1,1004.5) rotate(66)" font-family='"Liberation Sans", sans-serif' font-size="4.4" font-weight="bold" fill="#8fe0aa" text-anchor="middle">PE</text>
<polyline points="348.8,995 354.7,1011" fill="none" stroke="#279a4f" stroke-width="1.3" />
<polyline points="413.8,1011 419.7,995" fill="none" stroke="#279a4f" stroke-width="1.3" />
<text transform="translate(418.0,1006) rotate(-66)" font-family='"Liberation Sans", sans-serif' font-size="4.4" font-weight="bold" fill="#8fe0aa" text-anchor="middle">PE</text>
<text transform="translate(426.6,1004.5) rotate(66)" font-family='"Liberation Sans", sans-serif' font-size="4.4" font-weight="bold" fill="#8fe0aa" text-anchor="middle">PE</text>
<polyline points="422.3,995 428.2,1011" fill="none" stroke="#279a4f" stroke-width="1.3" />
<polyline points="487.0,1011 492.9,995" fill="none" stroke="#279a4f" stroke-width="1.3" />
<text transform="translate(491.2,1006) rotate(-66)" font-family='"Liberation Sans", sans-serif' font-size="4.4" font-weight="bold" fill="#8fe0aa" text-anchor="middle">PE</text>
<text transform="translate(499.8,1004.5) rotate(66)" font-family='"Liberation Sans", sans-serif' font-size="4.4" font-weight="bold" fill="#8fe0aa" text-anchor="middle">PE</text>
<polyline points="495.5,995 501.4,1011" fill="none" stroke="#279a4f" stroke-width="1.3" />
<polyline points="560.3999999999999,1011 566.3,995" fill="none" stroke="#279a4f" stroke-width="1.3" />
<text transform="translate(564.5999999999999,1006) rotate(-66)" font-family='"Liberation Sans", sans-serif' font-size="4.4" font-weight="bold" fill="#8fe0aa" text-anchor="middle">PE</text>
<text transform="translate(573.1999999999999,1004.5) rotate(66)" font-family='"Liberation Sans", sans-serif' font-size="4.4" font-weight="bold" fill="#8fe0aa" text-anchor="middle">PE</text>
<polyline points="568.8999999999999,995 574.8,1011" fill="none" stroke="#279a4f" stroke-width="1.3" />
<line x1="281.0" y1="1011" x2="340.3" y2="1011" stroke="#279a4f" stroke-width="1.3" />
<rect x="287.5" y="1008.6" width="6.8" height="4.8" fill="#000" />
<text x="290.9" y="1012.7" font-family='"Liberation Sans", sans-serif' font-size="4.6" font-weight="bold" fill="#8fe0aa" text-anchor="middle" textLength="5.6" lengthAdjust="spacingAndGlyphs" style="" >PE</text>
<rect x="307.20000000000005" y="1008.6" width="6.8" height="4.8" fill="#000" />
<text x="310.6" y="1012.7" font-family='"Liberation Sans", sans-serif' font-size="4.6" font-weight="bold" fill="#8fe0aa" text-anchor="middle" textLength="5.6" lengthAdjust="spacingAndGlyphs" style="" >PE</text>
<rect x="327.0" y="1008.6" width="6.8" height="4.8" fill="#000" />
<text x="330.4" y="1012.7" font-family='"Liberation Sans", sans-serif' font-size="4.6" font-weight="bold" fill="#8fe0aa" text-anchor="middle" textLength="5.6" lengthAdjust="spacingAndGlyphs" style="" >PE</text>
<line x1="354.7" y1="1011" x2="413.8" y2="1011" stroke="#279a4f" stroke-width="1.3" />
<rect x="361.20000000000005" y="1008.6" width="6.8" height="4.8" fill="#000" />
<text x="364.6" y="1012.7" font-family='"Liberation Sans", sans-serif' font-size="4.6" font-weight="bold" fill="#8fe0aa" text-anchor="middle" textLength="5.6" lengthAdjust="spacingAndGlyphs" style="" >PE</text>
<rect x="380.8" y="1008.6" width="6.8" height="4.8" fill="#000" />
<text x="384.2" y="1012.7" font-family='"Liberation Sans", sans-serif' font-size="4.6" font-weight="bold" fill="#8fe0aa" text-anchor="middle" textLength="5.6" lengthAdjust="spacingAndGlyphs" style="" >PE</text>
<rect x="400.5" y="1008.6" width="6.8" height="4.8" fill="#000" />
<text x="403.9" y="1012.7" font-family='"Liberation Sans", sans-serif' font-size="4.6" font-weight="bold" fill="#8fe0aa" text-anchor="middle" textLength="5.6" lengthAdjust="spacingAndGlyphs" style="" >PE</text>
<line x1="428.2" y1="1011" x2="487.0" y2="1011" stroke="#279a4f" stroke-width="1.3" />
<rect x="434.6" y="1008.6" width="6.8" height="4.8" fill="#000" />
<text x="438.0" y="1012.7" font-family='"Liberation Sans", sans-serif' font-size="4.6" font-weight="bold" fill="#8fe0aa" text-anchor="middle" textLength="5.6" lengthAdjust="spacingAndGlyphs" style="" >PE</text>
<rect x="454.20000000000005" y="1008.6" width="6.8" height="4.8" fill="#000" />
<text x="457.6" y="1012.7" font-family='"Liberation Sans", sans-serif' font-size="4.6" font-weight="bold" fill="#8fe0aa" text-anchor="middle" textLength="5.6" lengthAdjust="spacingAndGlyphs" style="" >PE</text>
<rect x="473.8" y="1008.6" width="6.8" height="4.8" fill="#000" />
<text x="477.2" y="1012.7" font-family='"Liberation Sans", sans-serif' font-size="4.6" font-weight="bold" fill="#8fe0aa" text-anchor="middle" textLength="5.6" lengthAdjust="spacingAndGlyphs" style="" >PE</text>
<line x1="501.4" y1="1011" x2="560.3999999999999" y2="1011" stroke="#279a4f" stroke-width="1.3" />
<rect x="507.8" y="1008.6" width="6.8" height="4.8" fill="#000" />
<text x="511.2" y="1012.7" font-family='"Liberation Sans", sans-serif' font-size="4.6" font-weight="bold" fill="#8fe0aa" text-anchor="middle" textLength="5.6" lengthAdjust="spacingAndGlyphs" style="" >PE</text>
<rect x="527.5" y="1008.6" width="6.8" height="4.8" fill="#000" />
<text x="530.9" y="1012.7" font-family='"Liberation Sans", sans-serif' font-size="4.6" font-weight="bold" fill="#8fe0aa" text-anchor="middle" textLength="5.6" lengthAdjust="spacingAndGlyphs" style="" >PE</text>
<rect x="547.2" y="1008.6" width="6.8" height="4.8" fill="#000" />
<text x="550.6" y="1012.7" font-family='"Liberation Sans", sans-serif' font-size="4.6" font-weight="bold" fill="#8fe0aa" text-anchor="middle" textLength="5.6" lengthAdjust="spacingAndGlyphs" style="" >PE</text>
<line x1="574.8" y1="1011" x2="623.3" y2="1011" stroke="#279a4f" stroke-width="1.3" />
<rect x="583.5" y="1008.6" width="6.8" height="4.8" fill="#000" />
<text x="586.9" y="1012.7" font-family='"Liberation Sans", sans-serif' font-size="4.6" font-weight="bold" fill="#8fe0aa" text-anchor="middle" textLength="5.6" lengthAdjust="spacingAndGlyphs" style="" >PE</text>
<rect x="607.8000000000001" y="1008.6" width="6.8" height="4.8" fill="#000" />
<text x="611.2" y="1012.7" font-family='"Liberation Sans", sans-serif' font-size="4.6" font-weight="bold" fill="#8fe0aa" text-anchor="middle" textLength="5.6" lengthAdjust="spacingAndGlyphs" style="" >PE</text>
<polyline points="623.3,1011 626.7,1021.7" fill="none" stroke="#279a4f" stroke-width="1.3" />
<line x1="671.7" y1="1033.5" x2="671.7" y2="1010.5" stroke="#e22424" stroke-width="1.3" />
<rect x="669.5" y="1018.4" width="4.4" height="7.2" fill="#000" />
<text transform="translate(673.3000000000001,1022.0) rotate(-90)" font-family='"Liberation Sans", sans-serif' font-size="4.6" font-weight="bold" fill="#ff6a6a" text-anchor="middle" textLength="5.8" lengthAdjust="spacingAndGlyphs">PE</text>
<line x1="671.7" y1="1010.5" x2="711.9" y2="1010.5" stroke="#e22424" stroke-width="1.3" />
<rect x="678.4" y="1008.1" width="6.8" height="4.8" fill="#000" />
<text x="681.8" y="1012.2" font-family='"Liberation Sans", sans-serif' font-size="4.6" font-weight="bold" fill="#ff6a6a" text-anchor="middle" textLength="5.6" lengthAdjust="spacingAndGlyphs" style="" >PE</text>
<rect x="698.5" y="1008.1" width="6.8" height="4.8" fill="#000" />
<text x="701.9" y="1012.2" font-family='"Liberation Sans", sans-serif' font-size="4.6" font-weight="bold" fill="#ff6a6a" text-anchor="middle" textLength="5.6" lengthAdjust="spacingAndGlyphs" style="" >PE</text>
<line x1="711.9" y1="1010.5" x2="711.9" y2="1022" stroke="#e22424" stroke-width="1.3" />
<line x1="759.4" y1="1033.5" x2="759.4" y2="1010.5" stroke="#e22424" stroke-width="1.3" />
<rect x="757.1999999999999" y="1018.4" width="4.4" height="7.2" fill="#000" />
<text transform="translate(761.0,1022.0) rotate(-90)" font-family='"Liberation Sans", sans-serif' font-size="4.6" font-weight="bold" fill="#ff6a6a" text-anchor="middle" textLength="5.8" lengthAdjust="spacingAndGlyphs">PE</text>
<line x1="759.4" y1="1010.5" x2="799.6" y2="1010.5" stroke="#e22424" stroke-width="1.3" />
<rect x="766.1" y="1008.1" width="6.8" height="4.8" fill="#000" />
<text x="769.5" y="1012.2" font-family='"Liberation Sans", sans-serif' font-size="4.6" font-weight="bold" fill="#ff6a6a" text-anchor="middle" textLength="5.6" lengthAdjust="spacingAndGlyphs" style="" >PE</text>
<rect x="786.1" y="1008.1" width="6.8" height="4.8" fill="#000" />
<text x="789.5" y="1012.2" font-family='"Liberation Sans", sans-serif' font-size="4.6" font-weight="bold" fill="#ff6a6a" text-anchor="middle" textLength="5.6" lengthAdjust="spacingAndGlyphs" style="" >PE</text>
<line x1="799.6" y1="1010.5" x2="799.6" y2="1022" stroke="#e22424" stroke-width="1.3" />
<line x1="847.1" y1="1033.5" x2="847.1" y2="1010.5" stroke="#e22424" stroke-width="1.3" />
<rect x="844.9" y="1018.4" width="4.4" height="7.2" fill="#000" />
<text transform="translate(848.7,1022.0) rotate(-90)" font-family='"Liberation Sans", sans-serif' font-size="4.6" font-weight="bold" fill="#ff6a6a" text-anchor="middle" textLength="5.8" lengthAdjust="spacingAndGlyphs">PE</text>
<line x1="847.1" y1="1010.5" x2="907" y2="1010.5" stroke="#e22424" stroke-width="1.3" />
<rect x="853.7" y="1008.1" width="6.8" height="4.8" fill="#000" />
<text x="857.1" y="1012.2" font-family='"Liberation Sans", sans-serif' font-size="4.6" font-weight="bold" fill="#ff6a6a" text-anchor="middle" textLength="5.6" lengthAdjust="spacingAndGlyphs" style="" >PE</text>
<rect x="873.6" y="1008.1" width="6.8" height="4.8" fill="#000" />
<text x="877.0" y="1012.2" font-family='"Liberation Sans", sans-serif' font-size="4.6" font-weight="bold" fill="#ff6a6a" text-anchor="middle" textLength="5.6" lengthAdjust="spacingAndGlyphs" style="" >PE</text>
<rect x="893.6" y="1008.1" width="6.8" height="4.8" fill="#000" />
<text x="897.0" y="1012.2" font-family='"Liberation Sans", sans-serif' font-size="4.6" font-weight="bold" fill="#ff6a6a" text-anchor="middle" textLength="5.6" lengthAdjust="spacingAndGlyphs" style="" >PE</text>
<line x1="907" y1="1010.5" x2="907" y2="1170" stroke="#e22424" stroke-width="1.3" />
<rect x="904.8" y="1015.8" width="4.4" height="7.2" fill="#000" />
<text transform="translate(908.6,1019.4) rotate(-90)" font-family='"Liberation Sans", sans-serif' font-size="4.6" font-weight="bold" fill="#ff6a6a" text-anchor="middle" textLength="5.8" lengthAdjust="spacingAndGlyphs">PE</text>
<rect x="904.8" y="1033.5" width="4.4" height="7.2" fill="#000" />
<text transform="translate(908.6,1037.1) rotate(-90)" font-family='"Liberation Sans", sans-serif' font-size="4.6" font-weight="bold" fill="#ff6a6a" text-anchor="middle" textLength="5.8" lengthAdjust="spacingAndGlyphs">PE</text>
<rect x="904.8" y="1051.2" width="4.4" height="7.2" fill="#000" />
<text transform="translate(908.6,1054.8) rotate(-90)" font-family='"Liberation Sans", sans-serif' font-size="4.6" font-weight="bold" fill="#ff6a6a" text-anchor="middle" textLength="5.8" lengthAdjust="spacingAndGlyphs">PE</text>
<rect x="904.8" y="1068.9" width="4.4" height="7.2" fill="#000" />
<text transform="translate(908.6,1072.5) rotate(-90)" font-family='"Liberation Sans", sans-serif' font-size="4.6" font-weight="bold" fill="#ff6a6a" text-anchor="middle" textLength="5.8" lengthAdjust="spacingAndGlyphs">PE</text>
<rect x="904.8" y="1086.6000000000001" width="4.4" height="7.2" fill="#000" />
<text transform="translate(908.6,1090.2) rotate(-90)" font-family='"Liberation Sans", sans-serif' font-size="4.6" font-weight="bold" fill="#ff6a6a" text-anchor="middle" textLength="5.8" lengthAdjust="spacingAndGlyphs">PE</text>
<rect x="904.8" y="1104.4" width="4.4" height="7.2" fill="#000" />
<text transform="translate(908.6,1108.0) rotate(-90)" font-family='"Liberation Sans", sans-serif' font-size="4.6" font-weight="bold" fill="#ff6a6a" text-anchor="middle" textLength="5.8" lengthAdjust="spacingAndGlyphs">PE</text>
<rect x="904.8" y="1122.1000000000001" width="4.4" height="7.2" fill="#000" />
<text transform="translate(908.6,1125.7) rotate(-90)" font-family='"Liberation Sans", sans-serif' font-size="4.6" font-weight="bold" fill="#ff6a6a" text-anchor="middle" textLength="5.8" lengthAdjust="spacingAndGlyphs">PE</text>
<rect x="904.8" y="1139.8000000000002" width="4.4" height="7.2" fill="#000" />
<text transform="translate(908.6,1143.4) rotate(-90)" font-family='"Liberation Sans", sans-serif' font-size="4.6" font-weight="bold" fill="#ff6a6a" text-anchor="middle" textLength="5.8" lengthAdjust="spacingAndGlyphs">PE</text>
<rect x="904.8" y="1157.5" width="4.4" height="7.2" fill="#000" />
<text transform="translate(908.6,1161.1) rotate(-90)" font-family='"Liberation Sans", sans-serif' font-size="4.6" font-weight="bold" fill="#ff6a6a" text-anchor="middle" textLength="5.8" lengthAdjust="spacingAndGlyphs">PE</text>
<line x1="907" y1="1170" x2="196" y2="1170" stroke="#e22424" stroke-width="1.3" />
<rect x="894.9" y="1167.6" width="6.8" height="4.8" fill="#000" />
<text x="898.3" y="1171.7" font-family='"Liberation Sans", sans-serif' font-size="4.6" font-weight="bold" fill="#ff6a6a" text-anchor="middle" textLength="5.6" lengthAdjust="spacingAndGlyphs" style="" >PE</text>
<rect x="877.6" y="1167.6" width="6.8" height="4.8" fill="#000" />
<text x="881.0" y="1171.7" font-family='"Liberation Sans", sans-serif' font-size="4.6" font-weight="bold" fill="#ff6a6a" text-anchor="middle" textLength="5.6" lengthAdjust="spacingAndGlyphs" style="" >PE</text>
<rect x="860.2" y="1167.6" width="6.8" height="4.8" fill="#000" />
<text x="863.6" y="1171.7" font-family='"Liberation Sans", sans-serif' font-size="4.6" font-weight="bold" fill="#ff6a6a" text-anchor="middle" textLength="5.6" lengthAdjust="spacingAndGlyphs" style="" >PE</text>
<rect x="842.9" y="1167.6" width="6.8" height="4.8" fill="#000" />
<text x="846.3" y="1171.7" font-family='"Liberation Sans", sans-serif' font-size="4.6" font-weight="bold" fill="#ff6a6a" text-anchor="middle" textLength="5.6" lengthAdjust="spacingAndGlyphs" style="" >PE</text>
<rect x="825.6" y="1167.6" width="6.8" height="4.8" fill="#000" />
<text x="829.0" y="1171.7" font-family='"Liberation Sans", sans-serif' font-size="4.6" font-weight="bold" fill="#ff6a6a" text-anchor="middle" textLength="5.6" lengthAdjust="spacingAndGlyphs" style="" >PE</text>
<rect x="808.2" y="1167.6" width="6.8" height="4.8" fill="#000" />
<text x="811.6" y="1171.7" font-family='"Liberation Sans", sans-serif' font-size="4.6" font-weight="bold" fill="#ff6a6a" text-anchor="middle" textLength="5.6" lengthAdjust="spacingAndGlyphs" style="" >PE</text>
<rect x="790.9" y="1167.6" width="6.8" height="4.8" fill="#000" />
<text x="794.3" y="1171.7" font-family='"Liberation Sans", sans-serif' font-size="4.6" font-weight="bold" fill="#ff6a6a" text-anchor="middle" textLength="5.6" lengthAdjust="spacingAndGlyphs" style="" >PE</text>
<rect x="773.5" y="1167.6" width="6.8" height="4.8" fill="#000" />
<text x="776.9" y="1171.7" font-family='"Liberation Sans", sans-serif' font-size="4.6" font-weight="bold" fill="#ff6a6a" text-anchor="middle" textLength="5.6" lengthAdjust="spacingAndGlyphs" style="" >PE</text>
<rect x="756.2" y="1167.6" width="6.8" height="4.8" fill="#000" />
<text x="759.6" y="1171.7" font-family='"Liberation Sans", sans-serif' font-size="4.6" font-weight="bold" fill="#ff6a6a" text-anchor="middle" textLength="5.6" lengthAdjust="spacingAndGlyphs" style="" >PE</text>
<rect x="738.9" y="1167.6" width="6.8" height="4.8" fill="#000" />
<text x="742.3" y="1171.7" font-family='"Liberation Sans", sans-serif' font-size="4.6" font-weight="bold" fill="#ff6a6a" text-anchor="middle" textLength="5.6" lengthAdjust="spacingAndGlyphs" style="" >PE</text>
<rect x="721.5" y="1167.6" width="6.8" height="4.8" fill="#000" />
<text x="724.9" y="1171.7" font-family='"Liberation Sans", sans-serif' font-size="4.6" font-weight="bold" fill="#ff6a6a" text-anchor="middle" textLength="5.6" lengthAdjust="spacingAndGlyphs" style="" >PE</text>
<rect x="704.2" y="1167.6" width="6.8" height="4.8" fill="#000" />
<text x="707.6" y="1171.7" font-family='"Liberation Sans", sans-serif' font-size="4.6" font-weight="bold" fill="#ff6a6a" text-anchor="middle" textLength="5.6" lengthAdjust="spacingAndGlyphs" style="" >PE</text>
<rect x="686.8000000000001" y="1167.6" width="6.8" height="4.8" fill="#000" />
<text x="690.2" y="1171.7" font-family='"Liberation Sans", sans-serif' font-size="4.6" font-weight="bold" fill="#ff6a6a" text-anchor="middle" textLength="5.6" lengthAdjust="spacingAndGlyphs" style="" >PE</text>
<rect x="669.5" y="1167.6" width="6.8" height="4.8" fill="#000" />
<text x="672.9" y="1171.7" font-family='"Liberation Sans", sans-serif' font-size="4.6" font-weight="bold" fill="#ff6a6a" text-anchor="middle" textLength="5.6" lengthAdjust="spacingAndGlyphs" style="" >PE</text>
<rect x="652.1" y="1167.6" width="6.8" height="4.8" fill="#000" />
<text x="655.5" y="1171.7" font-family='"Liberation Sans", sans-serif' font-size="4.6" font-weight="bold" fill="#ff6a6a" text-anchor="middle" textLength="5.6" lengthAdjust="spacingAndGlyphs" style="" >PE</text>
<rect x="634.8000000000001" y="1167.6" width="6.8" height="4.8" fill="#000" />
<text x="638.2" y="1171.7" font-family='"Liberation Sans", sans-serif' font-size="4.6" font-weight="bold" fill="#ff6a6a" text-anchor="middle" textLength="5.6" lengthAdjust="spacingAndGlyphs" style="" >PE</text>
<rect x="617.5" y="1167.6" width="6.8" height="4.8" fill="#000" />
<text x="620.9" y="1171.7" font-family='"Liberation Sans", sans-serif' font-size="4.6" font-weight="bold" fill="#ff6a6a" text-anchor="middle" textLength="5.6" lengthAdjust="spacingAndGlyphs" style="" >PE</text>
<rect x="600.1" y="1167.6" width="6.8" height="4.8" fill="#000" />
<text x="603.5" y="1171.7" font-family='"Liberation Sans", sans-serif' font-size="4.6" font-weight="bold" fill="#ff6a6a" text-anchor="middle" textLength="5.6" lengthAdjust="spacingAndGlyphs" style="" >PE</text>
<rect x="582.8000000000001" y="1167.6" width="6.8" height="4.8" fill="#000" />
<text x="586.2" y="1171.7" font-family='"Liberation Sans", sans-serif' font-size="4.6" font-weight="bold" fill="#ff6a6a" text-anchor="middle" textLength="5.6" lengthAdjust="spacingAndGlyphs" style="" >PE</text>
<rect x="565.4" y="1167.6" width="6.8" height="4.8" fill="#000" />
<text x="568.8" y="1171.7" font-family='"Liberation Sans", sans-serif' font-size="4.6" font-weight="bold" fill="#ff6a6a" text-anchor="middle" textLength="5.6" lengthAdjust="spacingAndGlyphs" style="" >PE</text>
<rect x="548.1" y="1167.6" width="6.8" height="4.8" fill="#000" />
<text x="551.5" y="1171.7" font-family='"Liberation Sans", sans-serif' font-size="4.6" font-weight="bold" fill="#ff6a6a" text-anchor="middle" textLength="5.6" lengthAdjust="spacingAndGlyphs" style="" >PE</text>
<rect x="530.8000000000001" y="1167.6" width="6.8" height="4.8" fill="#000" />
<text x="534.2" y="1171.7" font-family='"Liberation Sans", sans-serif' font-size="4.6" font-weight="bold" fill="#ff6a6a" text-anchor="middle" textLength="5.6" lengthAdjust="spacingAndGlyphs" style="" >PE</text>
<rect x="513.4" y="1167.6" width="6.8" height="4.8" fill="#000" />
<text x="516.8" y="1171.7" font-family='"Liberation Sans", sans-serif' font-size="4.6" font-weight="bold" fill="#ff6a6a" text-anchor="middle" textLength="5.6" lengthAdjust="spacingAndGlyphs" style="" >PE</text>
<rect x="496.1" y="1167.6" width="6.8" height="4.8" fill="#000" />
<text x="499.5" y="1171.7" font-family='"Liberation Sans", sans-serif' font-size="4.6" font-weight="bold" fill="#ff6a6a" text-anchor="middle" textLength="5.6" lengthAdjust="spacingAndGlyphs" style="" >PE</text>
<rect x="478.70000000000005" y="1167.6" width="6.8" height="4.8" fill="#000" />
<text x="482.1" y="1171.7" font-family='"Liberation Sans", sans-serif' font-size="4.6" font-weight="bold" fill="#ff6a6a" text-anchor="middle" textLength="5.6" lengthAdjust="spacingAndGlyphs" style="" >PE</text>
<rect x="461.40000000000003" y="1167.6" width="6.8" height="4.8" fill="#000" />
<text x="464.8" y="1171.7" font-family='"Liberation Sans", sans-serif' font-size="4.6" font-weight="bold" fill="#ff6a6a" text-anchor="middle" textLength="5.6" lengthAdjust="spacingAndGlyphs" style="" >PE</text>
<rect x="444.1" y="1167.6" width="6.8" height="4.8" fill="#000" />
<text x="447.5" y="1171.7" font-family='"Liberation Sans", sans-serif' font-size="4.6" font-weight="bold" fill="#ff6a6a" text-anchor="middle" textLength="5.6" lengthAdjust="spacingAndGlyphs" style="" >PE</text>
<rect x="426.70000000000005" y="1167.6" width="6.8" height="4.8" fill="#000" />
<text x="430.1" y="1171.7" font-family='"Liberation Sans", sans-serif' font-size="4.6" font-weight="bold" fill="#ff6a6a" text-anchor="middle" textLength="5.6" lengthAdjust="spacingAndGlyphs" style="" >PE</text>
<rect x="409.40000000000003" y="1167.6" width="6.8" height="4.8" fill="#000" />
<text x="412.8" y="1171.7" font-family='"Liberation Sans", sans-serif' font-size="4.6" font-weight="bold" fill="#ff6a6a" text-anchor="middle" textLength="5.6" lengthAdjust="spacingAndGlyphs" style="" >PE</text>
<rect x="392.0" y="1167.6" width="6.8" height="4.8" fill="#000" />
<text x="395.4" y="1171.7" font-family='"Liberation Sans", sans-serif' font-size="4.6" font-weight="bold" fill="#ff6a6a" text-anchor="middle" textLength="5.6" lengthAdjust="spacingAndGlyphs" style="" >PE</text>
<rect x="374.70000000000005" y="1167.6" width="6.8" height="4.8" fill="#000" />
<text x="378.1" y="1171.7" font-family='"Liberation Sans", sans-serif' font-size="4.6" font-weight="bold" fill="#ff6a6a" text-anchor="middle" textLength="5.6" lengthAdjust="spacingAndGlyphs" style="" >PE</text>
<rect x="357.3" y="1167.6" width="6.8" height="4.8" fill="#000" />
<text x="360.7" y="1171.7" font-family='"Liberation Sans", sans-serif' font-size="4.6" font-weight="bold" fill="#ff6a6a" text-anchor="middle" textLength="5.6" lengthAdjust="spacingAndGlyphs" style="" >PE</text>
<rect x="340.0" y="1167.6" width="6.8" height="4.8" fill="#000" />
<text x="343.4" y="1171.7" font-family='"Liberation Sans", sans-serif' font-size="4.6" font-weight="bold" fill="#ff6a6a" text-anchor="middle" textLength="5.6" lengthAdjust="spacingAndGlyphs" style="" >PE</text>
<rect x="322.70000000000005" y="1167.6" width="6.8" height="4.8" fill="#000" />
<text x="326.1" y="1171.7" font-family='"Liberation Sans", sans-serif' font-size="4.6" font-weight="bold" fill="#ff6a6a" text-anchor="middle" textLength="5.6" lengthAdjust="spacingAndGlyphs" style="" >PE</text>
<rect x="305.3" y="1167.6" width="6.8" height="4.8" fill="#000" />
<text x="308.7" y="1171.7" font-family='"Liberation Sans", sans-serif' font-size="4.6" font-weight="bold" fill="#ff6a6a" text-anchor="middle" textLength="5.6" lengthAdjust="spacingAndGlyphs" style="" >PE</text>
<rect x="288.0" y="1167.6" width="6.8" height="4.8" fill="#000" />
<text x="291.4" y="1171.7" font-family='"Liberation Sans", sans-serif' font-size="4.6" font-weight="bold" fill="#ff6a6a" text-anchor="middle" textLength="5.6" lengthAdjust="spacingAndGlyphs" style="" >PE</text>
<rect x="270.6" y="1167.6" width="6.8" height="4.8" fill="#000" />
<text x="274.0" y="1171.7" font-family='"Liberation Sans", sans-serif' font-size="4.6" font-weight="bold" fill="#ff6a6a" text-anchor="middle" textLength="5.6" lengthAdjust="spacingAndGlyphs" style="" >PE</text>
<rect x="253.29999999999998" y="1167.6" width="6.8" height="4.8" fill="#000" />
<text x="256.7" y="1171.7" font-family='"Liberation Sans", sans-serif' font-size="4.6" font-weight="bold" fill="#ff6a6a" text-anchor="middle" textLength="5.6" lengthAdjust="spacingAndGlyphs" style="" >PE</text>
<rect x="236.0" y="1167.6" width="6.8" height="4.8" fill="#000" />
<text x="239.4" y="1171.7" font-family='"Liberation Sans", sans-serif' font-size="4.6" font-weight="bold" fill="#ff6a6a" text-anchor="middle" textLength="5.6" lengthAdjust="spacingAndGlyphs" style="" >PE</text>
<rect x="218.6" y="1167.6" width="6.8" height="4.8" fill="#000" />
<text x="222.0" y="1171.7" font-family='"Liberation Sans", sans-serif' font-size="4.6" font-weight="bold" fill="#ff6a6a" text-anchor="middle" textLength="5.6" lengthAdjust="spacingAndGlyphs" style="" >PE</text>
<rect x="201.29999999999998" y="1167.6" width="6.8" height="4.8" fill="#000" />
<text x="204.7" y="1171.7" font-family='"Liberation Sans", sans-serif' font-size="4.6" font-weight="bold" fill="#ff6a6a" text-anchor="middle" textLength="5.6" lengthAdjust="spacingAndGlyphs" style="" >PE</text>
<line x1="196" y1="1170" x2="196" y2="1379.5" stroke="#e22424" stroke-width="1.3" />
<rect x="193.8" y="1175.1000000000001" width="4.4" height="7.2" fill="#000" />
<text transform="translate(197.6,1178.7) rotate(-90)" font-family='"Liberation Sans", sans-serif' font-size="4.6" font-weight="bold" fill="#ff6a6a" text-anchor="middle" textLength="5.8" lengthAdjust="spacingAndGlyphs">PE</text>
<rect x="193.8" y="1192.6000000000001" width="4.4" height="7.2" fill="#000" />
<text transform="translate(197.6,1196.2) rotate(-90)" font-family='"Liberation Sans", sans-serif' font-size="4.6" font-weight="bold" fill="#ff6a6a" text-anchor="middle" textLength="5.8" lengthAdjust="spacingAndGlyphs">PE</text>
<rect x="193.8" y="1210.0" width="4.4" height="7.2" fill="#000" />
<text transform="translate(197.6,1213.6) rotate(-90)" font-family='"Liberation Sans", sans-serif' font-size="4.6" font-weight="bold" fill="#ff6a6a" text-anchor="middle" textLength="5.8" lengthAdjust="spacingAndGlyphs">PE</text>
<rect x="193.8" y="1227.5" width="4.4" height="7.2" fill="#000" />
<text transform="translate(197.6,1231.1) rotate(-90)" font-family='"Liberation Sans", sans-serif' font-size="4.6" font-weight="bold" fill="#ff6a6a" text-anchor="middle" textLength="5.8" lengthAdjust="spacingAndGlyphs">PE</text>
<rect x="193.8" y="1245.0" width="4.4" height="7.2" fill="#000" />
<text transform="translate(197.6,1248.6) rotate(-90)" font-family='"Liberation Sans", sans-serif' font-size="4.6" font-weight="bold" fill="#ff6a6a" text-anchor="middle" textLength="5.8" lengthAdjust="spacingAndGlyphs">PE</text>
<rect x="193.8" y="1262.4" width="4.4" height="7.2" fill="#000" />
<text transform="translate(197.6,1266.0) rotate(-90)" font-family='"Liberation Sans", sans-serif' font-size="4.6" font-weight="bold" fill="#ff6a6a" text-anchor="middle" textLength="5.8" lengthAdjust="spacingAndGlyphs">PE</text>
<rect x="193.8" y="1279.9" width="4.4" height="7.2" fill="#000" />
<text transform="translate(197.6,1283.5) rotate(-90)" font-family='"Liberation Sans", sans-serif' font-size="4.6" font-weight="bold" fill="#ff6a6a" text-anchor="middle" textLength="5.8" lengthAdjust="spacingAndGlyphs">PE</text>
<rect x="193.8" y="1297.3000000000002" width="4.4" height="7.2" fill="#000" />
<text transform="translate(197.6,1300.9) rotate(-90)" font-family='"Liberation Sans", sans-serif' font-size="4.6" font-weight="bold" fill="#ff6a6a" text-anchor="middle" textLength="5.8" lengthAdjust="spacingAndGlyphs">PE</text>
<rect x="193.8" y="1314.8000000000002" width="4.4" height="7.2" fill="#000" />
<text transform="translate(197.6,1318.4) rotate(-90)" font-family='"Liberation Sans", sans-serif' font-size="4.6" font-weight="bold" fill="#ff6a6a" text-anchor="middle" textLength="5.8" lengthAdjust="spacingAndGlyphs">PE</text>
<rect x="193.8" y="1332.3000000000002" width="4.4" height="7.2" fill="#000" />
<text transform="translate(197.6,1335.9) rotate(-90)" font-family='"Liberation Sans", sans-serif' font-size="4.6" font-weight="bold" fill="#ff6a6a" text-anchor="middle" textLength="5.8" lengthAdjust="spacingAndGlyphs">PE</text>
<rect x="193.8" y="1349.7" width="4.4" height="7.2" fill="#000" />
<text transform="translate(197.6,1353.3) rotate(-90)" font-family='"Liberation Sans", sans-serif' font-size="4.6" font-weight="bold" fill="#ff6a6a" text-anchor="middle" textLength="5.8" lengthAdjust="spacingAndGlyphs">PE</text>
<rect x="193.8" y="1367.2" width="4.4" height="7.2" fill="#000" />
<text transform="translate(197.6,1370.8) rotate(-90)" font-family='"Liberation Sans", sans-serif' font-size="4.6" font-weight="bold" fill="#ff6a6a" text-anchor="middle" textLength="5.8" lengthAdjust="spacingAndGlyphs">PE</text>
<line x1="196" y1="1379.5" x2="261" y2="1379.5" stroke="#e22424" stroke-width="1.3" />
<rect x="203.4" y="1377.1" width="6.8" height="4.8" fill="#000" />
<text x="206.8" y="1381.2" font-family='"Liberation Sans", sans-serif' font-size="4.6" font-weight="bold" fill="#ff6a6a" text-anchor="middle" textLength="5.6" lengthAdjust="spacingAndGlyphs" style="" >PE</text>
<rect x="225.1" y="1377.1" width="6.8" height="4.8" fill="#000" />
<text x="228.5" y="1381.2" font-family='"Liberation Sans", sans-serif' font-size="4.6" font-weight="bold" fill="#ff6a6a" text-anchor="middle" textLength="5.6" lengthAdjust="spacingAndGlyphs" style="" >PE</text>
<rect x="246.79999999999998" y="1377.1" width="6.8" height="4.8" fill="#000" />
<text x="250.2" y="1381.2" font-family='"Liberation Sans", sans-serif' font-size="4.6" font-weight="bold" fill="#ff6a6a" text-anchor="middle" textLength="5.6" lengthAdjust="spacingAndGlyphs" style="" >PE</text>
<line x1="261" y1="1379.5" x2="261" y2="1390" stroke="#e22424" stroke-width="1.3" />
<text x="265.5" y="1028" font-family='"Liberation Sans", sans-serif' font-size="9.2" font-weight="normal" fill="#ececec" text-anchor="start" textLength="104" lengthAdjust="spacingAndGlyphs" style="" stroke="#ececec" stroke-width="0.3">CÁP TIẾP ĐỊA TỪ HT TẤM PIN VÀ</text>
<polyline points="265.5,1032 371,1032 413.7,973.7" fill="none" stroke="#cfcfcf" stroke-width="1.2" />
<polyline points="371,1032 426,977.5" fill="none" stroke="#cfcfcf" stroke-width="1.2" />
<text x="265.5" y="1045.3" font-family='"Liberation Sans", sans-serif' font-size="9.2" font-weight="normal" fill="#ececec" text-anchor="start" textLength="104" lengthAdjust="spacingAndGlyphs" style="" stroke="#ececec" stroke-width="0.3">BIẾN TẦN  CU/PVC 1X10MM2 ĐI</text>
<text x="265.5" y="1059.8" font-family='"Liberation Sans", sans-serif' font-size="9.2" font-weight="normal" fill="#ececec" text-anchor="start" textLength="52.5" lengthAdjust="spacingAndGlyphs" style="" stroke="#ececec" stroke-width="0.3">THEO MÁNG CÁP</text>
<text x="451" y="1028" font-family='"Liberation Sans", sans-serif' font-size="9.2" font-weight="normal" fill="#ececec" text-anchor="start" textLength="87.5" lengthAdjust="spacingAndGlyphs" style="" stroke="#ececec" stroke-width="0.3">ĐIỂM KẾT NỐI TIẾP ĐỊA LẮP</text>
<polyline points="451,1032.5 537.5,1032.5 566,993.5" fill="none" stroke="#cfcfcf" stroke-width="1.2" />
<text x="451" y="1043.3" font-family='"Liberation Sans", sans-serif' font-size="9.2" font-weight="normal" fill="#ececec" text-anchor="start" textLength="76.5" lengthAdjust="spacingAndGlyphs" style="" stroke="#ececec" stroke-width="0.3">TẠI VỊ TRÍ ĐẶT INVERTER</text>
<text x="451" y="1057.6" font-family='"Liberation Sans", sans-serif' font-size="9.2" font-weight="normal" fill="#ececec" text-anchor="start" textLength="70" lengthAdjust="spacingAndGlyphs" style="" stroke="#ececec" stroke-width="0.3">CÁP TIẾP ĐỊA CU/PVC</text>
<polyline points="451,1061 542.5,1061 585,1011" fill="none" stroke="#cfcfcf" stroke-width="1.2" />
<text x="451" y="1073.3" font-family='"Liberation Sans", sans-serif' font-size="9.2" font-weight="normal" fill="#ececec" text-anchor="start" textLength="94" lengthAdjust="spacingAndGlyphs" style="" stroke="#ececec" stroke-width="0.3">1X35MM2 ĐI THEO MÁNG CÁP</text>
<text x="569.5" y="1058.6" font-family='"Liberation Sans", sans-serif' font-size="9.2" font-weight="normal" fill="#ececec" text-anchor="start" textLength="55" lengthAdjust="spacingAndGlyphs" style="" stroke="#ececec" stroke-width="0.3">CỌC TIẾP ĐỊA MA</text>
<polyline points="569.5,1062.8 638.3,1062.8 654.6,1049.4" fill="none" stroke="#cfcfcf" stroke-width="1.2" />
<text x="569.5" y="1075" font-family='"Liberation Sans", sans-serif' font-size="9.2" font-weight="normal" fill="#ececec" text-anchor="start" textLength="66" lengthAdjust="spacingAndGlyphs" style="" stroke="#ececec" stroke-width="0.3">ĐỒNG D16 DÀI 2.4M</text>
<text x="699" y="1053.6" font-family='"Liberation Sans", sans-serif' font-size="9.2" font-weight="normal" fill="#ececec" text-anchor="start" textLength="27" lengthAdjust="spacingAndGlyphs" style="" stroke="#ececec" stroke-width="0.3">MỐI HÀN</text>
<polyline points="699,1057.3 727.5,1057.3 741,1038" fill="none" stroke="#cfcfcf" stroke-width="1.2" />
<text x="699" y="1069" font-family='"Liberation Sans", sans-serif' font-size="9.2" font-weight="normal" fill="#ececec" text-anchor="start" textLength="33.5" lengthAdjust="spacingAndGlyphs" style="" stroke="#ececec" stroke-width="0.3">HÓA NHIỆT</text>
<text x="478.7" y="1116" font-family='"Liberation Sans", sans-serif' font-size="9.2" font-weight="normal" fill="#ececec" text-anchor="start" textLength="179.3" lengthAdjust="spacingAndGlyphs" style="" stroke="#ececec" stroke-width="0.3">CÁP TIẾP ĐỊA NỐI CÁC CỌC TIẾP ĐỊA VỚI NHAU CU/PVC</text>
<polyline points="478.7,1119.5 661,1119.5 702.2,1012" fill="none" stroke="#cfcfcf" stroke-width="1.2" />
<text x="478.7" y="1132.4" font-family='"Liberation Sans", sans-serif' font-size="9.2" font-weight="normal" fill="#ececec" text-anchor="start" textLength="173.8" lengthAdjust="spacingAndGlyphs" style="" stroke="#ececec" stroke-width="0.3">1X50MM2 ĐI THEO MÁNG CÁP VÀ ĐI NGẦM TRONG ĐẤT</text>
<text x="726.5" y="1116" font-family='"Liberation Sans", sans-serif' font-size="9.2" font-weight="normal" fill="#ececec" text-anchor="start" textLength="75.5" lengthAdjust="spacingAndGlyphs" style="" stroke="#ececec" stroke-width="0.3">CỌC TIẾP ĐỊA MA ĐỒNG</text>
<polyline points="726.5,1119.5 805.5,1119.5 829.5,1056" fill="none" stroke="#cfcfcf" stroke-width="1.2" />
<text x="726.5" y="1130" font-family='"Liberation Sans", sans-serif' font-size="9.2" font-weight="normal" fill="#ececec" text-anchor="start" textLength="37.5" lengthAdjust="spacingAndGlyphs" style="" stroke="#ececec" stroke-width="0.3">D16, L2.4M</text>
<text x="850.7" y="1000" font-family='"Liberation Sans", sans-serif' font-size="5.8" font-weight="bold" fill="#ececec" text-anchor="start" textLength="62.3" lengthAdjust="spacingAndGlyphs" style="" >ĐẾN BÃI CỌC TIẾP ĐỊA</text>
<text x="853.7" y="1007.8" font-family='"Liberation Sans", sans-serif' font-size="5.8" font-weight="bold" fill="#ececec" text-anchor="start" textLength="56.3" lengthAdjust="spacingAndGlyphs" style="" >DỰ ÁN BẮC VƯƠNG</text>
<text x="410" y="1152" font-family='"Liberation Sans", sans-serif' font-size="10.4" font-weight="normal" fill="#f0f0f0" text-anchor="start" textLength="294" lengthAdjust="spacingAndGlyphs" style="" >SƠ ĐỒ NGUYÊN LÝ HỆ THỐNG TIẾP ĐỊA DỰ ÁN AGRI VINA</text>
<line x1="410" y1="1154.4" x2="704.5" y2="1154.4" stroke="#f0f0f0" stroke-width="1.1" />
</g>
<g id="diagram2">
<text x="249.5" y="1196.3" font-family='"Liberation Sans", sans-serif' font-size="9.8" font-weight="normal" fill="#d83434" text-anchor="start" textLength="42.5" lengthAdjust="spacingAndGlyphs" style="" stroke="#d83434" stroke-width="0.35">PV-NO#1</text>
<rect x="244.5" y="1199" width="55.5" height="75" fill="none" stroke="#cfcfcf" stroke-width="1.5" rx="4" />
<rect x="249.5" y="1216" width="30.8" height="21" fill="#1c1c1c" stroke="#e2e2e2" stroke-width="1.3" />
<line x1="255.66" y1="1216" x2="255.66" y2="1237" stroke="#dedede" stroke-width="1.1" />
<line x1="261.82" y1="1216" x2="261.82" y2="1237" stroke="#dedede" stroke-width="1.1" />
<line x1="267.98" y1="1216" x2="267.98" y2="1237" stroke="#dedede" stroke-width="1.1" />
<line x1="274.14" y1="1216" x2="274.14" y2="1237" stroke="#dedede" stroke-width="1.1" />
<line x1="249.5" y1="1221.25" x2="280.3" y2="1221.25" stroke="#dedede" stroke-width="1.1" />
<line x1="249.5" y1="1226.5" x2="280.3" y2="1226.5" stroke="#dedede" stroke-width="1.1" />
<line x1="249.5" y1="1231.75" x2="280.3" y2="1231.75" stroke="#dedede" stroke-width="1.1" />
<rect x="249.5" y="1244.3" width="30.8" height="21" fill="#1c1c1c" stroke="#e2e2e2" stroke-width="1.3" />
<line x1="255.66" y1="1244.3" x2="255.66" y2="1265.3" stroke="#dedede" stroke-width="1.1" />
<line x1="261.82" y1="1244.3" x2="261.82" y2="1265.3" stroke="#dedede" stroke-width="1.1" />
<line x1="267.98" y1="1244.3" x2="267.98" y2="1265.3" stroke="#dedede" stroke-width="1.1" />
<line x1="274.14" y1="1244.3" x2="274.14" y2="1265.3" stroke="#dedede" stroke-width="1.1" />
<line x1="249.5" y1="1249.55" x2="280.3" y2="1249.55" stroke="#dedede" stroke-width="1.1" />
<line x1="249.5" y1="1254.8" x2="280.3" y2="1254.8" stroke="#dedede" stroke-width="1.1" />
<line x1="249.5" y1="1260.05" x2="280.3" y2="1260.05" stroke="#dedede" stroke-width="1.1" />
<polyline points="280.3,1234 285.7,1234 285.7,1247.6 280.3,1247.6" fill="none" stroke="#cfcfcf" stroke-width="1.3" />
<path d="M280.1 1265.3 V1280.5 H296.5 Q299.5 1280.5 299.5 1283.5" fill="none" stroke="#cfcfcf" stroke-width="1.3" />
<rect x="284.40000000000003" y="1278.1" width="6.8" height="4.8" fill="#000" />
<text x="287.8" y="1282.2" font-family='"Liberation Sans", sans-serif' font-size="4.6" font-weight="bold" fill="#f0f0f0" text-anchor="middle" textLength="5.6" lengthAdjust="spacingAndGlyphs" style="" >PE</text>
<rect x="249.5" y="1285" width="42.5" height="26.5" fill="none" stroke="#cfcfcf" stroke-width="1.5" />
<line x1="279.7" y1="1285" x2="279.7" y2="1311.5" stroke="#cfcfcf" stroke-width="1.3" />
<rect x="252.0" y="1288.5" width="26" height="17.5" fill="#2a0808" />
<text x="254.1" y="1301" font-family='"Liberation Sans", sans-serif' font-size="9.6" font-weight="bold" fill="#e23232" text-anchor="start" textLength="24" lengthAdjust="spacingAndGlyphs" style="" >INV#1</text>
<polygon points="263.9,1291.6 266.7,1291.6 265.3,1289.4" fill="#f0f0f0"/>
<rect x="262.5" y="1302.6" width="6" height="1.3" fill="#f4d0d0" />
<rect x="253.5" y="1308.3" width="20" height="1.6" fill="#e6e6e6" />
<rect x="278.0" y="1307.6" width="5" height="2.6" fill="none" stroke="#e6e6e6" stroke-width="1" />
<path d="M287.9 1311.5 V1347 H299.7 V1283.5" fill="none" stroke="#cfcfcf" stroke-width="1.3" />
<rect x="285.7" y="1314.4" width="4.4" height="7.2" fill="#000" />
<text transform="translate(289.5,1318) rotate(-90)" font-family='"Liberation Sans", sans-serif' font-size="4.6" font-weight="bold" fill="#f0f0f0" text-anchor="middle" textLength="5.8" lengthAdjust="spacingAndGlyphs">PE</text>
<rect x="285.7" y="1331.4" width="4.4" height="7.2" fill="#000" />
<text transform="translate(289.5,1335) rotate(-90)" font-family='"Liberation Sans", sans-serif' font-size="4.6" font-weight="bold" fill="#f0f0f0" text-anchor="middle" textLength="5.8" lengthAdjust="spacingAndGlyphs">PE</text>
<rect x="297.5" y="1292.9" width="4.4" height="7.2" fill="#000" />
<text transform="translate(301.3,1296.5) rotate(-90)" font-family='"Liberation Sans", sans-serif' font-size="4.6" font-weight="bold" fill="#f0f0f0" text-anchor="middle" textLength="5.8" lengthAdjust="spacingAndGlyphs">PE</text>
<rect x="297.5" y="1309.9" width="4.4" height="7.2" fill="#000" />
<text transform="translate(301.3,1313.5) rotate(-90)" font-family='"Liberation Sans", sans-serif' font-size="4.6" font-weight="bold" fill="#f0f0f0" text-anchor="middle" textLength="5.8" lengthAdjust="spacingAndGlyphs">PE</text>
<rect x="297.5" y="1326.9" width="4.4" height="7.2" fill="#000" />
<text transform="translate(301.3,1330.5) rotate(-90)" font-family='"Liberation Sans", sans-serif' font-size="4.6" font-weight="bold" fill="#f0f0f0" text-anchor="middle" textLength="5.8" lengthAdjust="spacingAndGlyphs">PE</text>
<rect x="291.3" y="1344" width="5.6" height="11.4" fill="#ededed" rx="2.4" />
<rect x="292.90000000000003" y="1347.5" width="2.4" height="1.2" fill="#666" />
<path d="M294.1 1355 V1362 C294.1 1369 287.6 1371 286.6 1380" fill="none" stroke="#e4e4e4" stroke-width="1.5" />
<line x1="285.8" y1="1381.5" x2="278.90000000000003" y2="1389.6" stroke="#f2f2f2" stroke-width="3.8" stroke-linecap="round"/>
<line x1="262.5" y1="1391" x2="310.3" y2="1404" stroke="#f4f4f4" stroke-width="4.3" stroke-linecap="round"/>
<line x1="274.5" y1="1394.4" x2="280.5" y2="1396" stroke="#333" stroke-width="1.6" />
<line x1="291.5" y1="1399" x2="299.5" y2="1401" stroke="#333" stroke-width="1.6" />
<path d="M293.1 1403 V1460.5 Q295.1 1464.5 297.1 1460.5 V1403" fill="none" stroke="#e8e8e8" stroke-width="1.7" />
<line x1="295.1" y1="1407" x2="295.1" y2="1413" stroke="#bdbdbd" stroke-width="1" />
<text x="337" y="1196.3" font-family='"Liberation Sans", sans-serif' font-size="9.8" font-weight="normal" fill="#d83434" text-anchor="start" textLength="42.5" lengthAdjust="spacingAndGlyphs" style="" stroke="#d83434" stroke-width="0.35">PV-NO#2</text>
<rect x="332" y="1199" width="55.5" height="75" fill="none" stroke="#cfcfcf" stroke-width="1.5" rx="4" />
<rect x="337" y="1216" width="30.8" height="21" fill="#1c1c1c" stroke="#e2e2e2" stroke-width="1.3" />
<line x1="343.16" y1="1216" x2="343.16" y2="1237" stroke="#dedede" stroke-width="1.1" />
<line x1="349.32" y1="1216" x2="349.32" y2="1237" stroke="#dedede" stroke-width="1.1" />
<line x1="355.48" y1="1216" x2="355.48" y2="1237" stroke="#dedede" stroke-width="1.1" />
<line x1="361.64" y1="1216" x2="361.64" y2="1237" stroke="#dedede" stroke-width="1.1" />
<line x1="337" y1="1221.25" x2="367.8" y2="1221.25" stroke="#dedede" stroke-width="1.1" />
<line x1="337" y1="1226.5" x2="367.8" y2="1226.5" stroke="#dedede" stroke-width="1.1" />
<line x1="337" y1="1231.75" x2="367.8" y2="1231.75" stroke="#dedede" stroke-width="1.1" />
<rect x="337" y="1244.3" width="30.8" height="21" fill="#1c1c1c" stroke="#e2e2e2" stroke-width="1.3" />
<line x1="343.16" y1="1244.3" x2="343.16" y2="1265.3" stroke="#dedede" stroke-width="1.1" />
<line x1="349.32" y1="1244.3" x2="349.32" y2="1265.3" stroke="#dedede" stroke-width="1.1" />
<line x1="355.48" y1="1244.3" x2="355.48" y2="1265.3" stroke="#dedede" stroke-width="1.1" />
<line x1="361.64" y1="1244.3" x2="361.64" y2="1265.3" stroke="#dedede" stroke-width="1.1" />
<line x1="337" y1="1249.55" x2="367.8" y2="1249.55" stroke="#dedede" stroke-width="1.1" />
<line x1="337" y1="1254.8" x2="367.8" y2="1254.8" stroke="#dedede" stroke-width="1.1" />
<line x1="337" y1="1260.05" x2="367.8" y2="1260.05" stroke="#dedede" stroke-width="1.1" />
<polyline points="367.8,1234 373.2,1234 373.2,1247.6 367.8,1247.6" fill="none" stroke="#cfcfcf" stroke-width="1.3" />
<path d="M367.6 1265.3 V1280.5 H384 Q387 1280.5 387 1283.5" fill="none" stroke="#cfcfcf" stroke-width="1.3" />
<rect x="371.90000000000003" y="1278.1" width="6.8" height="4.8" fill="#000" />
<text x="375.3" y="1282.2" font-family='"Liberation Sans", sans-serif' font-size="4.6" font-weight="bold" fill="#f0f0f0" text-anchor="middle" textLength="5.6" lengthAdjust="spacingAndGlyphs" style="" >PE</text>
<rect x="337" y="1285" width="42.5" height="26.5" fill="none" stroke="#cfcfcf" stroke-width="1.5" />
<line x1="367.2" y1="1285" x2="367.2" y2="1311.5" stroke="#cfcfcf" stroke-width="1.3" />
<rect x="339.5" y="1288.5" width="26" height="17.5" fill="#2a0808" />
<text x="341.6" y="1301" font-family='"Liberation Sans", sans-serif' font-size="9.6" font-weight="bold" fill="#e23232" text-anchor="start" textLength="24" lengthAdjust="spacingAndGlyphs" style="" >INV#2</text>
<polygon points="351.4,1291.6 354.2,1291.6 352.8,1289.4" fill="#f0f0f0"/>
<rect x="350" y="1302.6" width="6" height="1.3" fill="#f4d0d0" />
<rect x="341" y="1308.3" width="20" height="1.6" fill="#e6e6e6" />
<rect x="365.5" y="1307.6" width="5" height="2.6" fill="none" stroke="#e6e6e6" stroke-width="1" />
<path d="M375.4 1311.5 V1347 H387.2 V1283.5" fill="none" stroke="#cfcfcf" stroke-width="1.3" />
<rect x="373.2" y="1314.4" width="4.4" height="7.2" fill="#000" />
<text transform="translate(377.0,1318) rotate(-90)" font-family='"Liberation Sans", sans-serif' font-size="4.6" font-weight="bold" fill="#f0f0f0" text-anchor="middle" textLength="5.8" lengthAdjust="spacingAndGlyphs">PE</text>
<rect x="373.2" y="1331.4" width="4.4" height="7.2" fill="#000" />
<text transform="translate(377.0,1335) rotate(-90)" font-family='"Liberation Sans", sans-serif' font-size="4.6" font-weight="bold" fill="#f0f0f0" text-anchor="middle" textLength="5.8" lengthAdjust="spacingAndGlyphs">PE</text>
<rect x="385.0" y="1292.9" width="4.4" height="7.2" fill="#000" />
<text transform="translate(388.8,1296.5) rotate(-90)" font-family='"Liberation Sans", sans-serif' font-size="4.6" font-weight="bold" fill="#f0f0f0" text-anchor="middle" textLength="5.8" lengthAdjust="spacingAndGlyphs">PE</text>
<rect x="385.0" y="1309.9" width="4.4" height="7.2" fill="#000" />
<text transform="translate(388.8,1313.5) rotate(-90)" font-family='"Liberation Sans", sans-serif' font-size="4.6" font-weight="bold" fill="#f0f0f0" text-anchor="middle" textLength="5.8" lengthAdjust="spacingAndGlyphs">PE</text>
<rect x="385.0" y="1326.9" width="4.4" height="7.2" fill="#000" />
<text transform="translate(388.8,1330.5) rotate(-90)" font-family='"Liberation Sans", sans-serif' font-size="4.6" font-weight="bold" fill="#f0f0f0" text-anchor="middle" textLength="5.8" lengthAdjust="spacingAndGlyphs">PE</text>
<rect x="378.8" y="1344" width="5.6" height="11.4" fill="#ededed" rx="2.4" />
<rect x="380.40000000000003" y="1347.5" width="2.4" height="1.2" fill="#666" />
<path d="M381.6 1355 V1362 C381.6 1369 375.1 1371 374.1 1380" fill="none" stroke="#e4e4e4" stroke-width="1.5" />
<line x1="373.3" y1="1381.5" x2="366.40000000000003" y2="1389.6" stroke="#f2f2f2" stroke-width="3.8" stroke-linecap="round"/>
<line x1="350" y1="1391" x2="397.8" y2="1404" stroke="#f4f4f4" stroke-width="4.3" stroke-linecap="round"/>
<line x1="362" y1="1394.4" x2="368" y2="1396" stroke="#333" stroke-width="1.6" />
<line x1="379" y1="1399" x2="387" y2="1401" stroke="#333" stroke-width="1.6" />
<path d="M380.6 1403 V1460.5 Q382.6 1464.5 384.6 1460.5 V1403" fill="none" stroke="#e8e8e8" stroke-width="1.7" />
<line x1="382.6" y1="1407" x2="382.6" y2="1413" stroke="#bdbdbd" stroke-width="1" />
<text x="424.5" y="1196.3" font-family='"Liberation Sans", sans-serif' font-size="9.8" font-weight="normal" fill="#d83434" text-anchor="start" textLength="42.5" lengthAdjust="spacingAndGlyphs" style="" stroke="#d83434" stroke-width="0.35">PV-NO#3</text>
<rect x="419.5" y="1199" width="55.5" height="75" fill="none" stroke="#cfcfcf" stroke-width="1.5" rx="4" />
<rect x="424.5" y="1216" width="30.8" height="21" fill="#1c1c1c" stroke="#e2e2e2" stroke-width="1.3" />
<line x1="430.66" y1="1216" x2="430.66" y2="1237" stroke="#dedede" stroke-width="1.1" />
<line x1="436.82" y1="1216" x2="436.82" y2="1237" stroke="#dedede" stroke-width="1.1" />
<line x1="442.98" y1="1216" x2="442.98" y2="1237" stroke="#dedede" stroke-width="1.1" />
<line x1="449.14" y1="1216" x2="449.14" y2="1237" stroke="#dedede" stroke-width="1.1" />
<line x1="424.5" y1="1221.25" x2="455.3" y2="1221.25" stroke="#dedede" stroke-width="1.1" />
<line x1="424.5" y1="1226.5" x2="455.3" y2="1226.5" stroke="#dedede" stroke-width="1.1" />
<line x1="424.5" y1="1231.75" x2="455.3" y2="1231.75" stroke="#dedede" stroke-width="1.1" />
<rect x="424.5" y="1244.3" width="30.8" height="21" fill="#1c1c1c" stroke="#e2e2e2" stroke-width="1.3" />
<line x1="430.66" y1="1244.3" x2="430.66" y2="1265.3" stroke="#dedede" stroke-width="1.1" />
<line x1="436.82" y1="1244.3" x2="436.82" y2="1265.3" stroke="#dedede" stroke-width="1.1" />
<line x1="442.98" y1="1244.3" x2="442.98" y2="1265.3" stroke="#dedede" stroke-width="1.1" />
<line x1="449.14" y1="1244.3" x2="449.14" y2="1265.3" stroke="#dedede" stroke-width="1.1" />
<line x1="424.5" y1="1249.55" x2="455.3" y2="1249.55" stroke="#dedede" stroke-width="1.1" />
<line x1="424.5" y1="1254.8" x2="455.3" y2="1254.8" stroke="#dedede" stroke-width="1.1" />
<line x1="424.5" y1="1260.05" x2="455.3" y2="1260.05" stroke="#dedede" stroke-width="1.1" />
<polyline points="455.3,1234 460.7,1234 460.7,1247.6 455.3,1247.6" fill="none" stroke="#cfcfcf" stroke-width="1.3" />
<path d="M455.1 1265.3 V1280.5 H471.5 Q474.5 1280.5 474.5 1283.5" fill="none" stroke="#cfcfcf" stroke-width="1.3" />
<rect x="459.40000000000003" y="1278.1" width="6.8" height="4.8" fill="#000" />
<text x="462.8" y="1282.2" font-family='"Liberation Sans", sans-serif' font-size="4.6" font-weight="bold" fill="#f0f0f0" text-anchor="middle" textLength="5.6" lengthAdjust="spacingAndGlyphs" style="" >PE</text>
<rect x="424.5" y="1285" width="42.5" height="26.5" fill="none" stroke="#cfcfcf" stroke-width="1.5" />
<line x1="454.7" y1="1285" x2="454.7" y2="1311.5" stroke="#cfcfcf" stroke-width="1.3" />
<rect x="427.0" y="1288.5" width="26" height="17.5" fill="#2a0808" />
<text x="429.1" y="1301" font-family='"Liberation Sans", sans-serif' font-size="9.6" font-weight="bold" fill="#e23232" text-anchor="start" textLength="24" lengthAdjust="spacingAndGlyphs" style="" >INV#3</text>
<polygon points="438.9,1291.6 441.7,1291.6 440.3,1289.4" fill="#f0f0f0"/>
<rect x="437.5" y="1302.6" width="6" height="1.3" fill="#f4d0d0" />
<rect x="428.5" y="1308.3" width="20" height="1.6" fill="#e6e6e6" />
<rect x="453.0" y="1307.6" width="5" height="2.6" fill="none" stroke="#e6e6e6" stroke-width="1" />
<path d="M462.9 1311.5 V1347 H474.7 V1283.5" fill="none" stroke="#cfcfcf" stroke-width="1.3" />
<rect x="460.7" y="1314.4" width="4.4" height="7.2" fill="#000" />
<text transform="translate(464.5,1318) rotate(-90)" font-family='"Liberation Sans", sans-serif' font-size="4.6" font-weight="bold" fill="#f0f0f0" text-anchor="middle" textLength="5.8" lengthAdjust="spacingAndGlyphs">PE</text>
<rect x="460.7" y="1331.4" width="4.4" height="7.2" fill="#000" />
<text transform="translate(464.5,1335) rotate(-90)" font-family='"Liberation Sans", sans-serif' font-size="4.6" font-weight="bold" fill="#f0f0f0" text-anchor="middle" textLength="5.8" lengthAdjust="spacingAndGlyphs">PE</text>
<rect x="472.5" y="1292.9" width="4.4" height="7.2" fill="#000" />
<text transform="translate(476.3,1296.5) rotate(-90)" font-family='"Liberation Sans", sans-serif' font-size="4.6" font-weight="bold" fill="#f0f0f0" text-anchor="middle" textLength="5.8" lengthAdjust="spacingAndGlyphs">PE</text>
<rect x="472.5" y="1309.9" width="4.4" height="7.2" fill="#000" />
<text transform="translate(476.3,1313.5) rotate(-90)" font-family='"Liberation Sans", sans-serif' font-size="4.6" font-weight="bold" fill="#f0f0f0" text-anchor="middle" textLength="5.8" lengthAdjust="spacingAndGlyphs">PE</text>
<rect x="472.5" y="1326.9" width="4.4" height="7.2" fill="#000" />
<text transform="translate(476.3,1330.5) rotate(-90)" font-family='"Liberation Sans", sans-serif' font-size="4.6" font-weight="bold" fill="#f0f0f0" text-anchor="middle" textLength="5.8" lengthAdjust="spacingAndGlyphs">PE</text>
<rect x="466.3" y="1344" width="5.6" height="11.4" fill="#ededed" rx="2.4" />
<rect x="467.90000000000003" y="1347.5" width="2.4" height="1.2" fill="#666" />
<path d="M469.1 1355 V1362 C469.1 1369 462.6 1371 461.6 1380" fill="none" stroke="#e4e4e4" stroke-width="1.5" />
<line x1="460.8" y1="1381.5" x2="453.90000000000003" y2="1389.6" stroke="#f2f2f2" stroke-width="3.8" stroke-linecap="round"/>
<line x1="437.5" y1="1391" x2="485.3" y2="1404" stroke="#f4f4f4" stroke-width="4.3" stroke-linecap="round"/>
<line x1="449.5" y1="1394.4" x2="455.5" y2="1396" stroke="#333" stroke-width="1.6" />
<line x1="466.5" y1="1399" x2="474.5" y2="1401" stroke="#333" stroke-width="1.6" />
<path d="M468.1 1403 V1460.5 Q470.1 1464.5 472.1 1460.5 V1403" fill="none" stroke="#e8e8e8" stroke-width="1.7" />
<line x1="470.1" y1="1407" x2="470.1" y2="1413" stroke="#bdbdbd" stroke-width="1" />
<text x="513" y="1196.3" font-family='"Liberation Sans", sans-serif' font-size="9.8" font-weight="normal" fill="#d83434" text-anchor="start" textLength="42.5" lengthAdjust="spacingAndGlyphs" style="" stroke="#d83434" stroke-width="0.35">PV-NO#4</text>
<rect x="508" y="1199" width="55.5" height="75" fill="none" stroke="#cfcfcf" stroke-width="1.5" rx="4" />
<rect x="513" y="1216" width="30.8" height="21" fill="#1c1c1c" stroke="#e2e2e2" stroke-width="1.3" />
<line x1="519.16" y1="1216" x2="519.16" y2="1237" stroke="#dedede" stroke-width="1.1" />
<line x1="525.32" y1="1216" x2="525.32" y2="1237" stroke="#dedede" stroke-width="1.1" />
<line x1="531.48" y1="1216" x2="531.48" y2="1237" stroke="#dedede" stroke-width="1.1" />
<line x1="537.64" y1="1216" x2="537.64" y2="1237" stroke="#dedede" stroke-width="1.1" />
<line x1="513" y1="1221.25" x2="543.8" y2="1221.25" stroke="#dedede" stroke-width="1.1" />
<line x1="513" y1="1226.5" x2="543.8" y2="1226.5" stroke="#dedede" stroke-width="1.1" />
<line x1="513" y1="1231.75" x2="543.8" y2="1231.75" stroke="#dedede" stroke-width="1.1" />
<rect x="513" y="1244.3" width="30.8" height="21" fill="#1c1c1c" stroke="#e2e2e2" stroke-width="1.3" />
<line x1="519.16" y1="1244.3" x2="519.16" y2="1265.3" stroke="#dedede" stroke-width="1.1" />
<line x1="525.32" y1="1244.3" x2="525.32" y2="1265.3" stroke="#dedede" stroke-width="1.1" />
<line x1="531.48" y1="1244.3" x2="531.48" y2="1265.3" stroke="#dedede" stroke-width="1.1" />
<line x1="537.64" y1="1244.3" x2="537.64" y2="1265.3" stroke="#dedede" stroke-width="1.1" />
<line x1="513" y1="1249.55" x2="543.8" y2="1249.55" stroke="#dedede" stroke-width="1.1" />
<line x1="513" y1="1254.8" x2="543.8" y2="1254.8" stroke="#dedede" stroke-width="1.1" />
<line x1="513" y1="1260.05" x2="543.8" y2="1260.05" stroke="#dedede" stroke-width="1.1" />
<polyline points="543.8,1234 549.2,1234 549.2,1247.6 543.8,1247.6" fill="none" stroke="#cfcfcf" stroke-width="1.3" />
<path d="M543.6 1265.3 V1280.5 H560 Q563 1280.5 563 1283.5" fill="none" stroke="#cfcfcf" stroke-width="1.3" />
<rect x="547.9" y="1278.1" width="6.8" height="4.8" fill="#000" />
<text x="551.3" y="1282.2" font-family='"Liberation Sans", sans-serif' font-size="4.6" font-weight="bold" fill="#f0f0f0" text-anchor="middle" textLength="5.6" lengthAdjust="spacingAndGlyphs" style="" >PE</text>
<rect x="513" y="1285" width="42.5" height="26.5" fill="none" stroke="#cfcfcf" stroke-width="1.5" />
<line x1="543.2" y1="1285" x2="543.2" y2="1311.5" stroke="#cfcfcf" stroke-width="1.3" />
<rect x="515.5" y="1288.5" width="26" height="17.5" fill="#2a0808" />
<text x="517.6" y="1301" font-family='"Liberation Sans", sans-serif' font-size="9.6" font-weight="bold" fill="#e23232" text-anchor="start" textLength="24" lengthAdjust="spacingAndGlyphs" style="" >INV#4</text>
<polygon points="527.4,1291.6 530.2,1291.6 528.8,1289.4" fill="#f0f0f0"/>
<rect x="526" y="1302.6" width="6" height="1.3" fill="#f4d0d0" />
<rect x="517" y="1308.3" width="20" height="1.6" fill="#e6e6e6" />
<rect x="541.5" y="1307.6" width="5" height="2.6" fill="none" stroke="#e6e6e6" stroke-width="1" />
<path d="M551.2 1311.5 V1345 L555.5999999999999 1356" fill="none" stroke="#cfcfcf" stroke-width="1.3" />
<path d="M563 1283.5 V1345 L558.0 1356" fill="none" stroke="#cfcfcf" stroke-width="1.3" />
<rect x="549.0" y="1314.4" width="4.4" height="7.2" fill="#000" />
<text transform="translate(552.8000000000001,1318) rotate(-90)" font-family='"Liberation Sans", sans-serif' font-size="4.6" font-weight="bold" fill="#f0f0f0" text-anchor="middle" textLength="5.8" lengthAdjust="spacingAndGlyphs">PE</text>
<rect x="549.0" y="1332.4" width="4.4" height="7.2" fill="#000" />
<text transform="translate(552.8000000000001,1336) rotate(-90)" font-family='"Liberation Sans", sans-serif' font-size="4.6" font-weight="bold" fill="#f0f0f0" text-anchor="middle" textLength="5.8" lengthAdjust="spacingAndGlyphs">PE</text>
<rect x="560.8" y="1292.9" width="4.4" height="7.2" fill="#000" />
<text transform="translate(564.6,1296.5) rotate(-90)" font-family='"Liberation Sans", sans-serif' font-size="4.6" font-weight="bold" fill="#f0f0f0" text-anchor="middle" textLength="5.8" lengthAdjust="spacingAndGlyphs">PE</text>
<rect x="560.8" y="1309.9" width="4.4" height="7.2" fill="#000" />
<text transform="translate(564.6,1313.5) rotate(-90)" font-family='"Liberation Sans", sans-serif' font-size="4.6" font-weight="bold" fill="#f0f0f0" text-anchor="middle" textLength="5.8" lengthAdjust="spacingAndGlyphs">PE</text>
<rect x="560.8" y="1326.9" width="4.4" height="7.2" fill="#000" />
<text transform="translate(564.6,1330.5) rotate(-90)" font-family='"Liberation Sans", sans-serif' font-size="4.6" font-weight="bold" fill="#f0f0f0" text-anchor="middle" textLength="5.8" lengthAdjust="spacingAndGlyphs">PE</text>
<circle cx="556.8" cy="1359" r="3.4" fill="#f4f4f4"/>
<text x="586.5" y="1196.3" font-family='"Liberation Sans", sans-serif' font-size="9.8" font-weight="normal" fill="#d83434" text-anchor="start" textLength="42.5" lengthAdjust="spacingAndGlyphs" style="" stroke="#d83434" stroke-width="0.35">PV-NO#5</text>
<rect x="581.5" y="1199" width="55.5" height="75" fill="none" stroke="#cfcfcf" stroke-width="1.5" rx="4" />
<rect x="586.5" y="1216" width="30.8" height="21" fill="#1c1c1c" stroke="#e2e2e2" stroke-width="1.3" />
<line x1="592.66" y1="1216" x2="592.66" y2="1237" stroke="#dedede" stroke-width="1.1" />
<line x1="598.82" y1="1216" x2="598.82" y2="1237" stroke="#dedede" stroke-width="1.1" />
<line x1="604.98" y1="1216" x2="604.98" y2="1237" stroke="#dedede" stroke-width="1.1" />
<line x1="611.14" y1="1216" x2="611.14" y2="1237" stroke="#dedede" stroke-width="1.1" />
<line x1="586.5" y1="1221.25" x2="617.3" y2="1221.25" stroke="#dedede" stroke-width="1.1" />
<line x1="586.5" y1="1226.5" x2="617.3" y2="1226.5" stroke="#dedede" stroke-width="1.1" />
<line x1="586.5" y1="1231.75" x2="617.3" y2="1231.75" stroke="#dedede" stroke-width="1.1" />
<rect x="586.5" y="1244.3" width="30.8" height="21" fill="#1c1c1c" stroke="#e2e2e2" stroke-width="1.3" />
<line x1="592.66" y1="1244.3" x2="592.66" y2="1265.3" stroke="#dedede" stroke-width="1.1" />
<line x1="598.82" y1="1244.3" x2="598.82" y2="1265.3" stroke="#dedede" stroke-width="1.1" />
<line x1="604.98" y1="1244.3" x2="604.98" y2="1265.3" stroke="#dedede" stroke-width="1.1" />
<line x1="611.14" y1="1244.3" x2="611.14" y2="1265.3" stroke="#dedede" stroke-width="1.1" />
<line x1="586.5" y1="1249.55" x2="617.3" y2="1249.55" stroke="#dedede" stroke-width="1.1" />
<line x1="586.5" y1="1254.8" x2="617.3" y2="1254.8" stroke="#dedede" stroke-width="1.1" />
<line x1="586.5" y1="1260.05" x2="617.3" y2="1260.05" stroke="#dedede" stroke-width="1.1" />
<polyline points="617.3,1234 622.7,1234 622.7,1247.6 617.3,1247.6" fill="none" stroke="#cfcfcf" stroke-width="1.3" />
<path d="M617.1 1265.3 V1280.5 H633.5 Q636.5 1280.5 636.5 1283.5" fill="none" stroke="#cfcfcf" stroke-width="1.3" />
<rect x="621.4" y="1278.1" width="6.8" height="4.8" fill="#000" />
<text x="624.8" y="1282.2" font-family='"Liberation Sans", sans-serif' font-size="4.6" font-weight="bold" fill="#f0f0f0" text-anchor="middle" textLength="5.6" lengthAdjust="spacingAndGlyphs" style="" >PE</text>
<rect x="586.5" y="1285" width="42.5" height="26.5" fill="none" stroke="#cfcfcf" stroke-width="1.5" />
<line x1="616.7" y1="1285" x2="616.7" y2="1311.5" stroke="#cfcfcf" stroke-width="1.3" />
<rect x="589.0" y="1288.5" width="26" height="17.5" fill="#2a0808" />
<text x="591.1" y="1301" font-family='"Liberation Sans", sans-serif' font-size="9.6" font-weight="bold" fill="#e23232" text-anchor="start" textLength="24" lengthAdjust="spacingAndGlyphs" style="" >INV#5</text>
<polygon points="600.9,1291.6 603.7,1291.6 602.3,1289.4" fill="#f0f0f0"/>
<rect x="599.5" y="1302.6" width="6" height="1.3" fill="#f4d0d0" />
<rect x="590.5" y="1308.3" width="20" height="1.6" fill="#e6e6e6" />
<rect x="615.0" y="1307.6" width="5" height="2.6" fill="none" stroke="#e6e6e6" stroke-width="1" />
<path d="M624.7 1311.5 V1345 L629.0999999999999 1356" fill="none" stroke="#cfcfcf" stroke-width="1.3" />
<path d="M636.5 1283.5 V1345 L631.5 1356" fill="none" stroke="#cfcfcf" stroke-width="1.3" />
<rect x="622.5" y="1314.4" width="4.4" height="7.2" fill="#000" />
<text transform="translate(626.3000000000001,1318) rotate(-90)" font-family='"Liberation Sans", sans-serif' font-size="4.6" font-weight="bold" fill="#f0f0f0" text-anchor="middle" textLength="5.8" lengthAdjust="spacingAndGlyphs">PE</text>
<rect x="622.5" y="1332.4" width="4.4" height="7.2" fill="#000" />
<text transform="translate(626.3000000000001,1336) rotate(-90)" font-family='"Liberation Sans", sans-serif' font-size="4.6" font-weight="bold" fill="#f0f0f0" text-anchor="middle" textLength="5.8" lengthAdjust="spacingAndGlyphs">PE</text>
<rect x="634.3" y="1292.9" width="4.4" height="7.2" fill="#000" />
<text transform="translate(638.1,1296.5) rotate(-90)" font-family='"Liberation Sans", sans-serif' font-size="4.6" font-weight="bold" fill="#f0f0f0" text-anchor="middle" textLength="5.8" lengthAdjust="spacingAndGlyphs">PE</text>
<rect x="634.3" y="1309.9" width="4.4" height="7.2" fill="#000" />
<text transform="translate(638.1,1313.5) rotate(-90)" font-family='"Liberation Sans", sans-serif' font-size="4.6" font-weight="bold" fill="#f0f0f0" text-anchor="middle" textLength="5.8" lengthAdjust="spacingAndGlyphs">PE</text>
<rect x="634.3" y="1326.9" width="4.4" height="7.2" fill="#000" />
<text transform="translate(638.1,1330.5) rotate(-90)" font-family='"Liberation Sans", sans-serif' font-size="4.6" font-weight="bold" fill="#f0f0f0" text-anchor="middle" textLength="5.8" lengthAdjust="spacingAndGlyphs">PE</text>
<circle cx="630.3" cy="1359" r="3.4" fill="#f4f4f4"/>
<text x="660" y="1196.3" font-family='"Liberation Sans", sans-serif' font-size="9.8" font-weight="normal" fill="#d83434" text-anchor="start" textLength="42.5" lengthAdjust="spacingAndGlyphs" style="" stroke="#d83434" stroke-width="0.35">PV-NO#6</text>
<rect x="655" y="1199" width="55.5" height="75" fill="none" stroke="#cfcfcf" stroke-width="1.5" rx="4" />
<rect x="660" y="1216" width="30.8" height="21" fill="#1c1c1c" stroke="#e2e2e2" stroke-width="1.3" />
<line x1="666.16" y1="1216" x2="666.16" y2="1237" stroke="#dedede" stroke-width="1.1" />
<line x1="672.32" y1="1216" x2="672.32" y2="1237" stroke="#dedede" stroke-width="1.1" />
<line x1="678.48" y1="1216" x2="678.48" y2="1237" stroke="#dedede" stroke-width="1.1" />
<line x1="684.64" y1="1216" x2="684.64" y2="1237" stroke="#dedede" stroke-width="1.1" />
<line x1="660" y1="1221.25" x2="690.8" y2="1221.25" stroke="#dedede" stroke-width="1.1" />
<line x1="660" y1="1226.5" x2="690.8" y2="1226.5" stroke="#dedede" stroke-width="1.1" />
<line x1="660" y1="1231.75" x2="690.8" y2="1231.75" stroke="#dedede" stroke-width="1.1" />
<rect x="660" y="1244.3" width="30.8" height="21" fill="#1c1c1c" stroke="#e2e2e2" stroke-width="1.3" />
<line x1="666.16" y1="1244.3" x2="666.16" y2="1265.3" stroke="#dedede" stroke-width="1.1" />
<line x1="672.32" y1="1244.3" x2="672.32" y2="1265.3" stroke="#dedede" stroke-width="1.1" />
<line x1="678.48" y1="1244.3" x2="678.48" y2="1265.3" stroke="#dedede" stroke-width="1.1" />
<line x1="684.64" y1="1244.3" x2="684.64" y2="1265.3" stroke="#dedede" stroke-width="1.1" />
<line x1="660" y1="1249.55" x2="690.8" y2="1249.55" stroke="#dedede" stroke-width="1.1" />
<line x1="660" y1="1254.8" x2="690.8" y2="1254.8" stroke="#dedede" stroke-width="1.1" />
<line x1="660" y1="1260.05" x2="690.8" y2="1260.05" stroke="#dedede" stroke-width="1.1" />
<polyline points="690.8,1234 696.2,1234 696.2,1247.6 690.8,1247.6" fill="none" stroke="#cfcfcf" stroke-width="1.3" />
<path d="M690.6 1265.3 V1280.5 H707 Q710 1280.5 710 1283.5" fill="none" stroke="#cfcfcf" stroke-width="1.3" />
<rect x="694.9" y="1278.1" width="6.8" height="4.8" fill="#000" />
<text x="698.3" y="1282.2" font-family='"Liberation Sans", sans-serif' font-size="4.6" font-weight="bold" fill="#f0f0f0" text-anchor="middle" textLength="5.6" lengthAdjust="spacingAndGlyphs" style="" >PE</text>
<rect x="660" y="1285" width="42.5" height="26.5" fill="none" stroke="#cfcfcf" stroke-width="1.5" />
<line x1="690.2" y1="1285" x2="690.2" y2="1311.5" stroke="#cfcfcf" stroke-width="1.3" />
<rect x="662.5" y="1288.5" width="26" height="17.5" fill="#2a0808" />
<text x="664.6" y="1301" font-family='"Liberation Sans", sans-serif' font-size="9.6" font-weight="bold" fill="#e23232" text-anchor="start" textLength="24" lengthAdjust="spacingAndGlyphs" style="" >INV#6</text>
<polygon points="674.4,1291.6 677.2,1291.6 675.8,1289.4" fill="#f0f0f0"/>
<rect x="673" y="1302.6" width="6" height="1.3" fill="#f4d0d0" />
<rect x="664" y="1308.3" width="20" height="1.6" fill="#e6e6e6" />
<rect x="688.5" y="1307.6" width="5" height="2.6" fill="none" stroke="#e6e6e6" stroke-width="1" />
<path d="M698.2 1311.5 V1345 L702.5999999999999 1356" fill="none" stroke="#cfcfcf" stroke-width="1.3" />
<path d="M710 1283.5 V1345 L705.0 1356" fill="none" stroke="#cfcfcf" stroke-width="1.3" />
<rect x="696.0" y="1314.4" width="4.4" height="7.2" fill="#000" />
<text transform="translate(699.8000000000001,1318) rotate(-90)" font-family='"Liberation Sans", sans-serif' font-size="4.6" font-weight="bold" fill="#f0f0f0" text-anchor="middle" textLength="5.8" lengthAdjust="spacingAndGlyphs">PE</text>
<rect x="696.0" y="1332.4" width="4.4" height="7.2" fill="#000" />
<text transform="translate(699.8000000000001,1336) rotate(-90)" font-family='"Liberation Sans", sans-serif' font-size="4.6" font-weight="bold" fill="#f0f0f0" text-anchor="middle" textLength="5.8" lengthAdjust="spacingAndGlyphs">PE</text>
<rect x="707.8" y="1292.9" width="4.4" height="7.2" fill="#000" />
<text transform="translate(711.6,1296.5) rotate(-90)" font-family='"Liberation Sans", sans-serif' font-size="4.6" font-weight="bold" fill="#f0f0f0" text-anchor="middle" textLength="5.8" lengthAdjust="spacingAndGlyphs">PE</text>
<rect x="707.8" y="1309.9" width="4.4" height="7.2" fill="#000" />
<text transform="translate(711.6,1313.5) rotate(-90)" font-family='"Liberation Sans", sans-serif' font-size="4.6" font-weight="bold" fill="#f0f0f0" text-anchor="middle" textLength="5.8" lengthAdjust="spacingAndGlyphs">PE</text>
<rect x="707.8" y="1326.9" width="4.4" height="7.2" fill="#000" />
<text transform="translate(711.6,1330.5) rotate(-90)" font-family='"Liberation Sans", sans-serif' font-size="4.6" font-weight="bold" fill="#f0f0f0" text-anchor="middle" textLength="5.8" lengthAdjust="spacingAndGlyphs">PE</text>
<circle cx="703.8" cy="1359" r="3.4" fill="#f4f4f4"/>
<text x="733.5" y="1196.3" font-family='"Liberation Sans", sans-serif' font-size="9.8" font-weight="normal" fill="#d83434" text-anchor="start" textLength="42.5" lengthAdjust="spacingAndGlyphs" style="" stroke="#d83434" stroke-width="0.35">PV-NO#7</text>
<rect x="728.5" y="1199" width="55.5" height="75" fill="none" stroke="#cfcfcf" stroke-width="1.5" rx="4" />
<rect x="733.5" y="1216" width="30.8" height="21" fill="#1c1c1c" stroke="#e2e2e2" stroke-width="1.3" />
<line x1="739.66" y1="1216" x2="739.66" y2="1237" stroke="#dedede" stroke-width="1.1" />
<line x1="745.82" y1="1216" x2="745.82" y2="1237" stroke="#dedede" stroke-width="1.1" />
<line x1="751.98" y1="1216" x2="751.98" y2="1237" stroke="#dedede" stroke-width="1.1" />
<line x1="758.14" y1="1216" x2="758.14" y2="1237" stroke="#dedede" stroke-width="1.1" />
<line x1="733.5" y1="1221.25" x2="764.3" y2="1221.25" stroke="#dedede" stroke-width="1.1" />
<line x1="733.5" y1="1226.5" x2="764.3" y2="1226.5" stroke="#dedede" stroke-width="1.1" />
<line x1="733.5" y1="1231.75" x2="764.3" y2="1231.75" stroke="#dedede" stroke-width="1.1" />
<rect x="733.5" y="1244.3" width="30.8" height="21" fill="#1c1c1c" stroke="#e2e2e2" stroke-width="1.3" />
<line x1="739.66" y1="1244.3" x2="739.66" y2="1265.3" stroke="#dedede" stroke-width="1.1" />
<line x1="745.82" y1="1244.3" x2="745.82" y2="1265.3" stroke="#dedede" stroke-width="1.1" />
<line x1="751.98" y1="1244.3" x2="751.98" y2="1265.3" stroke="#dedede" stroke-width="1.1" />
<line x1="758.14" y1="1244.3" x2="758.14" y2="1265.3" stroke="#dedede" stroke-width="1.1" />
<line x1="733.5" y1="1249.55" x2="764.3" y2="1249.55" stroke="#dedede" stroke-width="1.1" />
<line x1="733.5" y1="1254.8" x2="764.3" y2="1254.8" stroke="#dedede" stroke-width="1.1" />
<line x1="733.5" y1="1260.05" x2="764.3" y2="1260.05" stroke="#dedede" stroke-width="1.1" />
<polyline points="764.3,1234 769.7,1234 769.7,1247.6 764.3,1247.6" fill="none" stroke="#cfcfcf" stroke-width="1.3" />
<path d="M764.1 1265.3 V1280.5 H780.5 Q783.5 1280.5 783.5 1283.5" fill="none" stroke="#cfcfcf" stroke-width="1.3" />
<rect x="768.4" y="1278.1" width="6.8" height="4.8" fill="#000" />
<text x="771.8" y="1282.2" font-family='"Liberation Sans", sans-serif' font-size="4.6" font-weight="bold" fill="#f0f0f0" text-anchor="middle" textLength="5.6" lengthAdjust="spacingAndGlyphs" style="" >PE</text>
<rect x="733.5" y="1285" width="42.5" height="26.5" fill="none" stroke="#cfcfcf" stroke-width="1.5" />
<line x1="763.7" y1="1285" x2="763.7" y2="1311.5" stroke="#cfcfcf" stroke-width="1.3" />
<rect x="736.0" y="1288.5" width="26" height="17.5" fill="#2a0808" />
<text x="738.1" y="1301" font-family='"Liberation Sans", sans-serif' font-size="9.6" font-weight="bold" fill="#e23232" text-anchor="start" textLength="24" lengthAdjust="spacingAndGlyphs" style="" >INV#7</text>
<polygon points="747.9,1291.6 750.7,1291.6 749.3,1289.4" fill="#f0f0f0"/>
<rect x="746.5" y="1302.6" width="6" height="1.3" fill="#f4d0d0" />
<rect x="737.5" y="1308.3" width="20" height="1.6" fill="#e6e6e6" />
<rect x="762.0" y="1307.6" width="5" height="2.6" fill="none" stroke="#e6e6e6" stroke-width="1" />
<path d="M771.7 1311.5 V1345 L776.0999999999999 1356" fill="none" stroke="#cfcfcf" stroke-width="1.3" />
<path d="M783.5 1283.5 V1345 L778.5 1356" fill="none" stroke="#cfcfcf" stroke-width="1.3" />
<rect x="769.5" y="1314.4" width="4.4" height="7.2" fill="#000" />
<text transform="translate(773.3000000000001,1318) rotate(-90)" font-family='"Liberation Sans", sans-serif' font-size="4.6" font-weight="bold" fill="#f0f0f0" text-anchor="middle" textLength="5.8" lengthAdjust="spacingAndGlyphs">PE</text>
<rect x="769.5" y="1332.4" width="4.4" height="7.2" fill="#000" />
<text transform="translate(773.3000000000001,1336) rotate(-90)" font-family='"Liberation Sans", sans-serif' font-size="4.6" font-weight="bold" fill="#f0f0f0" text-anchor="middle" textLength="5.8" lengthAdjust="spacingAndGlyphs">PE</text>
<rect x="781.3" y="1292.9" width="4.4" height="7.2" fill="#000" />
<text transform="translate(785.1,1296.5) rotate(-90)" font-family='"Liberation Sans", sans-serif' font-size="4.6" font-weight="bold" fill="#f0f0f0" text-anchor="middle" textLength="5.8" lengthAdjust="spacingAndGlyphs">PE</text>
<rect x="781.3" y="1309.9" width="4.4" height="7.2" fill="#000" />
<text transform="translate(785.1,1313.5) rotate(-90)" font-family='"Liberation Sans", sans-serif' font-size="4.6" font-weight="bold" fill="#f0f0f0" text-anchor="middle" textLength="5.8" lengthAdjust="spacingAndGlyphs">PE</text>
<rect x="781.3" y="1326.9" width="4.4" height="7.2" fill="#000" />
<text transform="translate(785.1,1330.5) rotate(-90)" font-family='"Liberation Sans", sans-serif' font-size="4.6" font-weight="bold" fill="#f0f0f0" text-anchor="middle" textLength="5.8" lengthAdjust="spacingAndGlyphs">PE</text>
<circle cx="777.3" cy="1359" r="3.4" fill="#f4f4f4"/>
<text x="807" y="1196.3" font-family='"Liberation Sans", sans-serif' font-size="9.8" font-weight="normal" fill="#d83434" text-anchor="start" textLength="42.5" lengthAdjust="spacingAndGlyphs" style="" stroke="#d83434" stroke-width="0.35">PV-NO#8</text>
<rect x="802" y="1199" width="55.5" height="75" fill="none" stroke="#cfcfcf" stroke-width="1.5" rx="4" />
<rect x="807" y="1216" width="30.8" height="21" fill="#1c1c1c" stroke="#e2e2e2" stroke-width="1.3" />
<line x1="813.16" y1="1216" x2="813.16" y2="1237" stroke="#dedede" stroke-width="1.1" />
<line x1="819.32" y1="1216" x2="819.32" y2="1237" stroke="#dedede" stroke-width="1.1" />
<line x1="825.48" y1="1216" x2="825.48" y2="1237" stroke="#dedede" stroke-width="1.1" />
<line x1="831.64" y1="1216" x2="831.64" y2="1237" stroke="#dedede" stroke-width="1.1" />
<line x1="807" y1="1221.25" x2="837.8" y2="1221.25" stroke="#dedede" stroke-width="1.1" />
<line x1="807" y1="1226.5" x2="837.8" y2="1226.5" stroke="#dedede" stroke-width="1.1" />
<line x1="807" y1="1231.75" x2="837.8" y2="1231.75" stroke="#dedede" stroke-width="1.1" />
<rect x="807" y="1244.3" width="30.8" height="21" fill="#1c1c1c" stroke="#e2e2e2" stroke-width="1.3" />
<line x1="813.16" y1="1244.3" x2="813.16" y2="1265.3" stroke="#dedede" stroke-width="1.1" />
<line x1="819.32" y1="1244.3" x2="819.32" y2="1265.3" stroke="#dedede" stroke-width="1.1" />
<line x1="825.48" y1="1244.3" x2="825.48" y2="1265.3" stroke="#dedede" stroke-width="1.1" />
<line x1="831.64" y1="1244.3" x2="831.64" y2="1265.3" stroke="#dedede" stroke-width="1.1" />
<line x1="807" y1="1249.55" x2="837.8" y2="1249.55" stroke="#dedede" stroke-width="1.1" />
<line x1="807" y1="1254.8" x2="837.8" y2="1254.8" stroke="#dedede" stroke-width="1.1" />
<line x1="807" y1="1260.05" x2="837.8" y2="1260.05" stroke="#dedede" stroke-width="1.1" />
<polyline points="837.8,1234 843.2,1234 843.2,1247.6 837.8,1247.6" fill="none" stroke="#cfcfcf" stroke-width="1.3" />
<path d="M837.6 1265.3 V1280.5 H854 Q857 1280.5 857 1283.5" fill="none" stroke="#cfcfcf" stroke-width="1.3" />
<rect x="841.9" y="1278.1" width="6.8" height="4.8" fill="#000" />
<text x="845.3" y="1282.2" font-family='"Liberation Sans", sans-serif' font-size="4.6" font-weight="bold" fill="#f0f0f0" text-anchor="middle" textLength="5.6" lengthAdjust="spacingAndGlyphs" style="" >PE</text>
<rect x="807" y="1285" width="42.5" height="26.5" fill="none" stroke="#cfcfcf" stroke-width="1.5" />
<line x1="837.2" y1="1285" x2="837.2" y2="1311.5" stroke="#cfcfcf" stroke-width="1.3" />
<rect x="809.5" y="1288.5" width="26" height="17.5" fill="#2a0808" />
<text x="811.6" y="1301" font-family='"Liberation Sans", sans-serif' font-size="9.6" font-weight="bold" fill="#e23232" text-anchor="start" textLength="24" lengthAdjust="spacingAndGlyphs" style="" >INV#8</text>
<polygon points="821.4,1291.6 824.2,1291.6 822.8,1289.4" fill="#f0f0f0"/>
<rect x="820" y="1302.6" width="6" height="1.3" fill="#f4d0d0" />
<rect x="811" y="1308.3" width="20" height="1.6" fill="#e6e6e6" />
<rect x="835.5" y="1307.6" width="5" height="2.6" fill="none" stroke="#e6e6e6" stroke-width="1" />
<path d="M845.2 1311.5 V1345 L849.5999999999999 1356" fill="none" stroke="#cfcfcf" stroke-width="1.3" />
<path d="M857 1283.5 V1345 L852.0 1356" fill="none" stroke="#cfcfcf" stroke-width="1.3" />
<rect x="843.0" y="1314.4" width="4.4" height="7.2" fill="#000" />
<text transform="translate(846.8000000000001,1318) rotate(-90)" font-family='"Liberation Sans", sans-serif' font-size="4.6" font-weight="bold" fill="#f0f0f0" text-anchor="middle" textLength="5.8" lengthAdjust="spacingAndGlyphs">PE</text>
<rect x="843.0" y="1332.4" width="4.4" height="7.2" fill="#000" />
<text transform="translate(846.8000000000001,1336) rotate(-90)" font-family='"Liberation Sans", sans-serif' font-size="4.6" font-weight="bold" fill="#f0f0f0" text-anchor="middle" textLength="5.8" lengthAdjust="spacingAndGlyphs">PE</text>
<rect x="854.8" y="1292.9" width="4.4" height="7.2" fill="#000" />
<text transform="translate(858.6,1296.5) rotate(-90)" font-family='"Liberation Sans", sans-serif' font-size="4.6" font-weight="bold" fill="#f0f0f0" text-anchor="middle" textLength="5.8" lengthAdjust="spacingAndGlyphs">PE</text>
<rect x="854.8" y="1309.9" width="4.4" height="7.2" fill="#000" />
<text transform="translate(858.6,1313.5) rotate(-90)" font-family='"Liberation Sans", sans-serif' font-size="4.6" font-weight="bold" fill="#f0f0f0" text-anchor="middle" textLength="5.8" lengthAdjust="spacingAndGlyphs">PE</text>
<rect x="854.8" y="1326.9" width="4.4" height="7.2" fill="#000" />
<text transform="translate(858.6,1330.5) rotate(-90)" font-family='"Liberation Sans", sans-serif' font-size="4.6" font-weight="bold" fill="#f0f0f0" text-anchor="middle" textLength="5.8" lengthAdjust="spacingAndGlyphs">PE</text>
<circle cx="850.8" cy="1359" r="3.4" fill="#f4f4f4"/>
<text transform="translate(562.4,1372.0) rotate(66)" font-family='"Liberation Sans", sans-serif' font-size="4.4" font-weight="bold" fill="#8fe0aa" text-anchor="middle">PE</text>
<polyline points="558.0999999999999,1362 564.0,1378.5" fill="none" stroke="#279a4f" stroke-width="1.3" />
<polyline points="623.0999999999999,1378.5 629.0,1362" fill="none" stroke="#279a4f" stroke-width="1.3" />
<text transform="translate(627.3,1373.5) rotate(-66)" font-family='"Liberation Sans", sans-serif' font-size="4.4" font-weight="bold" fill="#8fe0aa" text-anchor="middle">PE</text>
<text transform="translate(635.9,1372.0) rotate(66)" font-family='"Liberation Sans", sans-serif' font-size="4.4" font-weight="bold" fill="#8fe0aa" text-anchor="middle">PE</text>
<polyline points="631.5999999999999,1362 637.5,1378.5" fill="none" stroke="#279a4f" stroke-width="1.3" />
<polyline points="696.5999999999999,1378.5 702.5,1362" fill="none" stroke="#279a4f" stroke-width="1.3" />
<text transform="translate(700.8,1373.5) rotate(-66)" font-family='"Liberation Sans", sans-serif' font-size="4.4" font-weight="bold" fill="#8fe0aa" text-anchor="middle">PE</text>
<text transform="translate(709.4,1372.0) rotate(66)" font-family='"Liberation Sans", sans-serif' font-size="4.4" font-weight="bold" fill="#8fe0aa" text-anchor="middle">PE</text>
<polyline points="705.0999999999999,1362 711.0,1378.5" fill="none" stroke="#279a4f" stroke-width="1.3" />
<polyline points="770.0999999999999,1378.5 776.0,1362" fill="none" stroke="#279a4f" stroke-width="1.3" />
<text transform="translate(774.3,1373.5) rotate(-66)" font-family='"Liberation Sans", sans-serif' font-size="4.4" font-weight="bold" fill="#8fe0aa" text-anchor="middle">PE</text>
<text transform="translate(782.9,1372.0) rotate(66)" font-family='"Liberation Sans", sans-serif' font-size="4.4" font-weight="bold" fill="#8fe0aa" text-anchor="middle">PE</text>
<polyline points="778.5999999999999,1362 784.5,1378.5" fill="none" stroke="#279a4f" stroke-width="1.3" />
<polyline points="843.5999999999999,1378.5 849.5,1362" fill="none" stroke="#279a4f" stroke-width="1.3" />
<text transform="translate(847.8,1373.5) rotate(-66)" font-family='"Liberation Sans", sans-serif' font-size="4.4" font-weight="bold" fill="#8fe0aa" text-anchor="middle">PE</text>
<polyline points="549.5999999999999,1378.5 555.5,1362" fill="none" stroke="#279a4f" stroke-width="1.3" />
<line x1="564.0" y1="1378.5" x2="623.0999999999999" y2="1378.5" stroke="#279a4f" stroke-width="1.3" />
<rect x="570.5" y="1376.1" width="6.8" height="4.8" fill="#000" />
<text x="573.9" y="1380.2" font-family='"Liberation Sans", sans-serif' font-size="4.6" font-weight="bold" fill="#8fe0aa" text-anchor="middle" textLength="5.6" lengthAdjust="spacingAndGlyphs" style="" >PE</text>
<rect x="590.1" y="1376.1" width="6.8" height="4.8" fill="#000" />
<text x="593.5" y="1380.2" font-family='"Liberation Sans", sans-serif' font-size="4.6" font-weight="bold" fill="#8fe0aa" text-anchor="middle" textLength="5.6" lengthAdjust="spacingAndGlyphs" style="" >PE</text>
<rect x="609.8000000000001" y="1376.1" width="6.8" height="4.8" fill="#000" />
<text x="613.2" y="1380.2" font-family='"Liberation Sans", sans-serif' font-size="4.6" font-weight="bold" fill="#8fe0aa" text-anchor="middle" textLength="5.6" lengthAdjust="spacingAndGlyphs" style="" >PE</text>
<line x1="637.5" y1="1378.5" x2="696.5999999999999" y2="1378.5" stroke="#279a4f" stroke-width="1.3" />
<rect x="644.0" y="1376.1" width="6.8" height="4.8" fill="#000" />
<text x="647.4" y="1380.2" font-family='"Liberation Sans", sans-serif' font-size="4.6" font-weight="bold" fill="#8fe0aa" text-anchor="middle" textLength="5.6" lengthAdjust="spacingAndGlyphs" style="" >PE</text>
<rect x="663.6" y="1376.1" width="6.8" height="4.8" fill="#000" />
<text x="667.0" y="1380.2" font-family='"Liberation Sans", sans-serif' font-size="4.6" font-weight="bold" fill="#8fe0aa" text-anchor="middle" textLength="5.6" lengthAdjust="spacingAndGlyphs" style="" >PE</text>
<rect x="683.3000000000001" y="1376.1" width="6.8" height="4.8" fill="#000" />
<text x="686.7" y="1380.2" font-family='"Liberation Sans", sans-serif' font-size="4.6" font-weight="bold" fill="#8fe0aa" text-anchor="middle" textLength="5.6" lengthAdjust="spacingAndGlyphs" style="" >PE</text>
<line x1="711.0" y1="1378.5" x2="770.0999999999999" y2="1378.5" stroke="#279a4f" stroke-width="1.3" />
<rect x="717.5" y="1376.1" width="6.8" height="4.8" fill="#000" />
<text x="720.9" y="1380.2" font-family='"Liberation Sans", sans-serif' font-size="4.6" font-weight="bold" fill="#8fe0aa" text-anchor="middle" textLength="5.6" lengthAdjust="spacingAndGlyphs" style="" >PE</text>
<rect x="737.1" y="1376.1" width="6.8" height="4.8" fill="#000" />
<text x="740.5" y="1380.2" font-family='"Liberation Sans", sans-serif' font-size="4.6" font-weight="bold" fill="#8fe0aa" text-anchor="middle" textLength="5.6" lengthAdjust="spacingAndGlyphs" style="" >PE</text>
<rect x="756.8000000000001" y="1376.1" width="6.8" height="4.8" fill="#000" />
<text x="760.2" y="1380.2" font-family='"Liberation Sans", sans-serif' font-size="4.6" font-weight="bold" fill="#8fe0aa" text-anchor="middle" textLength="5.6" lengthAdjust="spacingAndGlyphs" style="" >PE</text>
<line x1="784.5" y1="1378.5" x2="843.5999999999999" y2="1378.5" stroke="#279a4f" stroke-width="1.3" />
<rect x="791.0" y="1376.1" width="6.8" height="4.8" fill="#000" />
<text x="794.4" y="1380.2" font-family='"Liberation Sans", sans-serif' font-size="4.6" font-weight="bold" fill="#8fe0aa" text-anchor="middle" textLength="5.6" lengthAdjust="spacingAndGlyphs" style="" >PE</text>
<rect x="810.6" y="1376.1" width="6.8" height="4.8" fill="#000" />
<text x="814.0" y="1380.2" font-family='"Liberation Sans", sans-serif' font-size="4.6" font-weight="bold" fill="#8fe0aa" text-anchor="middle" textLength="5.6" lengthAdjust="spacingAndGlyphs" style="" >PE</text>
<rect x="830.3000000000001" y="1376.1" width="6.8" height="4.8" fill="#000" />
<text x="833.7" y="1380.2" font-family='"Liberation Sans", sans-serif' font-size="4.6" font-weight="bold" fill="#8fe0aa" text-anchor="middle" textLength="5.6" lengthAdjust="spacingAndGlyphs" style="" >PE</text>
<line x1="486" y1="1378.5" x2="549.5999999999999" y2="1378.5" stroke="#279a4f" stroke-width="1.3" />
<rect x="493.20000000000005" y="1376.1" width="6.8" height="4.8" fill="#000" />
<text x="496.6" y="1380.2" font-family='"Liberation Sans", sans-serif' font-size="4.6" font-weight="bold" fill="#8fe0aa" text-anchor="middle" textLength="5.6" lengthAdjust="spacingAndGlyphs" style="" >PE</text>
<rect x="514.4" y="1376.1" width="6.8" height="4.8" fill="#000" />
<text x="517.8" y="1380.2" font-family='"Liberation Sans", sans-serif' font-size="4.6" font-weight="bold" fill="#8fe0aa" text-anchor="middle" textLength="5.6" lengthAdjust="spacingAndGlyphs" style="" >PE</text>
<rect x="535.6" y="1376.1" width="6.8" height="4.8" fill="#000" />
<text x="539.0" y="1380.2" font-family='"Liberation Sans", sans-serif' font-size="4.6" font-weight="bold" fill="#8fe0aa" text-anchor="middle" textLength="5.6" lengthAdjust="spacingAndGlyphs" style="" >PE</text>
<polyline points="486,1378.5 481.5,1398" fill="none" stroke="#279a4f" stroke-width="1.3" />
<line x1="310.0" y1="1401.5" x2="310.0" y2="1378" stroke="#e22424" stroke-width="1.3" />
<rect x="307.8" y="1386.2" width="4.4" height="7.2" fill="#000" />
<text transform="translate(311.6,1389.8) rotate(-90)" font-family='"Liberation Sans", sans-serif' font-size="4.6" font-weight="bold" fill="#ff6a6a" text-anchor="middle" textLength="5.8" lengthAdjust="spacingAndGlyphs">PE</text>
<line x1="310.0" y1="1378" x2="350" y2="1378" stroke="#e22424" stroke-width="1.3" />
<rect x="316.6" y="1375.6" width="6.8" height="4.8" fill="#000" />
<text x="320.0" y="1379.7" font-family='"Liberation Sans", sans-serif' font-size="4.6" font-weight="bold" fill="#ff6a6a" text-anchor="middle" textLength="5.6" lengthAdjust="spacingAndGlyphs" style="" >PE</text>
<rect x="336.6" y="1375.6" width="6.8" height="4.8" fill="#000" />
<text x="340.0" y="1379.7" font-family='"Liberation Sans", sans-serif' font-size="4.6" font-weight="bold" fill="#ff6a6a" text-anchor="middle" textLength="5.6" lengthAdjust="spacingAndGlyphs" style="" >PE</text>
<line x1="350" y1="1378" x2="350" y2="1390" stroke="#e22424" stroke-width="1.3" />
<line x1="397.5" y1="1401.5" x2="397.5" y2="1378" stroke="#e22424" stroke-width="1.3" />
<rect x="395.3" y="1386.2" width="4.4" height="7.2" fill="#000" />
<text transform="translate(399.1,1389.8) rotate(-90)" font-family='"Liberation Sans", sans-serif' font-size="4.6" font-weight="bold" fill="#ff6a6a" text-anchor="middle" textLength="5.8" lengthAdjust="spacingAndGlyphs">PE</text>
<line x1="397.5" y1="1378" x2="437.5" y2="1378" stroke="#e22424" stroke-width="1.3" />
<rect x="404.1" y="1375.6" width="6.8" height="4.8" fill="#000" />
<text x="407.5" y="1379.7" font-family='"Liberation Sans", sans-serif' font-size="4.6" font-weight="bold" fill="#ff6a6a" text-anchor="middle" textLength="5.6" lengthAdjust="spacingAndGlyphs" style="" >PE</text>
<rect x="424.1" y="1375.6" width="6.8" height="4.8" fill="#000" />
<text x="427.5" y="1379.7" font-family='"Liberation Sans", sans-serif' font-size="4.6" font-weight="bold" fill="#ff6a6a" text-anchor="middle" textLength="5.6" lengthAdjust="spacingAndGlyphs" style="" >PE</text>
<line x1="437.5" y1="1378" x2="437.5" y2="1390" stroke="#e22424" stroke-width="1.3" />
<text x="202.5" y="1365" font-family='"Liberation Sans", sans-serif' font-size="5.8" font-weight="bold" fill="#ececec" text-anchor="start" textLength="60" lengthAdjust="spacingAndGlyphs" style="" >TỪ BÃI CỌC TIẾP ĐỊA</text>
<text x="201" y="1373" font-family='"Liberation Sans", sans-serif' font-size="5.8" font-weight="bold" fill="#ececec" text-anchor="start" textLength="61.5" lengthAdjust="spacingAndGlyphs" style="" >DỰ ÁN AGRI VINA ĐẾN</text>
<text x="330" y="1483.7" font-family='"Liberation Sans", sans-serif' font-size="9.2" font-weight="normal" fill="#ececec" text-anchor="start" textLength="75" lengthAdjust="spacingAndGlyphs" style="" stroke="#ececec" stroke-width="0.3">CỌC TIẾP ĐỊA MA ĐỒNG</text>
<polyline points="400,1486.8 325,1486.8 297,1433.7" fill="none" stroke="#cfcfcf" stroke-width="1.2" />
<text x="330" y="1497.6" font-family='"Liberation Sans", sans-serif' font-size="9.2" font-weight="normal" fill="#ececec" text-anchor="start" textLength="37" lengthAdjust="spacingAndGlyphs" style="" stroke="#ececec" stroke-width="0.3">D16, L2,4M</text>
<text x="467.5" y="1483.7" font-family='"Liberation Sans", sans-serif' font-size="9.2" font-weight="normal" fill="#ececec" text-anchor="start" textLength="179" lengthAdjust="spacingAndGlyphs" style="" stroke="#ececec" stroke-width="0.3">CÁP TIẾP ĐỊA NỐI CÁC CỌC TIẾP ĐỊA VỚI NHAU CU/PVC</text>
<polyline points="648,1486.8 460,1486.8 405,1378" fill="none" stroke="#cfcfcf" stroke-width="1.2" />
<text x="467.5" y="1500" font-family='"Liberation Sans", sans-serif' font-size="9.2" font-weight="normal" fill="#ececec" text-anchor="start" textLength="173.5" lengthAdjust="spacingAndGlyphs" style="" stroke="#ececec" stroke-width="0.3">1X50MM2 ĐI THEO MÁNG CÁP VÀ ĐI NGẦM TRONG ĐẤT</text>
<text x="547.5" y="1395" font-family='"Liberation Sans", sans-serif' font-size="9.2" font-weight="normal" fill="#ececec" text-anchor="start" textLength="103.5" lengthAdjust="spacingAndGlyphs" style="" stroke="#ececec" stroke-width="0.3">CÁP TIẾP ĐỊA TỪ HT TẤM PIN VÀ</text>
<polyline points="547.5,1398.5 652,1398.5 696,1341" fill="none" stroke="#cfcfcf" stroke-width="1.2" />
<polyline points="652,1398.5 708.7,1345" fill="none" stroke="#cfcfcf" stroke-width="1.2" />
<text x="547.5" y="1412" font-family='"Liberation Sans", sans-serif' font-size="9.2" font-weight="normal" fill="#ececec" text-anchor="start" textLength="103.5" lengthAdjust="spacingAndGlyphs" style="" stroke="#ececec" stroke-width="0.3">BIẾN TẦN  CU/PVC 1X10MM2 ĐI</text>
<text x="547.5" y="1427" font-family='"Liberation Sans", sans-serif' font-size="9.2" font-weight="normal" fill="#ececec" text-anchor="start" textLength="53.5" lengthAdjust="spacingAndGlyphs" style="" stroke="#ececec" stroke-width="0.3">THEO MÁNG CÁP</text>
<text x="687" y="1397.6" font-family='"Liberation Sans", sans-serif' font-size="9.2" font-weight="normal" fill="#ececec" text-anchor="start" textLength="71.7" lengthAdjust="spacingAndGlyphs" style="" stroke="#ececec" stroke-width="0.3">CÁP TIẾP ĐỊA CU/PVC</text>
<polyline points="687,1401 778.7,1401 797,1379" fill="none" stroke="#cfcfcf" stroke-width="1.2" />
<text x="687" y="1413" font-family='"Liberation Sans", sans-serif' font-size="9.2" font-weight="normal" fill="#ececec" text-anchor="start" textLength="95.5" lengthAdjust="spacingAndGlyphs" style="" stroke="#ececec" stroke-width="0.3">1X35MM2 ĐI THEO MÁNG CÁP</text>
<text x="703.7" y="1431" font-family='"Liberation Sans", sans-serif' font-size="9.2" font-weight="normal" fill="#ececec" text-anchor="start" textLength="87.3" lengthAdjust="spacingAndGlyphs" style="" stroke="#ececec" stroke-width="0.3">ĐIỂM KẾT NỐI TIẾP ĐỊA LẮP</text>
<polyline points="703.7,1434.5 792.5,1434.5 849,1360.5" fill="none" stroke="#cfcfcf" stroke-width="1.2" />
<text x="703.7" y="1446" font-family='"Liberation Sans", sans-serif' font-size="9.2" font-weight="normal" fill="#ececec" text-anchor="start" textLength="76.8" lengthAdjust="spacingAndGlyphs" style="" stroke="#ececec" stroke-width="0.3">TẠI VỊ TRÍ ĐẶT INVERTER</text>
<text x="413.7" y="1523" font-family='"Liberation Sans", sans-serif' font-size="10.4" font-weight="normal" fill="#f0f0f0" text-anchor="start" textLength="306" lengthAdjust="spacingAndGlyphs" style="" >SƠ ĐỒ NGUYÊN LÝ HỆ THỐNG TIẾP ĐỊA DỰ ÁN BẮC VƯƠNG</text>
<line x1="413.7" y1="1525.6" x2="720.5" y2="1525.6" stroke="#f0f0f0" stroke-width="1.1" />
</g>
</g>
</svg>
<div class="bar" id="top"><span>36. Bản vẽ điện năng lượng mặt trời</span></div>
<div class="bar" id="bot"><span>Hệ thống điện mặt trời trên mái nhà</span></div>
</body>
</html>
